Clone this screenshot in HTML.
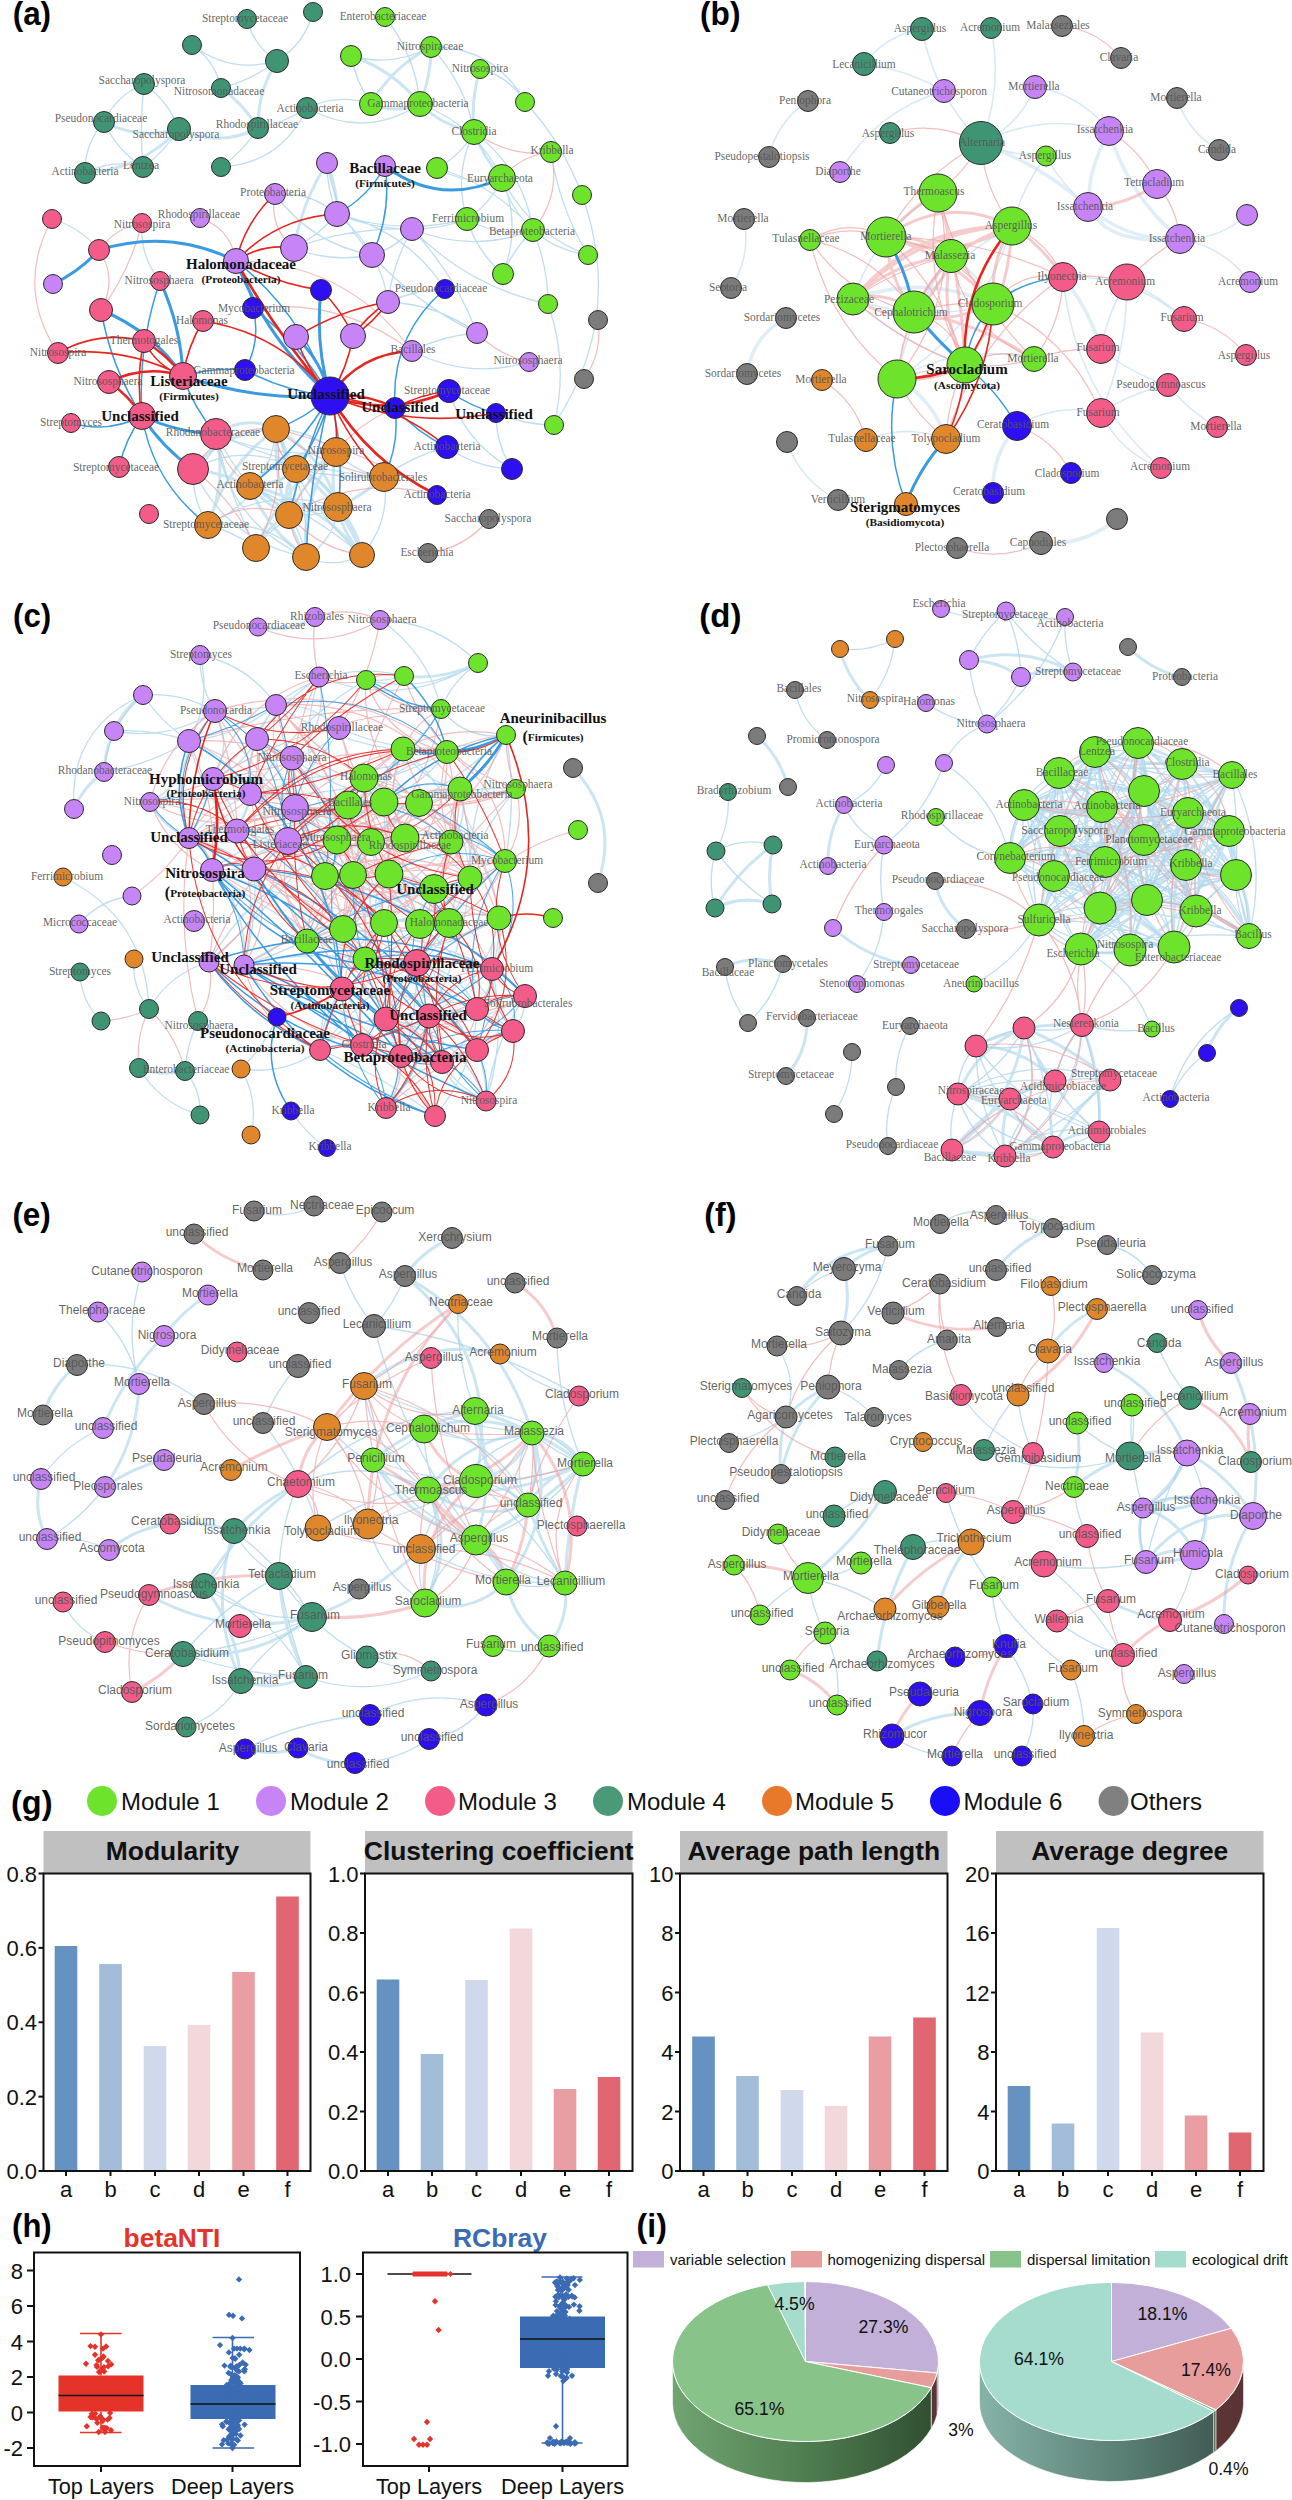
<!DOCTYPE html><html><head><meta charset="utf-8"><style>html,body{margin:0;padding:0;background:#fff;}svg{display:block;}</style></head><body>
<svg width="1292" height="2500" viewBox="0 0 1292 2500">
<rect width="1292" height="2500" fill="#fff"/>
<text x="12.7" y="25.1" font-family="Liberation Sans, sans-serif" font-weight="bold" font-size="33.6" fill="#000" textLength="38.4" lengthAdjust="spacingAndGlyphs">(a)</text>
<text x="700.1" y="25.0" font-family="Liberation Sans, sans-serif" font-weight="bold" font-size="33.6" fill="#000" textLength="40.3" lengthAdjust="spacingAndGlyphs">(b)</text>
<text x="13.0" y="627.2" font-family="Liberation Sans, sans-serif" font-weight="bold" font-size="33.6" fill="#000" textLength="38.1" lengthAdjust="spacingAndGlyphs">(c)</text>
<text x="699.3" y="627.2" font-family="Liberation Sans, sans-serif" font-weight="bold" font-size="33.6" fill="#000" textLength="42.1" lengthAdjust="spacingAndGlyphs">(d)</text>
<text x="12.4" y="1226" font-family="Liberation Sans, sans-serif" font-weight="bold" font-size="33.6" fill="#000" textLength="38.4" lengthAdjust="spacingAndGlyphs">(e)</text>
<text x="704.2" y="1226" font-family="Liberation Sans, sans-serif" font-weight="bold" font-size="33.6" fill="#000" textLength="32.2" lengthAdjust="spacingAndGlyphs">(f)</text>
<text x="11" y="1814" font-family="Liberation Sans, sans-serif" font-weight="bold" font-size="33.6" fill="#000" textLength="41.5" lengthAdjust="spacingAndGlyphs">(g)</text>
<text x="12.1" y="2237" font-family="Liberation Sans, sans-serif" font-weight="bold" font-size="33.6" fill="#000" textLength="39.6" lengthAdjust="spacingAndGlyphs">(h)</text>
<text x="636.6" y="2237" font-family="Liberation Sans, sans-serif" font-weight="bold" font-size="33.6" fill="#000" textLength="30.2" lengthAdjust="spacingAndGlyphs">(i)</text>
<path d="M247 19Q253.6 46 277 61M192 45Q230.5 74.2 277 61M313 12Q304.8 43.7 277 61M221 88Q251.7 80.1 277 61M144 84Q116.4 95 104 122M144 84Q139.3 125.5 143 167M144 84Q168.2 101.2 179 129M104 122Q116.8 150.3 143 167M104 122Q84.3 143.7 85 173M85 173Q112.8 158.4 143 167M143 167Q164.8 151.6 179 129M258 128Q284.5 122.9 307 108M221 167Q281.7 163.3 307 108M221 167Q243.4 151.2 258 128M192 45Q215.1 60.7 221 88M385 17Q415.6 55.2 420 104M351 56Q392.8 67.5 431 47M351 56Q356.2 82 371 104M431 47Q465.2 83 474 132M480 69Q509.1 76.5 525 102M431 47Q494.5 46.3 525 102M307 108Q364.7 139.9 420 104M307 108Q338.2 93.2 371 104M420 104Q475.8 124.6 502 178M474 132Q460.9 155.6 437 168M474 132Q453.1 174.1 467 219M525 102Q562.8 142.8 582 195M502 178Q509.7 208.7 533 230M502 178Q490.6 203.8 467 219M502 178Q529.6 233.7 588 255M474 132Q523.1 169.2 533 230M437 168Q467.5 186 502 178M467 219Q476.8 251.9 503 274M467 219Q440.5 229.5 412 229M533 230Q556.8 250.8 588 255M533 230Q513.6 249 503 274M533 230Q547.9 265.5 548 304M412 229Q472.3 253.7 533 230M582 195Q625.5 317 554 425M548 304Q569.1 363.6 554 425M327 163Q326.9 189.5 337 214M275 194Q310 191.6 337 214M294 248Q318.9 235.3 337 214M294 248Q331.9 263.2 372 255M337 214Q373 229 412 229M337 214Q358.6 231 372 255M372 255Q395.9 248 412 229M412 229Q392.7 263.1 388 302M372 255Q384.7 276.9 388 302M412 229Q454.9 274.5 477 333M337 214Q406 229.9 445 289M99 250Q80.2 227.4 52 219M142 223Q139.4 255.6 160 281M496 413Q495.6 443.4 512 469M447 447Q476.2 467.8 512 469M384 477Q412.5 455.7 447 447M388 302Q415.2 289.8 445 289M477 333Q442.7 335.5 412 351M449 391Q464.9 442.6 512 469M496 413Q523.8 424.8 554 425M294 248Q351.1 226.7 412 229M327 163Q335.7 215.8 372 255M275 194Q311.3 243.9 372 255M337 214Q401.2 236 467 219M412 229Q468.8 286.9 548 304M372 255Q416.7 304.5 477 333M388 302Q437.1 304.1 477 333M412 351Q468.3 379.9 529 362M437 168Q494.3 184.6 533 230M467 219Q497.8 237.7 533 230M502 178Q521.7 225.8 503 274M551 152Q559.2 207.2 588 255M276 429Q275 454.5 296 469M289 515Q314.6 517.7 338 507M276 429Q309.9 430.2 336 452M306 557Q225.9 521.2 216 434M296 469Q244.5 441.3 193 469M306 557Q334.5 569.6 362 555M276 429Q302.9 503 362 555M336 452Q273.7 458.4 216 434M336 452Q355.7 472.8 384 477M276 429Q269.2 496.3 208 525M306 557Q334.3 539.9 338 507M208 525Q264.4 518.3 306 557M216 434Q215 458.4 193 469M256 548Q228.6 493.6 216 434M289 515Q305 477.9 336 452M296 469Q276.8 487.6 250 486M208 525Q268.7 485 338 507M250 486Q296.7 506.7 306 557M296 469Q326.7 477.2 338 507M208 525Q191.8 499.3 193 469M296 469Q339.5 478.6 384 477M208 525Q234.1 532 256 548M250 486Q310.9 512.6 362 555M250 486Q230.1 461.9 216 434M296 469Q299.1 493 289 515M306 557Q227.2 541.6 193 469M384 477Q391.2 521.1 362 555M276 429Q309.7 488.6 306 557M256 548Q286.8 507.1 338 507M384 477Q296.2 470.3 216 434" fill="none" stroke="#a9d3ea" stroke-width="1.3" stroke-opacity="0.75"/>
<path d="M277 61Q257.4 91.7 258 128M221 88Q243.5 104.3 258 128M104 122Q140.1 140.5 179 129M85 173Q140.8 169.8 179 129M179 129Q218.8 148.2 258 128M351 56Q392.7 69.7 420 104M431 47Q392.4 66.5 371 104M431 47Q431.2 76.6 420 104M480 69Q470.7 99.9 474 132M371 104Q395.5 113.8 420 104M420 104Q442.8 126.1 474 132M474 132Q483.4 157.8 502 178M327 163Q337.1 187.5 337 214M327 163Q302 202.2 294 248M250 486Q265.9 505.4 289 515M296 469Q280.5 490.2 289 515M306 557Q300.3 498.6 336 452M276 429Q225.7 465.4 208 525M296 469Q342.2 501.9 362 555M276 429Q272.9 497.3 306 557M384 477Q363.1 495.3 338 507M336 452Q323.8 509.9 362 555M276 429Q294.8 470.1 289 515M289 515Q267 526 256 548M276 429Q225.5 430.3 193 469M276 429Q323.5 454.9 338 507M250 486Q318.1 500.8 362 555M250 486Q284.8 448.1 336 452M250 486Q267.3 530 306 557M276 429Q244.6 414.2 216 434M208 525Q227 480.8 216 434M296 469Q325.2 479 338 507M338 507Q357 527.5 362 555M296 469Q276.1 485.8 250 486M256 548Q281 487.5 336 452M289 515Q248.8 475.7 193 469" fill="none" stroke="#a9d3ea" stroke-width="3.0" stroke-opacity="0.6"/>
<path d="M474 132Q508.5 157.4 551 152M551 152Q561.5 195.5 533 230M502 178Q521.3 155.2 551 152M99 250Q115.1 227.9 142 223M99 250Q118 279.4 101 310M598 320Q602.8 352.3 584 379M489 519Q465.3 548.2 428 553M477 333Q498.6 355.3 529 362M275 194Q268.3 226.7 294 248M200 218Q230.9 228.7 236 261M52 219Q14.8 287.8 58 353M142 223Q130.2 270.6 101 310M253 308Q341.1 297.7 412 351M236 261Q346.5 262 412 351M250 486Q222.5 466.8 216 434M289 515Q291.4 538.5 306 557M289 515Q318 548.7 362 555M276 429Q287 492 256 548M336 452Q344 479.2 338 507M276 429Q361.6 449.6 437 495M276 429Q274.5 454.7 296 469M256 548Q234.2 500.8 193 469M289 515Q306.9 479.3 336 452M276 429Q222.7 424.5 193 469M336 452Q359.8 422.4 395 408M289 515Q245.8 497.8 208 525M276 429Q323.1 468.6 384 477M289 515Q358.8 473.8 437 495" fill="none" stroke="#eea0a3" stroke-width="1.2" stroke-opacity="0.7"/>
<path d="M385 166Q368.2 197.2 337 214M385 166Q391.9 212.4 372 255M160 281Q137.5 346.7 142 416M101 310Q110.9 367.1 142 416M183 376Q213.4 366.8 245 370M183 376Q193.7 408.3 216 434M142 416Q125.4 439.2 119 467M142 416Q107.9 433.7 71 423M142 416Q153.2 483.7 208 525M253 308Q300.3 344.3 330 396M236 261Q303.2 314.4 330 396M245 370Q284.9 391.5 330 396M296 469Q320.3 435.9 330 396M289 515Q303.6 453.4 330 396M250 486Q299 449 330 396M276 429Q306.3 417.9 330 396M338 507Q345.1 450.7 330 396M306 557Q309.9 475.3 330 396M395 408Q417.1 432.7 447 447M449 391Q470.3 406.7 496 413M445 289Q390.2 336 395 408M384 477Q399.9 444.1 395 408M253 308Q249.2 282.8 236 261M245 370Q261.4 340.6 253 308" fill="none" stroke="#3a9be0" stroke-width="1.5" stroke-opacity="1.0"/>
<path d="M385 166Q439.9 207.1 502 178M99 250Q169.7 228.1 236 261M99 250Q79.4 271.6 53 284M160 281Q181 326.2 183 376M101 310Q151.9 330.7 183 376M183 376Q254.5 400.7 330 396M142 416Q177.2 432.4 216 434M142 416Q162.2 447.6 193 469M236 261Q266.8 339.8 330 396M321 290Q314.9 343.9 330 396M296 337Q321.9 361.4 330 396" fill="none" stroke="#3a9be0" stroke-width="3.0" stroke-opacity="1.0"/>
<path d="M236 261Q245.4 221.7 275 194M236 261Q262.4 242.9 294 248M236 261Q277.1 217.3 337 214M236 261Q275.6 284 321 290M58 353Q98.6 329.8 144 341M58 353Q124 345.8 183 376M144 341Q135.5 378.3 142 416M203 321Q187.5 346.5 183 376M203 321Q281.5 333.1 330 396M144 341Q156.5 366.3 183 376M296 337Q307.1 369.9 330 396M353 336Q347.5 368.3 330 396M296 337Q338.5 310.3 388 302M353 336Q373.9 322.5 388 302M496 413Q410.4 429.4 330 396M447 447Q396.1 403.9 330 396M336 452Q338.6 423.4 330 396M384 477Q348.9 441.9 330 396M395 408Q420.3 394.1 449 391M321 290Q341.6 309.8 353 336M388 302Q367.1 315.5 353 336" fill="none" stroke="#e8241f" stroke-width="1.6" stroke-opacity="1.0"/>
<path d="M236 261Q276.2 333.2 330 396M144 341Q167 354.6 183 376M109 382Q144.8 364.2 183 376M109 382Q128.9 395.7 142 416M412 351Q359.8 353 330 396M395 408Q364.3 392.2 330 396M449 391Q390.5 417.3 330 396M437 495Q368.6 461.6 330 396" fill="none" stroke="#e8241f" stroke-width="2.6" stroke-opacity="1.0"/>
<circle cx="247" cy="19" r="9.5" fill="#3f9573" stroke="#2b2b2b" stroke-width="1"/>
<circle cx="313" cy="12" r="9.5" fill="#3f9573" stroke="#2b2b2b" stroke-width="1"/>
<circle cx="192" cy="45" r="9.5" fill="#3f9573" stroke="#2b2b2b" stroke-width="1"/>
<circle cx="277" cy="61" r="11.5" fill="#3f9573" stroke="#2b2b2b" stroke-width="1"/>
<circle cx="144" cy="84" r="10.5" fill="#3f9573" stroke="#2b2b2b" stroke-width="1"/>
<circle cx="221" cy="88" r="9.5" fill="#3f9573" stroke="#2b2b2b" stroke-width="1"/>
<circle cx="307" cy="108" r="10.5" fill="#3f9573" stroke="#2b2b2b" stroke-width="1"/>
<circle cx="104" cy="122" r="10.5" fill="#3f9573" stroke="#2b2b2b" stroke-width="1"/>
<circle cx="179" cy="129" r="11.5" fill="#3f9573" stroke="#2b2b2b" stroke-width="1"/>
<circle cx="258" cy="128" r="10.5" fill="#3f9573" stroke="#2b2b2b" stroke-width="1"/>
<circle cx="143" cy="167" r="10.5" fill="#3f9573" stroke="#2b2b2b" stroke-width="1"/>
<circle cx="85" cy="173" r="10.5" fill="#3f9573" stroke="#2b2b2b" stroke-width="1"/>
<circle cx="221" cy="167" r="9.5" fill="#3f9573" stroke="#2b2b2b" stroke-width="1"/>
<circle cx="385" cy="17" r="9.5" fill="#6de32c" stroke="#2b2b2b" stroke-width="1"/>
<circle cx="351" cy="56" r="10.5" fill="#6de32c" stroke="#2b2b2b" stroke-width="1"/>
<circle cx="431" cy="47" r="10.5" fill="#6de32c" stroke="#2b2b2b" stroke-width="1"/>
<circle cx="480" cy="69" r="9.5" fill="#6de32c" stroke="#2b2b2b" stroke-width="1"/>
<circle cx="525" cy="102" r="9.5" fill="#6de32c" stroke="#2b2b2b" stroke-width="1"/>
<circle cx="371" cy="104" r="11.5" fill="#6de32c" stroke="#2b2b2b" stroke-width="1"/>
<circle cx="420" cy="104" r="12.5" fill="#6de32c" stroke="#2b2b2b" stroke-width="1"/>
<circle cx="474" cy="132" r="12.5" fill="#6de32c" stroke="#2b2b2b" stroke-width="1"/>
<circle cx="551" cy="152" r="10.5" fill="#6de32c" stroke="#2b2b2b" stroke-width="1"/>
<circle cx="327" cy="163" r="10.5" fill="#c684f7" stroke="#2b2b2b" stroke-width="1"/>
<circle cx="385" cy="166" r="10.5" fill="#c684f7" stroke="#2b2b2b" stroke-width="1"/>
<circle cx="437" cy="168" r="10.5" fill="#6de32c" stroke="#2b2b2b" stroke-width="1"/>
<circle cx="502" cy="178" r="13.5" fill="#6de32c" stroke="#2b2b2b" stroke-width="1"/>
<circle cx="582" cy="195" r="9.5" fill="#6de32c" stroke="#2b2b2b" stroke-width="1"/>
<circle cx="337" cy="214" r="12.5" fill="#c684f7" stroke="#2b2b2b" stroke-width="1"/>
<circle cx="412" cy="229" r="11.5" fill="#c684f7" stroke="#2b2b2b" stroke-width="1"/>
<circle cx="467" cy="219" r="11.5" fill="#6de32c" stroke="#2b2b2b" stroke-width="1"/>
<circle cx="533" cy="230" r="11.5" fill="#6de32c" stroke="#2b2b2b" stroke-width="1"/>
<circle cx="588" cy="255" r="9.5" fill="#6de32c" stroke="#2b2b2b" stroke-width="1"/>
<circle cx="372" cy="255" r="12.5" fill="#c684f7" stroke="#2b2b2b" stroke-width="1"/>
<circle cx="503" cy="274" r="10.5" fill="#6de32c" stroke="#2b2b2b" stroke-width="1"/>
<circle cx="445" cy="289" r="9.5" fill="#2e0ff2" stroke="#2b2b2b" stroke-width="1"/>
<circle cx="321" cy="290" r="10.5" fill="#2e0ff2" stroke="#2b2b2b" stroke-width="1"/>
<circle cx="388" cy="302" r="11.5" fill="#c684f7" stroke="#2b2b2b" stroke-width="1"/>
<circle cx="548" cy="304" r="9.5" fill="#6de32c" stroke="#2b2b2b" stroke-width="1"/>
<circle cx="598" cy="320" r="9.5" fill="#7b7b7b" stroke="#2b2b2b" stroke-width="1"/>
<circle cx="275" cy="194" r="10.5" fill="#c684f7" stroke="#2b2b2b" stroke-width="1"/>
<circle cx="52" cy="219" r="9.5" fill="#f35b88" stroke="#2b2b2b" stroke-width="1"/>
<circle cx="142" cy="223" r="9.5" fill="#f35b88" stroke="#2b2b2b" stroke-width="1"/>
<circle cx="200" cy="218" r="9.5" fill="#c684f7" stroke="#2b2b2b" stroke-width="1"/>
<circle cx="99" cy="250" r="10.5" fill="#f35b88" stroke="#2b2b2b" stroke-width="1"/>
<circle cx="294" cy="248" r="13.5" fill="#c684f7" stroke="#2b2b2b" stroke-width="1"/>
<circle cx="236" cy="261" r="12.5" fill="#c684f7" stroke="#2b2b2b" stroke-width="1"/>
<circle cx="53" cy="284" r="9.5" fill="#c684f7" stroke="#2b2b2b" stroke-width="1"/>
<circle cx="160" cy="281" r="9.5" fill="#f35b88" stroke="#2b2b2b" stroke-width="1"/>
<circle cx="101" cy="310" r="11.5" fill="#f35b88" stroke="#2b2b2b" stroke-width="1"/>
<circle cx="253" cy="308" r="10.5" fill="#2e0ff2" stroke="#2b2b2b" stroke-width="1"/>
<circle cx="203" cy="321" r="10.5" fill="#f35b88" stroke="#2b2b2b" stroke-width="1"/>
<circle cx="296" cy="337" r="12.5" fill="#c684f7" stroke="#2b2b2b" stroke-width="1"/>
<circle cx="144" cy="341" r="11.5" fill="#f35b88" stroke="#2b2b2b" stroke-width="1"/>
<circle cx="58" cy="353" r="10.5" fill="#f35b88" stroke="#2b2b2b" stroke-width="1"/>
<circle cx="245" cy="370" r="10.5" fill="#2e0ff2" stroke="#2b2b2b" stroke-width="1"/>
<circle cx="183" cy="376" r="13.5" fill="#f35b88" stroke="#2b2b2b" stroke-width="1"/>
<circle cx="109" cy="382" r="11.5" fill="#f35b88" stroke="#2b2b2b" stroke-width="1"/>
<circle cx="330" cy="396" r="19" fill="#2e0ff2" stroke="#2b2b2b" stroke-width="1"/>
<circle cx="142" cy="416" r="13.5" fill="#f35b88" stroke="#2b2b2b" stroke-width="1"/>
<circle cx="71" cy="423" r="9.5" fill="#f35b88" stroke="#2b2b2b" stroke-width="1"/>
<circle cx="276" cy="429" r="13.5" fill="#e0872b" stroke="#2b2b2b" stroke-width="1"/>
<circle cx="216" cy="434" r="15.5" fill="#f35b88" stroke="#2b2b2b" stroke-width="1"/>
<circle cx="119" cy="467" r="10.5" fill="#f35b88" stroke="#2b2b2b" stroke-width="1"/>
<circle cx="193" cy="469" r="15.5" fill="#f35b88" stroke="#2b2b2b" stroke-width="1"/>
<circle cx="296" cy="469" r="13.5" fill="#e0872b" stroke="#2b2b2b" stroke-width="1"/>
<circle cx="250" cy="486" r="13.5" fill="#e0872b" stroke="#2b2b2b" stroke-width="1"/>
<circle cx="149" cy="514" r="9.5" fill="#f35b88" stroke="#2b2b2b" stroke-width="1"/>
<circle cx="289" cy="515" r="13.5" fill="#e0872b" stroke="#2b2b2b" stroke-width="1"/>
<circle cx="208" cy="525" r="13.5" fill="#e0872b" stroke="#2b2b2b" stroke-width="1"/>
<circle cx="256" cy="548" r="13.5" fill="#e0872b" stroke="#2b2b2b" stroke-width="1"/>
<circle cx="306" cy="557" r="13.5" fill="#e0872b" stroke="#2b2b2b" stroke-width="1"/>
<circle cx="353" cy="336" r="12.5" fill="#c684f7" stroke="#2b2b2b" stroke-width="1"/>
<circle cx="477" cy="333" r="10.5" fill="#c684f7" stroke="#2b2b2b" stroke-width="1"/>
<circle cx="412" cy="351" r="10.5" fill="#c684f7" stroke="#2b2b2b" stroke-width="1"/>
<circle cx="529" cy="362" r="9.5" fill="#c684f7" stroke="#2b2b2b" stroke-width="1"/>
<circle cx="584" cy="379" r="9.5" fill="#7b7b7b" stroke="#2b2b2b" stroke-width="1"/>
<circle cx="449" cy="391" r="11.5" fill="#2e0ff2" stroke="#2b2b2b" stroke-width="1"/>
<circle cx="395" cy="408" r="10.5" fill="#2e0ff2" stroke="#2b2b2b" stroke-width="1"/>
<circle cx="496" cy="413" r="9.5" fill="#2e0ff2" stroke="#2b2b2b" stroke-width="1"/>
<circle cx="554" cy="425" r="9.5" fill="#6de32c" stroke="#2b2b2b" stroke-width="1"/>
<circle cx="336" cy="452" r="14.5" fill="#e0872b" stroke="#2b2b2b" stroke-width="1"/>
<circle cx="447" cy="447" r="11.5" fill="#2e0ff2" stroke="#2b2b2b" stroke-width="1"/>
<circle cx="384" cy="477" r="14.5" fill="#e0872b" stroke="#2b2b2b" stroke-width="1"/>
<circle cx="512" cy="469" r="10.5" fill="#2e0ff2" stroke="#2b2b2b" stroke-width="1"/>
<circle cx="437" cy="495" r="9.5" fill="#2e0ff2" stroke="#2b2b2b" stroke-width="1"/>
<circle cx="338" cy="507" r="14.5" fill="#e0872b" stroke="#2b2b2b" stroke-width="1"/>
<circle cx="489" cy="519" r="9.5" fill="#7b7b7b" stroke="#2b2b2b" stroke-width="1"/>
<circle cx="362" cy="555" r="12.5" fill="#e0872b" stroke="#2b2b2b" stroke-width="1"/>
<circle cx="428" cy="553" r="9.5" fill="#7b7b7b" stroke="#2b2b2b" stroke-width="1"/>
<g font-family="Liberation Serif, serif" font-size="12.1" fill="#555" fill-opacity="0.92" text-anchor="middle" lengthAdjust="spacingAndGlyphs">
<text x="245" y="22" textLength="86.1" lengthAdjust="spacingAndGlyphs">Streptomycetaceae</text>
<text x="142" y="84" textLength="86.8" lengthAdjust="spacingAndGlyphs">Saccharopolyspora</text>
<text x="219" y="95" textLength="90.5" lengthAdjust="spacingAndGlyphs">Nitrosomonadaceae</text>
<text x="310" y="112" textLength="67.1" lengthAdjust="spacingAndGlyphs">Actinobacteria</text>
<text x="101" y="122" textLength="92.5" lengthAdjust="spacingAndGlyphs">Pseudonocardiaceae</text>
<text x="176" y="138" textLength="86.8" lengthAdjust="spacingAndGlyphs">Saccharopolyspora</text>
<text x="257" y="128" textLength="82.3" lengthAdjust="spacingAndGlyphs">Rhodospirillaceae</text>
<text x="141" y="169" textLength="36.1" lengthAdjust="spacingAndGlyphs">Lentzea</text>
<text x="85" y="175" textLength="67.1" lengthAdjust="spacingAndGlyphs">Actinobacteria</text>
<text x="273" y="196" textLength="65.9" lengthAdjust="spacingAndGlyphs">Proteobacteria</text>
<text x="199" y="218" textLength="82.3" lengthAdjust="spacingAndGlyphs">Rhodospirillaceae</text>
<text x="142" y="228" textLength="56.4" lengthAdjust="spacingAndGlyphs">Nitrosospira</text>
<text x="159" y="284" textLength="69" lengthAdjust="spacingAndGlyphs">Nitrososphaera</text>
<text x="383" y="20" textLength="86.7" lengthAdjust="spacingAndGlyphs">Enterobacteriaceae</text>
<text x="430" y="50" textLength="66.5" lengthAdjust="spacingAndGlyphs">Nitrospiraceae</text>
<text x="480" y="72" textLength="56.4" lengthAdjust="spacingAndGlyphs">Nitrosospira</text>
<text x="418" y="107" textLength="101.3" lengthAdjust="spacingAndGlyphs">Gammaproteobacteria</text>
<text x="474" y="135" textLength="45" lengthAdjust="spacingAndGlyphs">Clostridia</text>
<text x="552" y="154" textLength="43.1" lengthAdjust="spacingAndGlyphs">Kribbella</text>
<text x="500" y="182" textLength="65.8" lengthAdjust="spacingAndGlyphs">Euryarchaeota</text>
<text x="468" y="222" textLength="72.2" lengthAdjust="spacingAndGlyphs">Ferrimicrobium</text>
<text x="532" y="235" textLength="86.1" lengthAdjust="spacingAndGlyphs">Betaproteobacteria</text>
<text x="441" y="292" textLength="92.5" lengthAdjust="spacingAndGlyphs">Pseudonocardiaceae</text>
<text x="254" y="312" textLength="72.2" lengthAdjust="spacingAndGlyphs">Mycobacterium</text>
<text x="202" y="324" textLength="51.9" lengthAdjust="spacingAndGlyphs">Halomonas</text>
<text x="144" y="344" textLength="68.4" lengthAdjust="spacingAndGlyphs">Thermotogales</text>
<text x="58" y="356" textLength="56.4" lengthAdjust="spacingAndGlyphs">Nitrosospira</text>
<text x="244" y="374" textLength="101.3" lengthAdjust="spacingAndGlyphs">Gammaproteobacteria</text>
<text x="108" y="385" textLength="69" lengthAdjust="spacingAndGlyphs">Nitrososphaera</text>
<text x="71" y="426" textLength="62.1" lengthAdjust="spacingAndGlyphs">Streptomyces</text>
<text x="213" y="436" textLength="94.3" lengthAdjust="spacingAndGlyphs">Rhodanobacteraceae</text>
<text x="116" y="471" textLength="86.1" lengthAdjust="spacingAndGlyphs">Streptomycetaceae</text>
<text x="285" y="470" textLength="86.1" lengthAdjust="spacingAndGlyphs">Streptomycetaceae</text>
<text x="250" y="488" textLength="67.1" lengthAdjust="spacingAndGlyphs">Actinobacteria</text>
<text x="206" y="528" textLength="86.1" lengthAdjust="spacingAndGlyphs">Streptomycetaceae</text>
<text x="413" y="353" textLength="45" lengthAdjust="spacingAndGlyphs">Bacillales</text>
<text x="528" y="364" textLength="69" lengthAdjust="spacingAndGlyphs">Nitrososphaera</text>
<text x="447" y="394" textLength="86.1" lengthAdjust="spacingAndGlyphs">Streptomycetaceae</text>
<text x="447" y="450" textLength="67.1" lengthAdjust="spacingAndGlyphs">Actinobacteria</text>
<text x="336" y="454" textLength="56.4" lengthAdjust="spacingAndGlyphs">Nitrosospira</text>
<text x="383" y="481" textLength="88.7" lengthAdjust="spacingAndGlyphs">Solirubrobacterales</text>
<text x="437" y="498" textLength="67.1" lengthAdjust="spacingAndGlyphs">Actinobacteria</text>
<text x="337" y="511" textLength="69" lengthAdjust="spacingAndGlyphs">Nitrososphaera</text>
<text x="488" y="522" textLength="86.8" lengthAdjust="spacingAndGlyphs">Saccharopolyspora</text>
<text x="427" y="556" textLength="53.2" lengthAdjust="spacingAndGlyphs">Escherichia</text>
</g>
<g font-family="Liberation Serif, serif" font-weight="bold" fill="#111" text-anchor="middle">
<text x="241" y="269.2" font-size="15.0">Halomonadaceae</text>
<text x="241" y="283" font-size="11.3">(Proteobacteria)</text>
<text x="385" y="173.2" font-size="15.0">Bacillaceae</text>
<text x="385" y="187" font-size="11.3">(Firmicutes)</text>
<text x="189" y="386.2" font-size="15.0">Listeriaceae</text>
<text x="189" y="400" font-size="11.3">(Firmicutes)</text>
<text x="140" y="421.2" font-size="15.0">Unclassified</text>
<text x="326" y="399.2" font-size="15.0">Unclassified</text>
<text x="400" y="412.2" font-size="15.0">Unclassified</text>
<text x="494" y="419.2" font-size="15.0">Unclassified</text>
</g>
<path d="M808 101Q777.3 121.2 769 157M744 219Q751.3 256.1 731 288M787 442Q800.9 481.2 838 500M1177 98Q1187.6 132.4 1219 150M1180 239Q1218.3 240.4 1247 215M1180 239Q1223.6 246.5 1250 282M981 143Q1019.2 125.8 1035 87M981 143Q1042.6 111.4 1109 131M981 143Q1012.2 156 1046 156M944 91Q875.8 110.7 840 172M864 64Q886 34.9 922 29M864 64Q906.7 69.5 944 91M991 28Q1003.2 87 981 143M922 29Q934.4 94.8 981 143M1035 87Q1080.8 94.2 1109 131M1168 385Q1188.3 410.9 1217 427M1101 413Q1120 452.5 1161 468M1127 282Q1107.3 312.9 1101 349M1184 319Q1131.9 273.8 1063 277M1017 426Q1056.4 402.7 1101 413M946 439Q905.8 423.5 866 440M1046 156Q1061.9 185.7 1088 207M1046 156Q1022 187.6 1012 226M1101 349Q1130.9 373.7 1168 385M1101 413Q1131.7 392.3 1168 385M1127 282Q1159.2 294.8 1184 319M1063 277Q1073.8 392.1 1161 468M1101 413Q1127.1 350.1 1127 282M1012 226Q983.3 324.2 897 379M853 299Q922.2 323.9 993 304M938 193Q876 230.4 853 299M853 299Q902.4 343.3 965 365M951 256Q910.1 311.4 897 379M1012 226Q953.1 257.7 914 312M951 256Q979.1 273.7 993 304M897 379Q961.6 342.4 1034 359" fill="none" stroke="#c9e2f2" stroke-width="1.56" stroke-opacity="0.75"/>
<path d="M786 318Q752.5 336.2 747 374M1017 426Q991.6 454.7 993 493M1041 543Q1083.8 546.2 1117 519M1109 131Q1047.3 248.9 1180 239M1109 131Q1128.3 195.7 1180 239M1088 207Q1127.6 241.4 1180 239M981 143Q1040.9 164.3 1088 207M1063 277Q1089.2 309.2 1101 349M853 299Q924 273.5 993 304M897 379Q933.5 399.2 946 439" fill="none" stroke="#c9e2f2" stroke-width="3.5999999999999996" stroke-opacity="0.6"/>
<path d="M822 380Q856 401.2 866 440M1017 426Q1053.4 438.7 1071 473M957 548Q1000 562.3 1041 543M1062 26Q1097.9 30.2 1121 58M1109 131Q1141 150.3 1157 184M1157 184Q1176.8 208.1 1180 239M1180 239Q1149.2 255.2 1127 282M981 143Q937.5 119.8 890 133M981 143Q984 189.2 1012 226M981 143Q964.5 172.3 938 193M981 143Q919.4 175.8 886 237M1184 319Q1222.2 324.6 1246 355M1101 413Q1068.8 336.9 993 304M1127 282Q1095.5 273.1 1063 277M965 365Q1000.1 368.9 1034 359M1034 359Q1066.5 347.3 1101 349M810 240Q847.4 223.3 886 237M810 240Q847.6 296.8 914 312M1012 226Q1047.7 241.3 1063 277M938 193Q962.9 289.4 1034 359M951 256Q965 329.6 1034 359M886 237Q954.1 247.1 993 304M897 379Q914.7 414.5 946 439M886 237Q943.5 289.9 965 365M965 365Q930.2 368.1 897 379M951 256Q974.8 277.6 993 304M853 299Q902 343.8 965 365M886 237Q919.7 242.5 951 256M938 193Q962.7 296 897 379M965 365Q998.1 345.6 1034 359M951 256Q897.9 268.2 853 299M914 312Q901.5 344.5 897 379M897 379Q829.2 324.7 810 240M938 193Q920.8 283.8 965 365M965 365Q947.9 400.1 946 439M951 256Q903.8 308.6 897 379M886 237Q978.9 237.5 1063 277M1034 359Q1062.1 322.8 1063 277M993 304Q984.8 337.2 965 365M914 312Q954.2 324.3 965 365M886 237Q847.1 216.7 810 240M914 312Q952.7 300.5 993 304M946 439Q976.1 337.5 1063 277M914 312Q876.7 254.7 810 240M993 304Q1019.9 269.5 1063 277" fill="none" stroke="#eea0a3" stroke-width="1.2" stroke-opacity="0.7"/>
<path d="M1088 207Q1126 205.8 1157 184M1063 277Q1042.6 246.4 1012 226M886 237Q945.7 193.7 1012 226M853 299Q917.9 230.7 1012 226M886 237Q949.5 254.4 993 304M938 193Q907.6 209.8 886 237M853 299Q921.8 336.5 993 304M951 256Q938.4 313 965 365M886 237Q921.8 235.1 951 256M1012 226Q989.7 261.9 993 304M951 256Q941 289.6 914 312M1012 226Q943.5 246.8 914 312M1012 226Q915 224.4 853 299M938 193Q961.4 277.4 965 365M886 237Q888.7 278.7 914 312M1012 226Q1008.9 302.4 965 365M853 299Q886.9 289.5 914 312M914 312Q978.9 323.1 1034 359M951 256Q894.8 261.1 853 299M965 365Q933.2 382.5 897 379M886 237Q951.7 262.3 1012 226" fill="none" stroke="#eea0a3" stroke-width="3.0" stroke-opacity="0.55"/>
<path d="M1063 277Q1024 280 993 304M993 304Q969.9 330.3 965 365M965 365Q997.1 390.3 1017 426M897 379Q882.8 442.9 906 504" fill="none" stroke="#3a9be0" stroke-width="1.5" stroke-opacity="1.0"/>
<path d="M886 237Q907.5 271.7 914 312M914 312Q936.9 341.1 965 365M946 439Q919.5 467.5 906 504" fill="none" stroke="#3a9be0" stroke-width="3.0" stroke-opacity="1.0"/>
<path d="M993 304Q985.1 337.3 965 365M946 439Q962.9 403.9 965 365M993 304Q989.8 378.6 946 439" fill="none" stroke="#e8241f" stroke-width="1.6" stroke-opacity="1.0"/>
<path d="M1012 226Q960.7 286.1 965 365M897 379Q932.4 378.8 965 365" fill="none" stroke="#e8241f" stroke-width="2.6" stroke-opacity="1.0"/>
<circle cx="922" cy="29" r="11.5" fill="#3f9573" stroke="#2b2b2b" stroke-width="1"/>
<circle cx="864" cy="64" r="11.5" fill="#3f9573" stroke="#2b2b2b" stroke-width="1"/>
<circle cx="808" cy="101" r="10.5" fill="#7b7b7b" stroke="#2b2b2b" stroke-width="1"/>
<circle cx="944" cy="91" r="11.5" fill="#c684f7" stroke="#2b2b2b" stroke-width="1"/>
<circle cx="890" cy="133" r="10.5" fill="#3f9573" stroke="#2b2b2b" stroke-width="1"/>
<circle cx="769" cy="157" r="10.5" fill="#7b7b7b" stroke="#2b2b2b" stroke-width="1"/>
<circle cx="840" cy="172" r="10.5" fill="#c684f7" stroke="#2b2b2b" stroke-width="1"/>
<circle cx="938" cy="193" r="19" fill="#6de32c" stroke="#2b2b2b" stroke-width="1"/>
<circle cx="744" cy="219" r="10.5" fill="#7b7b7b" stroke="#2b2b2b" stroke-width="1"/>
<circle cx="810" cy="240" r="10.5" fill="#6de32c" stroke="#2b2b2b" stroke-width="1"/>
<circle cx="886" cy="237" r="20" fill="#6de32c" stroke="#2b2b2b" stroke-width="1"/>
<circle cx="951" cy="256" r="16.5" fill="#6de32c" stroke="#2b2b2b" stroke-width="1"/>
<circle cx="731" cy="288" r="10.5" fill="#7b7b7b" stroke="#2b2b2b" stroke-width="1"/>
<circle cx="853" cy="299" r="16" fill="#6de32c" stroke="#2b2b2b" stroke-width="1"/>
<circle cx="991" cy="28" r="10.5" fill="#3f9573" stroke="#2b2b2b" stroke-width="1"/>
<circle cx="1062" cy="26" r="10.5" fill="#7b7b7b" stroke="#2b2b2b" stroke-width="1"/>
<circle cx="1121" cy="58" r="10.5" fill="#7b7b7b" stroke="#2b2b2b" stroke-width="1"/>
<circle cx="1035" cy="87" r="11.5" fill="#c684f7" stroke="#2b2b2b" stroke-width="1"/>
<circle cx="1177" cy="98" r="10.5" fill="#7b7b7b" stroke="#2b2b2b" stroke-width="1"/>
<circle cx="981" cy="143" r="21.5" fill="#3f9573" stroke="#2b2b2b" stroke-width="1"/>
<circle cx="1109" cy="131" r="14.5" fill="#c684f7" stroke="#2b2b2b" stroke-width="1"/>
<circle cx="1046" cy="156" r="10" fill="#6de32c" stroke="#2b2b2b" stroke-width="1"/>
<circle cx="1219" cy="150" r="10.5" fill="#7b7b7b" stroke="#2b2b2b" stroke-width="1"/>
<circle cx="1157" cy="184" r="14.5" fill="#c684f7" stroke="#2b2b2b" stroke-width="1"/>
<circle cx="1088" cy="207" r="14.5" fill="#c684f7" stroke="#2b2b2b" stroke-width="1"/>
<circle cx="1012" cy="226" r="19" fill="#6de32c" stroke="#2b2b2b" stroke-width="1"/>
<circle cx="1247" cy="215" r="10.5" fill="#c684f7" stroke="#2b2b2b" stroke-width="1"/>
<circle cx="1180" cy="239" r="14.5" fill="#c684f7" stroke="#2b2b2b" stroke-width="1"/>
<circle cx="1063" cy="277" r="14.5" fill="#f35b88" stroke="#2b2b2b" stroke-width="1"/>
<circle cx="1127" cy="282" r="18" fill="#f35b88" stroke="#2b2b2b" stroke-width="1"/>
<circle cx="1250" cy="282" r="10.5" fill="#c684f7" stroke="#2b2b2b" stroke-width="1"/>
<circle cx="914" cy="312" r="21" fill="#6de32c" stroke="#2b2b2b" stroke-width="1"/>
<circle cx="786" cy="318" r="10.5" fill="#7b7b7b" stroke="#2b2b2b" stroke-width="1"/>
<circle cx="897" cy="379" r="19" fill="#6de32c" stroke="#2b2b2b" stroke-width="1"/>
<circle cx="747" cy="374" r="10.5" fill="#7b7b7b" stroke="#2b2b2b" stroke-width="1"/>
<circle cx="822" cy="380" r="10.5" fill="#e0872b" stroke="#2b2b2b" stroke-width="1"/>
<circle cx="787" cy="442" r="10.5" fill="#7b7b7b" stroke="#2b2b2b" stroke-width="1"/>
<circle cx="866" cy="440" r="11.5" fill="#e0872b" stroke="#2b2b2b" stroke-width="1"/>
<circle cx="946" cy="439" r="14.5" fill="#e0872b" stroke="#2b2b2b" stroke-width="1"/>
<circle cx="838" cy="500" r="10.5" fill="#7b7b7b" stroke="#2b2b2b" stroke-width="1"/>
<circle cx="906" cy="504" r="11.5" fill="#e0872b" stroke="#2b2b2b" stroke-width="1"/>
<circle cx="957" cy="548" r="10.5" fill="#7b7b7b" stroke="#2b2b2b" stroke-width="1"/>
<circle cx="993" cy="304" r="21" fill="#6de32c" stroke="#2b2b2b" stroke-width="1"/>
<circle cx="1184" cy="319" r="12.5" fill="#f35b88" stroke="#2b2b2b" stroke-width="1"/>
<circle cx="1101" cy="349" r="14.5" fill="#f35b88" stroke="#2b2b2b" stroke-width="1"/>
<circle cx="1034" cy="359" r="12.5" fill="#6de32c" stroke="#2b2b2b" stroke-width="1"/>
<circle cx="965" cy="365" r="18" fill="#6de32c" stroke="#2b2b2b" stroke-width="1"/>
<circle cx="1246" cy="355" r="10.5" fill="#f35b88" stroke="#2b2b2b" stroke-width="1"/>
<circle cx="1168" cy="385" r="11.5" fill="#f35b88" stroke="#2b2b2b" stroke-width="1"/>
<circle cx="1101" cy="413" r="14.5" fill="#f35b88" stroke="#2b2b2b" stroke-width="1"/>
<circle cx="1017" cy="426" r="14.5" fill="#2e0ff2" stroke="#2b2b2b" stroke-width="1"/>
<circle cx="1217" cy="427" r="10.5" fill="#f35b88" stroke="#2b2b2b" stroke-width="1"/>
<circle cx="1161" cy="468" r="10.5" fill="#f35b88" stroke="#2b2b2b" stroke-width="1"/>
<circle cx="1071" cy="473" r="10.5" fill="#2e0ff2" stroke="#2b2b2b" stroke-width="1"/>
<circle cx="993" cy="493" r="10.5" fill="#2e0ff2" stroke="#2b2b2b" stroke-width="1"/>
<circle cx="1117" cy="519" r="10.5" fill="#7b7b7b" stroke="#2b2b2b" stroke-width="1"/>
<circle cx="1041" cy="543" r="11.5" fill="#7b7b7b" stroke="#2b2b2b" stroke-width="1"/>
<g font-family="Liberation Serif, serif" font-size="12.1" fill="#555" fill-opacity="0.92" text-anchor="middle" lengthAdjust="spacingAndGlyphs">
<text x="920" y="32" textLength="52.4" lengthAdjust="spacingAndGlyphs">Aspergillus</text>
<text x="864" y="68" textLength="63.3" lengthAdjust="spacingAndGlyphs">Lecanicillium</text>
<text x="805" y="104" textLength="51.9" lengthAdjust="spacingAndGlyphs">Peniophora</text>
<text x="939" y="95" textLength="95.7" lengthAdjust="spacingAndGlyphs">Cutaneotrichosporon</text>
<text x="888" y="137" textLength="52.4" lengthAdjust="spacingAndGlyphs">Aspergillus</text>
<text x="762" y="160" textLength="95" lengthAdjust="spacingAndGlyphs">Pseudopestalotiopsis</text>
<text x="838" y="175" textLength="45.6" lengthAdjust="spacingAndGlyphs">Diaporthe</text>
<text x="934" y="195" textLength="60.8" lengthAdjust="spacingAndGlyphs">Thermoascus</text>
<text x="743" y="222" textLength="51.3" lengthAdjust="spacingAndGlyphs">Mortierella</text>
<text x="806" y="242" textLength="67.3" lengthAdjust="spacingAndGlyphs">Tulasnellaceae</text>
<text x="886" y="240" textLength="51.3" lengthAdjust="spacingAndGlyphs">Mortierella</text>
<text x="950" y="259" textLength="50.7" lengthAdjust="spacingAndGlyphs">Malassezia</text>
<text x="728" y="291" textLength="38" lengthAdjust="spacingAndGlyphs">Septoria</text>
<text x="849" y="303" textLength="50" lengthAdjust="spacingAndGlyphs">Pezizaceae</text>
<text x="990" y="31" textLength="60.1" lengthAdjust="spacingAndGlyphs">Acremonium</text>
<text x="1058" y="29" textLength="63.3" lengthAdjust="spacingAndGlyphs">Malasseziales</text>
<text x="1119" y="61" textLength="38.6" lengthAdjust="spacingAndGlyphs">Clavaria</text>
<text x="1034" y="90" textLength="51.3" lengthAdjust="spacingAndGlyphs">Mortierella</text>
<text x="1176" y="101" textLength="51.3" lengthAdjust="spacingAndGlyphs">Mortierella</text>
<text x="982" y="146" textLength="46.2" lengthAdjust="spacingAndGlyphs">Alternaria</text>
<text x="1105" y="133" textLength="56.4" lengthAdjust="spacingAndGlyphs">Issatchenkia</text>
<text x="1045" y="159" textLength="52.4" lengthAdjust="spacingAndGlyphs">Aspergillus</text>
<text x="1217" y="153" textLength="38" lengthAdjust="spacingAndGlyphs">Candida</text>
<text x="1154" y="186" textLength="60" lengthAdjust="spacingAndGlyphs">Tetracladium</text>
<text x="1085" y="210" textLength="56.4" lengthAdjust="spacingAndGlyphs">Issatchenkia</text>
<text x="1011" y="229" textLength="52.4" lengthAdjust="spacingAndGlyphs">Aspergillus</text>
<text x="1177" y="242" textLength="56.4" lengthAdjust="spacingAndGlyphs">Issatchenkia</text>
<text x="1062" y="280" textLength="49.4" lengthAdjust="spacingAndGlyphs">Ilyonectria</text>
<text x="1125" y="285" textLength="60.1" lengthAdjust="spacingAndGlyphs">Acremonium</text>
<text x="1248" y="285" textLength="60.1" lengthAdjust="spacingAndGlyphs">Acremonium</text>
<text x="782" y="321" textLength="76.6" lengthAdjust="spacingAndGlyphs">Sordariomycetes</text>
<text x="911" y="316" textLength="73.5" lengthAdjust="spacingAndGlyphs">Cephalotrichum</text>
<text x="743" y="377" textLength="76.6" lengthAdjust="spacingAndGlyphs">Sordariomycetes</text>
<text x="821" y="383" textLength="51.3" lengthAdjust="spacingAndGlyphs">Mortierella</text>
<text x="862" y="442" textLength="67.3" lengthAdjust="spacingAndGlyphs">Tulasnellaceae</text>
<text x="946" y="442" textLength="68.9" lengthAdjust="spacingAndGlyphs">Tolypocladium</text>
<text x="838" y="503" textLength="54.5" lengthAdjust="spacingAndGlyphs">Verticillium</text>
<text x="990" y="307" textLength="64.6" lengthAdjust="spacingAndGlyphs">Cladosporium</text>
<text x="1182" y="321" textLength="43.1" lengthAdjust="spacingAndGlyphs">Fusarium</text>
<text x="1098" y="351" textLength="43.1" lengthAdjust="spacingAndGlyphs">Fusarium</text>
<text x="1033" y="362" textLength="51.3" lengthAdjust="spacingAndGlyphs">Mortierella</text>
<text x="1244" y="359" textLength="52.4" lengthAdjust="spacingAndGlyphs">Aspergillus</text>
<text x="1161" y="388" textLength="89.3" lengthAdjust="spacingAndGlyphs">Pseudogymnoascus</text>
<text x="1098" y="416" textLength="43.1" lengthAdjust="spacingAndGlyphs">Fusarium</text>
<text x="1013" y="428" textLength="72.2" lengthAdjust="spacingAndGlyphs">Ceratobasidium</text>
<text x="1216" y="430" textLength="51.3" lengthAdjust="spacingAndGlyphs">Mortierella</text>
<text x="1160" y="470" textLength="60.1" lengthAdjust="spacingAndGlyphs">Acremonium</text>
<text x="1067" y="477" textLength="64.6" lengthAdjust="spacingAndGlyphs">Cladosporium</text>
<text x="989" y="495" textLength="72.2" lengthAdjust="spacingAndGlyphs">Ceratobasidium</text>
<text x="952" y="551" textLength="74.7" lengthAdjust="spacingAndGlyphs">Plectosphaerella</text>
<text x="1038" y="546" textLength="56.4" lengthAdjust="spacingAndGlyphs">Capnodiales</text>
</g>
<g font-family="Liberation Serif, serif" font-weight="bold" fill="#111" text-anchor="middle">
<text x="967" y="374.2" font-size="15.0">Sarocladium</text>
<text x="967" y="389" font-size="11.3">(Ascomycota)</text>
<text x="905" y="512.2" font-size="15.0">Sterigmatomyces</text>
<text x="905" y="526" font-size="11.3">(Basidiomycota)</text>
</g>
<path d="M143 695Q108.1 725.7 104 772M143 695Q68.6 727.9 74 809M143 695Q181.4 692.2 215 711M143 695Q161.4 722.6 189 741M114 731Q152.5 728.5 189 741M104 772Q149.6 765 189 741M114 731Q168.5 741.2 215 711M200 655Q199.1 685.2 215 711M200 655Q248 664.8 276 705M200 655Q211.7 700.2 189 741M380 620Q428.3 652.3 441 709M380 620Q437.6 621.9 478 663M366 680Q385.4 681.8 404 676M366 680Q425.4 693.9 478 663M478 663Q452.6 680.5 441 709M319 677Q402 709.8 478 663M276 705Q332.8 658.5 404 676M80 972Q80.7 1000.7 101 1021M139 1068Q160.1 1103.7 200 1115M185 1071Q201.3 1090 200 1115M198 1021Q186.5 1044.7 185 1071M149 1009Q169.6 973.5 209 962M134 959Q131.5 987 149 1009M241 1069Q259.2 1100 251 1135M63 877Q145.6 917.2 149 1009M132 896Q99.9 899.4 79 924M291 1111Q305.3 1133.1 327 1148M241 1069Q284.3 1075.3 320 1050M241 1069Q264.2 1046.6 277 1017M150 802Q162.3 827.8 189 838M288 841Q251.6 859.8 212 870M250 794Q215.6 810.5 189 838M288 841Q272.4 856.7 254 869M189 741Q229.4 756.1 250 794M257 739Q270.8 755.3 292 758M295 808Q266 760.1 276 705M254 869Q258.1 918 244 965M292 758Q321.7 752.7 339 728M189 741Q200.7 792.6 237 831M189 838Q225 846.3 254 869M257 739Q264.2 720.7 276 705M237 831Q260.1 848.5 288 841M257 739Q282.2 770.1 295 808M213 779Q260.4 775.5 295 808M257 739Q261 788 237 831M189 741Q187.2 782.8 150 802M250 794Q312.4 785.1 339 728M257 739Q242.1 766.8 213 779M215 711Q233.3 745.6 213 779M257 739Q282.4 702.4 319 677M257 739Q244.7 765.4 250 794M295 808Q260.4 805.4 237 831M213 779Q249.3 746.1 276 705M215 711Q245.9 711.8 276 705M212 870Q248.4 910.6 244 965M213 779Q233.1 801.3 237 831M189 741Q237.9 735.9 276 705M276 705Q312.4 703.2 339 728M292 758Q329.5 725.5 319 677M213 779Q204.7 810 189 838M244 965Q329.4 940 389 874M237 831Q302.7 852.4 371 842M212 870Q312.8 909.1 420 924M244 965Q303.9 950.1 365 959M339 728Q421.1 764.6 506 735M212 870Q282.9 924.1 365 959M209 962Q300.3 881.6 364 778M189 838Q266.6 812.4 348 805M295 808Q371.7 840.6 384 923M213 779Q297.5 796.8 371 842M189 838Q293.2 856.4 384 802M292 758Q368.2 815.8 460 789M250 794Q274.7 846.7 325 876M237 831Q274.1 732.1 366 680M250 794Q354.6 801.4 447 752M254 869Q345.3 829.9 403 749M244 965Q362.1 890.3 499 918M288 841Q414.4 823.8 506 735M213 779Q332.4 786 447 752M319 677Q291.2 762.6 337 840M212 870Q304.4 802.3 419 803M212 870Q300 843.9 364 778M276 705Q354.2 755 447 752M209 962Q275 849.4 405 838M364 778Q367.5 795.5 384 802M420 924Q399.5 952.5 365 959M403 749Q463.3 799.6 470 878M325 876Q330.1 912.4 307 941M460 789Q463.6 836.8 505 861M389 874Q413.3 876.1 434 889M353 875Q316.6 898.7 307 941M499 918Q436.9 954.7 365 959M337 840Q343.4 891.2 384 923M460 789Q469.7 817.9 451 842M460 789Q471.2 832.8 470 878M470 878Q438.7 894.1 420 924M441 709Q404 766.2 348 805M451 842Q404 894.2 343 929M364 778Q397.9 776.4 419 803M419 803Q383.6 833.9 337 840M371 842Q431.3 782.1 516 789M505 861Q517.4 798.1 506 735M460 789Q488 798.1 516 789M348 805Q370.5 816.7 371 842M460 789Q476.4 756.4 506 735M348 805Q381.2 879.3 365 959M420 924Q364.9 941.5 307 941M447 752Q371.5 770.4 337 840M384 802Q452.4 815.3 505 861M470 878Q468.5 801.6 506 735M405 838Q368.4 841.6 353 875M384 802Q352.2 810.8 337 840M434 889Q419.2 920.9 384 923M403 749Q382.8 810 389 874M343 929Q396.6 937.2 449 923M403 749Q377.3 799.8 337 840M449 923Q466.3 847.9 516 789M325 876Q357.3 883.7 389 874M470 878Q437.5 920.6 384 923M449 923Q375.3 910.4 307 941M353 875Q397.6 905.8 449 923M348 805Q334.6 820 337 840M447 752Q410.2 802.3 348 805M460 789Q421.3 791.1 384 802M371 842Q384.3 901.3 365 959M337 840Q412.7 826.9 470 878M389 874Q422.2 894.5 449 923M403 749Q422.5 781.9 460 789M325 876Q379.9 885.3 420 924M441 709Q466 740.7 506 735M325 876Q375.8 913.7 434 889M403 749Q384.8 772.4 384 802M384 802Q382.2 868.8 420 924M505 861Q476.3 892.3 434 889M434 889Q364 899.2 307 941M419 803Q491.1 838.1 499 918M364 778Q395 800.8 405 838M325 876Q394 880.9 449 923M460 789Q404.5 797.1 371 842M492 969Q451.8 980.8 429 1016M342 989Q411.2 987.7 477 1009M386 1019Q346.1 1019.7 320 1050M525 996Q525.8 1015.8 513 1031M492 969Q507.4 1035.8 486 1101M492 969Q492.1 991.9 477 1009M477 1050Q486.9 1074.5 486 1101M342 989Q321.8 1016.2 320 1050M320 1050Q381.9 1075.3 435 1116M429 1016Q475.4 999 513 1031M417 963Q416.6 1038.7 386 1108M477 1050Q418.4 1058.4 386 1108M342 989Q382 1039.2 442 1062M386 1108Q434 1076.5 486 1101M417 963Q459 970.3 477 1009M429 1016Q454.6 1023.5 477 1009M477 1009Q490.4 1027.6 513 1031M342 989Q362.9 1013.1 362 1045M525 996Q493.4 1044 486 1101M417 963Q359.4 996.3 320 1050M429 1016Q432.7 1075.1 486 1101M442 1062Q453 1094 486 1101M442 1062Q457.4 1050 477 1050M342 989Q426.5 981.8 477 1050M525 996Q460.4 1037.2 386 1019M417 963Q394.7 987.3 386 1019M513 1031Q458.5 1050.1 401 1056M386 1019Q367 1025.5 362 1045M386 1019Q459.4 1031.5 486 1101M477 1009Q474.4 1069.7 435 1116M499 918Q504.9 967.6 477 1009M420 924Q433.5 993.8 477 1050M365 959Q377.5 1029.9 442 1062M384 923Q320.6 970.7 320 1050M499 918Q487.3 983.6 429 1016M470 878Q463.8 951.2 429 1016M343 929Q421.6 933.6 492 969M499 918Q500.4 944.2 492 969M420 924Q473.6 971.4 513 1031M365 959Q401.1 1000.8 401 1056M420 924Q425.3 944 417 963M470 878Q452.6 926.2 417 963M499 918Q477.1 978.1 513 1031M449 923Q441 949.4 417 963" fill="none" stroke="#a9d3ea" stroke-width="1.3" stroke-opacity="0.75"/>
<path d="M143 695Q123.1 708.6 114 731M114 731Q104.9 750.5 104 772M104 772Q83.5 786 74 809M258 627Q288.5 633.4 315 617M404 676Q442.9 680.6 478 663M573 768Q620 818 598 883M139 1068Q161.6 1076.4 185 1071" fill="none" stroke="#a9d3ea" stroke-width="3.0" stroke-opacity="0.6"/>
<path d="M315 617Q348.1 605.5 380 620M315 617Q311 647.4 319 677M258 627Q320.8 654 380 620M380 620Q370.3 678.1 339 728M506 735Q505.6 763 516 789M578 830Q494.9 850.7 449 923M149 1009Q126.2 1019.8 101 1021M149 1009Q135.2 1037 139 1068M149 1009Q176.3 1034.6 185 1071M198 1021Q215.3 993.7 209 962M198 1021Q175.2 930.4 189 838M132 896Q166.3 872.7 189 838M150 802Q167.4 848.4 212 870M215 711Q164.8 743.9 150 802M254 869Q274.2 919.6 244 965M257 739Q246.9 765.7 250 794M295 808Q263.2 812.3 237 831M237 831Q254.5 846 254 869M295 808Q221 841.2 150 802M257 739Q295.2 762.9 295 808M215 711Q195.3 720.2 189 741M257 739Q271.6 753.8 292 758M250 794Q207.3 799.1 189 838M257 739Q255.9 795 288 841M189 741Q217.2 802.5 212 870M237 831Q260.5 897 244 965M288 841Q269.1 915 209 962M250 794Q258.9 831.1 254 869M213 779Q239.4 700.3 319 677M189 838Q209.7 847.4 212 870M292 758Q248 807.7 189 838M215 711Q235.4 769.3 237 831M212 870Q216.3 916.2 209 962M244 965Q310.1 934.1 353 875M288 841Q379.8 834.3 460 789M257 739Q376.2 817 365 959M215 711Q341.3 673.2 447 752M319 677Q267 778.2 325 876M237 831Q294.6 827.1 348 805M295 808Q341.6 765 403 749M339 728Q378.6 842.9 307 941M276 705Q369.9 798.9 343 929M276 705Q292.8 799.8 353 875M212 870Q307.8 864.6 384 923M189 741Q297.5 736.4 384 802M254 869Q295.4 903.6 343 929M288 841Q394.2 875.6 505 861M288 841Q334.1 870.9 389 874M209 962Q254.7 843.2 364 778M254 869Q322.9 834 389 874M150 802Q277.2 818.8 343 929M189 741Q312.5 705 441 709M319 677Q342 687 366 680M295 808Q331.5 871.7 384 923M288 841Q275 895.3 307 941M276 705Q334.8 772.6 419 803M215 711Q262.3 788.4 337 840M339 728Q373.9 836.8 449 923M213 779Q318 714.8 441 709M189 838Q297 792.7 405 838M257 739Q259.6 845.5 307 941M150 802Q272.9 758.5 403 749M250 794Q343 849.2 451 842M237 831Q363.5 829.8 449 923M150 802Q282.1 787.3 405 838M295 808Q377.5 804.6 451 842M189 741Q320.5 790.4 343 929M212 870Q305.1 833.4 405 838M276 705Q390.5 697.8 460 789M244 965Q368.8 960.8 442 1062M212 870Q346.4 942.8 442 1062M276 705Q390.2 828.1 342 989M250 794Q418.3 816.1 492 969M244 965Q286.6 1029.2 362 1045M292 758Q305.4 900.6 386 1019M209 962Q359.9 983.4 435 1116M244 965Q258.8 1028.3 320 1050M292 758Q392.4 870.1 429 1016M189 838Q330.7 897.7 429 1016M288 841Q333.1 922.5 417 963M254 869Q316.3 915.6 342 989M403 749Q333.5 793.8 325 876M419 803Q450.9 836.2 470 878M371 842Q405.9 876.8 420 924M447 752Q506.9 790 505 861M389 874Q377.5 897.6 384 923M447 752Q466.1 822.9 434 889M419 803Q400 836.8 389 874M460 789Q447 814.1 451 842M384 802Q412.1 885.1 365 959M434 889Q380.2 905 365 959M343 929Q326.3 938.9 307 941M403 749Q384.7 772.3 384 802M460 789Q471.2 856 499 918M366 680Q386.5 738.5 447 752M384 802Q401.9 815.7 405 838M337 840Q369.4 895.2 365 959M460 789Q387.2 787.3 337 840M404 676Q377.9 724.6 364 778M505 861Q434.4 872.3 384 923M384 802Q391.8 866 420 924M419 803Q469.7 811.2 516 789M337 840Q354.6 869.8 389 874M403 749Q424.8 753.3 447 752M364 778Q424.6 786.7 451 842M505 861Q445.9 858.1 389 874M325 876Q377.3 900.7 434 889M384 923Q343.1 921.6 307 941M403 749Q382.3 794 405 838M353 875Q316.8 898.8 307 941M460 789Q458.3 861.9 420 924M365 959Q339.8 937.7 307 941M325 876Q398 840.3 470 878M451 842Q446.2 866.8 434 889M366 680Q396.9 711.5 441 709M419 803Q407.9 818.9 405 838M337 840Q394.3 823 451 842M441 709Q414.9 722.3 403 749M434 889Q357.5 883.3 307 941M364 778Q379 857.1 343 929M505 861Q526.5 827.5 516 789M419 803Q379.6 833.1 353 875M364 778Q338.1 803.6 337 840M364 778Q369.8 851.9 434 889M364 778Q437.9 812 516 789M348 805Q368.8 880.6 365 959M348 805Q349.8 844.8 325 876M325 876Q308.5 906.4 307 941M384 923Q401.8 932.4 420 924M405 838Q357.1 872 343 929M384 802Q445 819.6 470 878M499 918Q435.6 950.2 365 959M451 842Q431.2 893.8 384 923M366 680Q384.4 672.1 404 676M447 752Q474.9 738 506 735M364 778Q359.8 863.4 420 924M404 676Q431.7 760.5 516 789M337 840Q372.1 891.1 434 889M384 802Q451.7 813.2 516 789M505 861Q489.9 874.5 470 878M419 803Q373.9 854.9 384 923M364 778Q423.6 719 506 735M371 842Q438.1 800.7 516 789M403 749Q427.7 828.9 505 861M389 874Q430 864.9 470 878M449 923Q472.8 908.2 499 918M447 752Q428.5 820.5 470 878M447 752Q448.9 827.7 389 874M353 875Q394.5 876 434 889M366 680Q360.3 755.4 419 803M505 861Q488.9 902.7 449 923M434 889Q464.5 907.9 499 918M325 876Q394.2 880.4 449 923M371 842Q352.4 853.3 353 875M419 803Q488.4 840.1 499 918M434 889Q467.6 832.9 516 789M441 709Q429.7 788 371 842M405 838Q477.4 808 506 735M353 875Q351.7 902.7 343 929M384 802Q344.6 859.4 343 929M325 876Q385.2 874.8 420 924M513 1031Q441.9 1056.9 386 1108M320 1050Q383.7 1028.9 442 1062M525 996Q448.4 995.9 401 1056M477 1009Q471.4 1043.4 442 1062M362 1045Q407.1 1071.7 435 1116M429 1016Q458.3 1025.6 477 1050M401 1056Q403 1084.7 386 1108M525 996Q479.9 1019.9 429 1016M429 1016Q424.2 1069.8 386 1108M492 969Q429.8 974.5 386 1019M492 969Q489.9 1004.3 513 1031M386 1019Q423.6 1028 442 1062M401 1056Q440.5 1071.5 477 1050M525 996Q485 1008.7 477 1050M477 1009Q425.3 1045.4 362 1045" fill="none" stroke="#eea0a3" stroke-width="1.2" stroke-opacity="0.7"/>
<path d="M189 741Q234.6 728 276 705M150 802Q164.6 825.4 189 838M215 711Q255.5 742.8 250 794M212 870Q243.3 912.4 244 965M215 711Q272.8 744.8 295 808M212 870Q232.8 860.5 254 869M295 808Q292 755.3 276 705M257 739Q280.7 787.5 288 841M215 711Q166.4 767.2 189 838M213 779Q204.6 810 189 838M288 841Q293.8 775.6 339 728M292 758Q273.7 798.7 288 841M212 870Q271.4 943.9 365 959M150 802Q252 779.2 337 840M295 808Q316.3 883.5 384 923M295 808Q391.8 793.6 441 709M237 831Q302.2 866.8 343 929M276 705Q372.8 687.4 447 752M189 838Q280.6 813.9 353 875M257 739Q320.8 770.6 337 840M319 677Q338.6 776 325 876M292 758Q298.2 862.7 384 923M470 878Q426.3 929.9 365 959M337 840Q339 860.7 325 876M434 889Q364.9 901.3 307 941M371 842Q356.4 855.5 353 875M419 803Q466.5 825.3 505 861M366 680Q420.2 700.6 447 752M389 874Q428.5 896.3 470 878M348 805Q407.5 801.1 451 842M405 838Q461.1 822.8 505 861M505 861Q444 841.1 389 874M389 874Q428.6 886.7 449 923M460 789Q418.3 774.2 384 802M417 963Q456.6 1008.9 513 1031M342 989Q386.4 1009.4 401 1056M417 963Q376.3 966.6 342 989M513 1031Q490.6 1032.1 477 1050M477 1009Q490.1 1028 513 1031M492 969Q446.6 1010.2 386 1019M320 1050Q340.4 1042.6 362 1045M320 1050Q371.9 1092.7 435 1116M362 1045Q383.9 1072.7 386 1108M386 1019Q410.6 1063.5 386 1108M342 989Q344.2 1055.8 386 1108M429 1016Q410 1032.5 401 1056M492 969Q489.2 1010.4 477 1050M442 1062Q469.7 1075.1 486 1101M525 996Q499.3 996.2 477 1009M417 963Q407.7 994.4 386 1019M386 1019Q420.7 1031.8 442 1062M429 1016Q445.6 1066.5 486 1101M342 989Q326.3 1017.8 320 1050M513 1031Q453.1 1026.2 401 1056M477 1050Q489.1 1074.2 486 1101M477 1009Q416.3 1016.8 362 1045M417 963Q444.4 1044.7 386 1108M525 996Q476 1052.9 401 1056M401 1056Q420.1 1068.4 442 1062M492 969Q520.1 994 513 1031M365 959Q360.8 979.6 342 989M365 959Q403.3 980.4 429 1016M384 923Q403.6 989.5 362 1045M337 840Q324.1 915 342 989M434 889Q393.5 951 429 1016M365 959Q416.6 1000.7 442 1062M505 861Q455.1 906.9 417 963M365 959Q435.3 951.9 477 1009M505 861Q526.2 918.3 492 969M420 924Q481.7 946.5 525 996M353 875Q351.4 951.2 386 1019M505 861Q459.5 929 477 1009M365 959Q429.8 947.5 492 969M499 918Q424 947.8 386 1019" fill="none" stroke="#3a9be0" stroke-width="1.05" stroke-opacity="0.9"/>
<path d="M366 680Q399.1 705.8 441 709M404 676Q436.9 707.5 447 752M506 735Q478.2 749.4 447 752M506 735Q477.6 757.4 460 789M506 735Q457.3 762.6 403 749M506 735Q434.9 750.2 384 802M277 1017Q260.5 1067.5 291 1111M189 838Q206.9 849.4 212 870M189 741Q169.6 789.5 189 838M212 870Q286.7 977.8 417 963M209 962Q252.3 1021.3 320 1050M244 965Q334.3 1031.2 442 1062M254 869Q305.8 956.5 386 1019M189 741Q332.4 823.7 342 989M254 869Q412.3 883.9 525 996M212 870Q269.2 972.8 362 1045M244 965Q311 1076.6 435 1116M244 965Q368.5 933.6 492 969M244 965Q314.9 987.5 362 1045M212 870Q338.8 915.8 429 1016M254 869Q323.9 989 442 1062M254 869Q387.4 932.5 477 1050M209 962Q305.9 1057.8 442 1062M244 965Q351.6 1031.8 477 1050M209 962Q351.8 912.1 492 969M212 870Q316 953.4 401 1056M244 965Q366.8 953.6 477 1009M189 838Q310 904.1 386 1019M244 965Q357.1 1047 486 1101" fill="none" stroke="#3a9be0" stroke-width="1.5" stroke-opacity="1.0"/>
<path d="M506 735Q488.4 766.6 460 789" fill="none" stroke="#3a9be0" stroke-width="3.0" stroke-opacity="1.0"/>
<path d="M257 739Q292.3 712.3 319 677M292 758Q284.1 783.6 295 808M212 870Q232.7 857.4 254 869M189 838Q223.8 848.8 254 869M150 802Q200 797.1 237 831M237 831Q241.2 851.9 254 869M213 779Q232.9 783.1 250 794M288 841Q246 895.9 244 965M257 739Q201.8 773.9 189 838M215 711Q169.8 767.9 189 838M250 794Q276.6 730.8 319 677M215 711Q273.8 742.6 339 728M254 869Q323.6 844.5 384 802M257 739Q311.8 664 404 676M292 758Q341.6 708.3 404 676M250 794Q330 783.6 403 749M254 869Q303.1 816.4 364 778M237 831Q322.2 738.8 447 752M288 841Q344.1 831.3 364 778M288 841Q389 864.6 460 789M292 758Q351.6 861.7 470 878M288 841Q345.8 811.8 405 838M295 808Q321.9 814.3 348 805M257 739Q317.9 738.2 364 778M189 838Q262.4 882.9 337 840M237 831Q301 751.5 403 749M250 794Q283.8 870.2 343 929M295 808Q291.1 875.4 307 941M237 831Q326.1 804.9 419 803M288 841Q354.5 773.3 447 752M213 779Q251.7 876.8 343 929M213 779Q306.3 755.4 366 680M189 838Q305.5 837 384 923M237 831Q292.5 903.5 365 959M254 869Q269.8 912.9 307 941M250 794Q300.2 788.8 348 805M189 838Q199.6 977.9 320 1050M254 869Q360.4 908.4 386 1019M209 962Q255 1017.9 320 1050M288 841Q396.5 921.2 401 1056M209 962Q312.8 1011.9 417 963M254 869Q362.4 869.4 417 963M244 965Q290.6 986.7 342 989M209 962Q311.5 1044.6 442 1062M451 842Q399.7 851.7 353 875M325 876Q357.2 881.2 389 874M470 878Q450 906.5 420 924M447 752Q479.5 753.8 506 735M384 802Q387.5 824.1 405 838M434 889Q450.8 879.7 470 878M364 778Q364.8 829 389 874M348 805Q348.6 830.3 371 842M447 752Q483.7 802.4 505 861M460 789Q446.2 835.6 470 878M337 840Q367.3 893 420 924M389 874Q446.7 889.4 499 918M405 838Q446.2 843.8 470 878M451 842Q435.5 882.1 449 923M386 1019Q421.6 1030.6 442 1062M492 969Q448.4 976.3 429 1016M429 1016Q426.9 1041.4 442 1062M477 1050Q439.3 1072.4 435 1116M401 1056Q432 1100.3 486 1101M362 1045Q411.6 1067 435 1116M401 1056Q409.9 1090.6 435 1116M417 963Q441.6 1009.4 442 1062M429 1016Q469.1 1050.7 486 1101M525 996Q498.4 992.9 477 1009M492 969Q502.2 990.2 525 996M342 989Q349.1 1018 362 1045M513 1031Q493.6 1037.8 477 1050M429 1016Q460.4 1022.5 477 1050M386 1019Q438.5 1053.3 435 1116M429 1016Q420.9 1066.7 435 1116M477 1009Q493.2 1022.9 513 1031M429 1016Q466.5 1048.7 513 1031M429 1016Q420.2 1067.9 386 1108M429 1016Q377.7 1043.3 320 1050M417 963Q455.5 953 492 969M386 1108Q434 1076.4 486 1101M386 1019Q364.2 1063.5 386 1108M492 969Q494.1 992.6 477 1009M513 1031Q519.4 1073.7 486 1101M525 996Q474 991.6 429 1016M434 889Q439.7 929.3 417 963M365 959Q429.1 956.1 492 969M470 878Q500.5 918.8 492 969M449 923Q386.8 975.7 401 1056M420 924Q371 984.3 401 1056M389 874Q335.9 919.4 342 989M449 923Q431.9 1002.8 362 1045M449 923Q427.5 991.6 442 1062M420 924Q425.6 944 417 963M384 923Q352.8 980.4 362 1045M389 874Q395.7 946.7 386 1019M499 918Q521 989.5 477 1050M365 959Q349.1 970.7 342 989M434 889Q465.3 945.5 477 1009M365 959Q385.1 1000.9 429 1016M384 923Q380.6 967.2 342 989M470 878Q471.3 960.2 513 1031M365 959Q428.2 968 477 1009M505 861Q480 933.7 525 996M384 923Q338.1 979.5 320 1050M384 923Q423.6 991.6 477 1050M365 959Q446.7 972.9 477 1050M353 875Q386.7 943.1 386 1019M449 923Q487.9 957.9 477 1009" fill="none" stroke="#e8241f" stroke-width="1.05" stroke-opacity="0.9"/>
<path d="M506 735Q557.5 855.5 492 969M553 918Q526 909.9 499 918M277 1017Q312.3 1009.5 342 989M215 711Q189.3 771.9 189 838M213 779Q220 830.1 254 869" fill="none" stroke="#e8241f" stroke-width="1.6" stroke-opacity="1.0"/>
<path d="M213 779Q221.6 824.6 212 870" fill="none" stroke="#e8241f" stroke-width="2.6" stroke-opacity="1.0"/>
<circle cx="315" cy="617" r="9.5" fill="#c684f7" stroke="#2b2b2b" stroke-width="1"/>
<circle cx="258" cy="627" r="9" fill="#c684f7" stroke="#2b2b2b" stroke-width="1"/>
<circle cx="200" cy="655" r="9.5" fill="#c684f7" stroke="#2b2b2b" stroke-width="1"/>
<circle cx="380" cy="620" r="9.5" fill="#c684f7" stroke="#2b2b2b" stroke-width="1"/>
<circle cx="143" cy="695" r="9.5" fill="#c684f7" stroke="#2b2b2b" stroke-width="1"/>
<circle cx="276" cy="705" r="10.5" fill="#c684f7" stroke="#2b2b2b" stroke-width="1"/>
<circle cx="215" cy="711" r="11.5" fill="#c684f7" stroke="#2b2b2b" stroke-width="1"/>
<circle cx="114" cy="731" r="9.5" fill="#c684f7" stroke="#2b2b2b" stroke-width="1"/>
<circle cx="189" cy="741" r="11.5" fill="#c684f7" stroke="#2b2b2b" stroke-width="1"/>
<circle cx="257" cy="739" r="11.5" fill="#c684f7" stroke="#2b2b2b" stroke-width="1"/>
<circle cx="292" cy="758" r="12" fill="#c684f7" stroke="#2b2b2b" stroke-width="1"/>
<circle cx="104" cy="772" r="9.5" fill="#c684f7" stroke="#2b2b2b" stroke-width="1"/>
<circle cx="213" cy="779" r="11.5" fill="#c684f7" stroke="#2b2b2b" stroke-width="1"/>
<circle cx="250" cy="794" r="11.5" fill="#c684f7" stroke="#2b2b2b" stroke-width="1"/>
<circle cx="295" cy="808" r="13.5" fill="#c684f7" stroke="#2b2b2b" stroke-width="1"/>
<circle cx="74" cy="809" r="9.5" fill="#c684f7" stroke="#2b2b2b" stroke-width="1"/>
<circle cx="150" cy="802" r="9.5" fill="#c684f7" stroke="#2b2b2b" stroke-width="1"/>
<circle cx="237" cy="831" r="12" fill="#c684f7" stroke="#2b2b2b" stroke-width="1"/>
<circle cx="189" cy="838" r="10.5" fill="#c684f7" stroke="#2b2b2b" stroke-width="1"/>
<circle cx="288" cy="841" r="13.5" fill="#c684f7" stroke="#2b2b2b" stroke-width="1"/>
<circle cx="112" cy="855" r="9.5" fill="#c684f7" stroke="#2b2b2b" stroke-width="1"/>
<circle cx="212" cy="870" r="11.5" fill="#c684f7" stroke="#2b2b2b" stroke-width="1"/>
<circle cx="254" cy="869" r="12" fill="#c684f7" stroke="#2b2b2b" stroke-width="1"/>
<circle cx="63" cy="877" r="9" fill="#e0872b" stroke="#2b2b2b" stroke-width="1"/>
<circle cx="132" cy="896" r="9" fill="#c684f7" stroke="#2b2b2b" stroke-width="1"/>
<circle cx="319" cy="677" r="10" fill="#c684f7" stroke="#2b2b2b" stroke-width="1"/>
<circle cx="339" cy="728" r="11.5" fill="#c684f7" stroke="#2b2b2b" stroke-width="1"/>
<circle cx="478" cy="663" r="9.5" fill="#6de32c" stroke="#2b2b2b" stroke-width="1"/>
<circle cx="366" cy="680" r="9.5" fill="#6de32c" stroke="#2b2b2b" stroke-width="1"/>
<circle cx="404" cy="676" r="9.5" fill="#6de32c" stroke="#2b2b2b" stroke-width="1"/>
<circle cx="441" cy="709" r="9.5" fill="#6de32c" stroke="#2b2b2b" stroke-width="1"/>
<circle cx="506" cy="735" r="9.5" fill="#6de32c" stroke="#2b2b2b" stroke-width="1"/>
<circle cx="403" cy="749" r="12" fill="#6de32c" stroke="#2b2b2b" stroke-width="1"/>
<circle cx="447" cy="752" r="11.5" fill="#6de32c" stroke="#2b2b2b" stroke-width="1"/>
<circle cx="573" cy="768" r="9.5" fill="#7b7b7b" stroke="#2b2b2b" stroke-width="1"/>
<circle cx="364" cy="778" r="14" fill="#6de32c" stroke="#2b2b2b" stroke-width="1"/>
<circle cx="460" cy="789" r="12" fill="#6de32c" stroke="#2b2b2b" stroke-width="1"/>
<circle cx="516" cy="789" r="9.5" fill="#6de32c" stroke="#2b2b2b" stroke-width="1"/>
<circle cx="348" cy="805" r="14" fill="#6de32c" stroke="#2b2b2b" stroke-width="1"/>
<circle cx="384" cy="802" r="14" fill="#6de32c" stroke="#2b2b2b" stroke-width="1"/>
<circle cx="419" cy="803" r="13.5" fill="#6de32c" stroke="#2b2b2b" stroke-width="1"/>
<circle cx="578" cy="830" r="9.5" fill="#6de32c" stroke="#2b2b2b" stroke-width="1"/>
<circle cx="337" cy="840" r="14" fill="#6de32c" stroke="#2b2b2b" stroke-width="1"/>
<circle cx="371" cy="842" r="13.5" fill="#6de32c" stroke="#2b2b2b" stroke-width="1"/>
<circle cx="405" cy="838" r="14" fill="#6de32c" stroke="#2b2b2b" stroke-width="1"/>
<circle cx="451" cy="842" r="12" fill="#6de32c" stroke="#2b2b2b" stroke-width="1"/>
<circle cx="505" cy="861" r="11.5" fill="#6de32c" stroke="#2b2b2b" stroke-width="1"/>
<circle cx="598" cy="883" r="9.5" fill="#7b7b7b" stroke="#2b2b2b" stroke-width="1"/>
<circle cx="325" cy="876" r="13.5" fill="#6de32c" stroke="#2b2b2b" stroke-width="1"/>
<circle cx="353" cy="875" r="13.5" fill="#6de32c" stroke="#2b2b2b" stroke-width="1"/>
<circle cx="389" cy="874" r="14" fill="#6de32c" stroke="#2b2b2b" stroke-width="1"/>
<circle cx="434" cy="889" r="14.5" fill="#6de32c" stroke="#2b2b2b" stroke-width="1"/>
<circle cx="470" cy="878" r="12" fill="#6de32c" stroke="#2b2b2b" stroke-width="1"/>
<circle cx="79" cy="924" r="9" fill="#c684f7" stroke="#2b2b2b" stroke-width="1"/>
<circle cx="194" cy="921" r="10.5" fill="#c684f7" stroke="#2b2b2b" stroke-width="1"/>
<circle cx="307" cy="941" r="12" fill="#6de32c" stroke="#2b2b2b" stroke-width="1"/>
<circle cx="134" cy="959" r="9" fill="#e0872b" stroke="#2b2b2b" stroke-width="1"/>
<circle cx="209" cy="962" r="10" fill="#c684f7" stroke="#2b2b2b" stroke-width="1"/>
<circle cx="244" cy="965" r="10" fill="#c684f7" stroke="#2b2b2b" stroke-width="1"/>
<circle cx="80" cy="972" r="9" fill="#3f9573" stroke="#2b2b2b" stroke-width="1"/>
<circle cx="149" cy="1009" r="9.5" fill="#3f9573" stroke="#2b2b2b" stroke-width="1"/>
<circle cx="101" cy="1021" r="9" fill="#3f9573" stroke="#2b2b2b" stroke-width="1"/>
<circle cx="198" cy="1021" r="9.5" fill="#3f9573" stroke="#2b2b2b" stroke-width="1"/>
<circle cx="277" cy="1017" r="9" fill="#2e0ff2" stroke="#2b2b2b" stroke-width="1"/>
<circle cx="139" cy="1068" r="9.5" fill="#3f9573" stroke="#2b2b2b" stroke-width="1"/>
<circle cx="185" cy="1071" r="9.5" fill="#3f9573" stroke="#2b2b2b" stroke-width="1"/>
<circle cx="241" cy="1069" r="9" fill="#e0872b" stroke="#2b2b2b" stroke-width="1"/>
<circle cx="200" cy="1115" r="9" fill="#3f9573" stroke="#2b2b2b" stroke-width="1"/>
<circle cx="291" cy="1111" r="9" fill="#2e0ff2" stroke="#2b2b2b" stroke-width="1"/>
<circle cx="251" cy="1135" r="9" fill="#e0872b" stroke="#2b2b2b" stroke-width="1"/>
<circle cx="343" cy="929" r="13.5" fill="#6de32c" stroke="#2b2b2b" stroke-width="1"/>
<circle cx="384" cy="923" r="13.5" fill="#6de32c" stroke="#2b2b2b" stroke-width="1"/>
<circle cx="420" cy="924" r="14.5" fill="#6de32c" stroke="#2b2b2b" stroke-width="1"/>
<circle cx="449" cy="923" r="14.5" fill="#6de32c" stroke="#2b2b2b" stroke-width="1"/>
<circle cx="499" cy="918" r="12" fill="#6de32c" stroke="#2b2b2b" stroke-width="1"/>
<circle cx="553" cy="918" r="9.5" fill="#6de32c" stroke="#2b2b2b" stroke-width="1"/>
<circle cx="365" cy="959" r="12" fill="#6de32c" stroke="#2b2b2b" stroke-width="1"/>
<circle cx="417" cy="963" r="13.5" fill="#f35b88" stroke="#2b2b2b" stroke-width="1"/>
<circle cx="492" cy="969" r="11.5" fill="#f35b88" stroke="#2b2b2b" stroke-width="1"/>
<circle cx="342" cy="989" r="12" fill="#f35b88" stroke="#2b2b2b" stroke-width="1"/>
<circle cx="525" cy="996" r="11.5" fill="#f35b88" stroke="#2b2b2b" stroke-width="1"/>
<circle cx="386" cy="1019" r="12" fill="#f35b88" stroke="#2b2b2b" stroke-width="1"/>
<circle cx="429" cy="1016" r="12" fill="#f35b88" stroke="#2b2b2b" stroke-width="1"/>
<circle cx="477" cy="1009" r="11.5" fill="#f35b88" stroke="#2b2b2b" stroke-width="1"/>
<circle cx="513" cy="1031" r="11.5" fill="#f35b88" stroke="#2b2b2b" stroke-width="1"/>
<circle cx="320" cy="1050" r="10.5" fill="#f35b88" stroke="#2b2b2b" stroke-width="1"/>
<circle cx="362" cy="1045" r="11.5" fill="#f35b88" stroke="#2b2b2b" stroke-width="1"/>
<circle cx="401" cy="1056" r="11.5" fill="#f35b88" stroke="#2b2b2b" stroke-width="1"/>
<circle cx="442" cy="1062" r="11.5" fill="#f35b88" stroke="#2b2b2b" stroke-width="1"/>
<circle cx="477" cy="1050" r="11.5" fill="#f35b88" stroke="#2b2b2b" stroke-width="1"/>
<circle cx="386" cy="1108" r="10.5" fill="#f35b88" stroke="#2b2b2b" stroke-width="1"/>
<circle cx="435" cy="1116" r="10.5" fill="#f35b88" stroke="#2b2b2b" stroke-width="1"/>
<circle cx="486" cy="1101" r="10" fill="#f35b88" stroke="#2b2b2b" stroke-width="1"/>
<circle cx="327" cy="1148" r="8.5" fill="#2e0ff2" stroke="#2b2b2b" stroke-width="1"/>
<g font-family="Liberation Serif, serif" font-size="12.1" fill="#555" fill-opacity="0.92" text-anchor="middle" lengthAdjust="spacingAndGlyphs">
<text x="317" y="620" textLength="53.8" lengthAdjust="spacingAndGlyphs">Rhizobiales</text>
<text x="382" y="623" textLength="69" lengthAdjust="spacingAndGlyphs">Nitrososphaera</text>
<text x="259" y="629" textLength="92.5" lengthAdjust="spacingAndGlyphs">Pseudonocardiaceae</text>
<text x="201" y="658" textLength="62.1" lengthAdjust="spacingAndGlyphs">Streptomyces</text>
<text x="321" y="679" textLength="53.2" lengthAdjust="spacingAndGlyphs">Escherichia</text>
<text x="216" y="714" textLength="72.2" lengthAdjust="spacingAndGlyphs">Pseudonocardia</text>
<text x="442" y="712" textLength="86.1" lengthAdjust="spacingAndGlyphs">Streptomycetaceae</text>
<text x="342" y="731" textLength="82.3" lengthAdjust="spacingAndGlyphs">Rhodospirillaceae</text>
<text x="449" y="755" textLength="86.1" lengthAdjust="spacingAndGlyphs">Betaproteobacteria</text>
<text x="292" y="761" textLength="69" lengthAdjust="spacingAndGlyphs">Nitrososphaera</text>
<text x="105" y="774" textLength="94.3" lengthAdjust="spacingAndGlyphs">Rhodanobacteraceae</text>
<text x="366" y="780" textLength="51.9" lengthAdjust="spacingAndGlyphs">Halomonas</text>
<text x="518" y="788" textLength="69" lengthAdjust="spacingAndGlyphs">Nitrososphaera</text>
<text x="462" y="798" textLength="101.3" lengthAdjust="spacingAndGlyphs">Gammaproteobacteria</text>
<text x="152" y="805" textLength="56.4" lengthAdjust="spacingAndGlyphs">Nitrosospira</text>
<text x="350" y="806" textLength="45" lengthAdjust="spacingAndGlyphs">Bacillales</text>
<text x="297" y="815" textLength="69" lengthAdjust="spacingAndGlyphs">Nitrososphaera</text>
<text x="240" y="833" textLength="68.4" lengthAdjust="spacingAndGlyphs">Thermotogales</text>
<text x="336" y="841" textLength="69" lengthAdjust="spacingAndGlyphs">Nitrososphaera</text>
<text x="455" y="839" textLength="67.1" lengthAdjust="spacingAndGlyphs">Actinobacteria</text>
<text x="280" y="848" textLength="55.1" lengthAdjust="spacingAndGlyphs">Listeriaceae</text>
<text x="410" y="849" textLength="82.3" lengthAdjust="spacingAndGlyphs">Rhodospirillaceae</text>
<text x="507" y="864" textLength="72.2" lengthAdjust="spacingAndGlyphs">Mycobacterium</text>
<text x="67" y="880" textLength="72.2" lengthAdjust="spacingAndGlyphs">Ferrimicrobium</text>
<text x="80" y="926" textLength="74.1" lengthAdjust="spacingAndGlyphs">Micrococcaceae</text>
<text x="197" y="923" textLength="67.1" lengthAdjust="spacingAndGlyphs">Actinobacteria</text>
<text x="307" y="943" textLength="52.5" lengthAdjust="spacingAndGlyphs">Bacillaceae</text>
<text x="80" y="975" textLength="62.1" lengthAdjust="spacingAndGlyphs">Streptomyces</text>
<text x="449" y="926" textLength="78.5" lengthAdjust="spacingAndGlyphs">Halomonadaceae</text>
<text x="497" y="972" textLength="72.2" lengthAdjust="spacingAndGlyphs">Ferrimicrobium</text>
<text x="199" y="1029" textLength="69" lengthAdjust="spacingAndGlyphs">Nitrososphaera</text>
<text x="186" y="1073" textLength="86.7" lengthAdjust="spacingAndGlyphs">Enterobacteriaceae</text>
<text x="528" y="1007" textLength="88.7" lengthAdjust="spacingAndGlyphs">Solirubrobacterales</text>
<text x="364" y="1048" textLength="45" lengthAdjust="spacingAndGlyphs">Clostridia</text>
<text x="293" y="1114" textLength="43.1" lengthAdjust="spacingAndGlyphs">Kribbella</text>
<text x="330" y="1150" textLength="43.1" lengthAdjust="spacingAndGlyphs">Kribbella</text>
<text x="389" y="1111" textLength="43.1" lengthAdjust="spacingAndGlyphs">Kribbella</text>
<text x="489" y="1104" textLength="56.4" lengthAdjust="spacingAndGlyphs">Nitrosospira</text>
</g>
<g font-family="Liberation Serif, serif" font-weight="bold" fill="#111" text-anchor="middle">
<text x="206" y="784.2" font-size="15.0">Hyphomicrobium</text>
<text x="206" y="797" font-size="11.3">(Proteobacteria)</text>
<text x="189" y="842.2" font-size="15.0">Unclassified</text>
<text x="205" y="878.2" font-size="15.0">Nitrosospira</text>
<text x="205" y="897" font-size="11.3"><tspan font-size="16" dy="1">(</tspan><tspan dy="-1">Proteobacteria)</tspan></text>
<text x="553" y="723.2" font-size="15.0">Aneurinibacillus</text>
<text x="553" y="741" font-size="11.3"><tspan font-size="16" dy="1">(</tspan><tspan dy="-1">Firmicutes)</tspan></text>
<text x="435" y="894.2" font-size="15.0">Unclassified</text>
<text x="190" y="962.2" font-size="15.0">Unclassified</text>
<text x="258" y="974.2" font-size="15.0">Unclassified</text>
<text x="422" y="968.2" font-size="15.0">Rhodospirillaceae</text>
<text x="422" y="982" font-size="11.3">(Proteobacteria)</text>
<text x="330" y="995.2" font-size="15.0">Streptomycetaceae</text>
<text x="330" y="1009" font-size="11.3">(Actinobacteria)</text>
<text x="428" y="1020.2" font-size="15.0">Unclassified</text>
<text x="265" y="1038.2" font-size="15.0">Pseudonocardiaceae</text>
<text x="265" y="1052" font-size="11.3">(Actinobacteria)</text>
<text x="405" y="1062.2" font-size="15.0">Betaproteobacteria</text>
</g>
<path d="M840 649Q869 652.2 895 639M895 639Q891.6 673.2 870 700M795 690Q801 721.4 827 740M716 851Q743.3 836.6 773 845M716 851Q707 879.4 715 908M716 851Q738.7 883.1 772 904M728 792Q730.9 823.3 716 851M941 609Q973.1 623 1006 611M1006 611Q1034.6 622.9 1065 617M1006 611Q982.6 631.8 969 660M1006 611Q1020.1 642.5 1021 677M1065 617Q1063.5 645.3 1073 672M1065 617Q1042 682.2 987 724M969 660Q971.6 693.8 987 724M1021 677Q1008.7 703.9 987 724M1006 611Q1033.4 648.2 1073 672M926 703Q953.4 722.6 987 724M987 724Q957.7 734.9 944 763M886 765Q873 793.4 844 805M844 805Q856 833 884 845M944 763Q926.3 813 884 845M884 845Q877.3 878.5 884 912M936 817Q964.8 852.3 1010 858M944 763Q996 797.3 1010 858M884 912Q881.3 952 857 984M725 967Q728.1 998.5 748 1023M783 964Q774.4 998.8 748 1023M910 1026Q893.9 1054.4 896 1087M852 1052Q852.3 1085.7 834 1114M896 1087Q883.1 1115.3 888 1146M974 984Q1016.1 961.8 1039 920M1152 1029Q1132.5 974.8 1081 949M1239 1008Q1186.3 1039.7 1170 1099M1207 1053Q1181.6 1070.5 1170 1099M1082 1025Q1116.6 1034 1152 1029M1095 752Q1056.4 774.3 1024 805M1102 807Q1155.5 853.1 1196 911M1232 775Q1238.9 824.8 1236 875M1229 831Q1198.5 865.2 1196 911M1102 807Q1154.7 868.4 1174 947M1229 831Q1229.8 853.4 1236 875M1060 831Q1074.6 902.5 1130 950M1182 764Q1151.4 819.2 1105 862M1059 773Q1093.5 816.6 1144 840M1138 743Q1083.9 779.3 1024 805M1144 840Q1187.8 863.2 1236 875M1095 752Q1160 784.6 1232 775M1182 764Q1120.1 763.1 1059 773M1059 773Q1068.8 843.7 1100 908M1095 752Q1078.8 765.6 1059 773M1081 949Q1127.3 938.2 1174 947M1229 831Q1197.7 887.2 1174 947M1182 764Q1193.7 856.2 1174 947M1095 752Q1092.8 780.2 1102 807M1024 805Q1007.4 829 1010 858M1039 920Q1109.5 918.4 1174 947M1054 876Q1100.2 934.8 1174 947M1236 875Q1196.9 904 1174 947M1144 840Q1155.9 869.5 1147 900M1229 831Q1139.9 847.5 1054 876M1138 743Q1138 807.1 1105 862M1060 831Q1110 895.8 1174 947M1138 743Q1115.1 821.6 1054 876M1060 831Q1030.7 836.5 1010 858M1147 900Q1172.4 901.5 1196 911M1236 875Q1166.9 886.8 1100 908M1095 752Q1123.3 822.3 1186 865M1060 831Q1120.7 856.7 1186 865M1010 858Q1071.7 901.2 1147 900M1095 752Q1088.6 796.4 1060 831M1095 752Q1110.8 829.6 1147 900M1186 865Q1211.6 867.1 1236 875M1144 791Q1163.9 845 1147 900M1236 875Q1213.9 890.7 1196 911M1144 840Q1182.3 866.5 1196 911M1059 773Q1126.2 784.5 1188 813M1010 858Q1057.1 869.3 1105 862M1236 875Q1234.2 907.3 1249 936M1147 900Q1093.7 913.8 1039 920M1182 764Q1206.6 771.4 1232 775M1144 791Q1195 827.6 1236 875M1232 775Q1269.3 852.5 1249 936M1144 840Q1080.7 865.8 1039 920M1095 752Q1150.5 828.3 1196 911M1188 813Q1152.7 895.3 1081 949M1186 865Q1183.1 889.7 1196 911M1144 791Q1128.4 876.3 1081 949M1182 764Q1151.5 796.3 1144 840M1138 743Q1066.1 791.7 1010 858M1188 813Q1197.4 839.4 1186 865M1024 805Q1062.6 820.6 1102 807M1232 775Q1202.4 816.6 1186 865M1144 791Q1105.2 817.8 1060 831M1039 920Q1057.7 937.8 1081 949M1182 764Q1166.6 839.6 1196 911M1102 807Q1115.6 857.8 1147 900M1095 752Q1057 808.2 1054 876M1059 773Q1084.7 784.7 1102 807M1059 773Q1134.1 831 1229 831M1144 840Q1076.1 842 1010 858M1229 831Q1169.7 878.2 1100 908M1105 862Q1169.8 875.1 1236 875M1138 743Q1196.4 816.9 1196 911M1059 773Q1084.6 849.2 1147 900M1144 840Q1093 883.2 1081 949M1138 743Q1186.7 783.7 1229 831M1060 831Q1049 852.4 1054 876M1147 900Q1122.2 896.4 1100 908M1054 876Q1095.8 906.4 1147 900M1147 900Q1167.6 919.4 1174 947M1010 858Q1086 913.6 1174 947M1188 813Q1095.5 841.4 1039 920M1059 773Q1048.2 824.1 1054 876M1100 908Q1094.1 930.2 1081 949M1144 791Q1132.9 853.6 1100 908M1054 876Q1052.1 899.9 1039 920M1144 791Q1086.7 821.2 1024 805M1138 743Q1109.8 769.2 1102 807M1095 752Q1155.3 825.1 1236 875M1144 791Q1087.4 821.2 1054 876M1105 862Q1181.5 890.3 1249 936M1182 764Q1222.1 813.1 1236 875M1138 743Q1122.2 822.7 1147 900M1138 743Q1114.9 740 1095 752M1105 862Q1111.9 907.6 1130 950M1232 775Q1181.6 798.9 1144 840M1060 831Q1055.6 876.9 1039 920M1182 764Q1096.1 757.9 1024 805M1010 858Q1099.2 831.8 1186 865M1059 773Q1099.4 808.5 1105 862M1182 764Q1163.9 849 1100 908M1059 773Q1035.4 782.3 1024 805M1059 773Q1021.3 842.7 1039 920M1182 764Q1149.1 798.7 1102 807M1024 805Q1057.3 843.7 1105 862M1229 831Q1165 838.6 1105 862M1232 775Q1169 799.1 1102 807M1249 936Q1164.1 930.8 1081 949M1060 831Q1125.5 875.2 1196 911M1010 858Q1064.7 910.9 1130 950M1186 865Q1231.5 888.1 1249 936M1024 805Q1040 881.9 1081 949M1188 813Q1239.1 864.3 1249 936M1188 813Q1203.4 861.1 1196 911M1144 840Q1180.4 905.6 1249 936M1100 908Q1176.3 912.7 1249 936M1144 791Q1108.5 869.3 1039 920M1138 743Q1130.3 828.1 1100 908M1095 752Q1072.3 830.8 1100 908M1054 876Q1053.1 917.8 1081 949M1147 900Q1136.8 924.4 1130 950M1232 775Q1175.7 828.1 1147 900M1144 840Q1132.3 880.7 1100 908M1182 764Q1190.9 814.2 1186 865M1059 773Q1055.6 802.1 1060 831M1060 831Q1153 833.2 1236 875M1144 791Q1131.3 830.2 1105 862M1059 773Q1145.6 762.1 1232 775M1232 775Q1190.9 856.9 1174 947M1060 831Q1065.7 876.9 1100 908M1188 813Q1161.2 853.5 1147 900M1232 775Q1213.1 797.6 1188 813M1232 775Q1185.7 770.6 1144 791M1102 807Q1113.7 857.8 1100 908M1095 752Q1140.2 745.6 1182 764M1236 875Q1192.8 892.1 1147 900M1182 764Q1158.8 771.6 1144 791M1144 840Q1100.6 862 1054 876M1105 862Q1146 849.6 1186 865M1039 920Q1080.4 947.6 1130 950M1010 858Q1031.3 868.8 1054 876M1105 862Q1078 897.9 1039 920M1024 805Q1087.5 810.4 1144 840M1095 752Q1080.2 840.4 1039 920M1060 831Q1079.7 850.6 1105 862M1059 773Q1038.1 817.6 1010 858M1232 775Q1156 833.6 1060 831M1144 791Q1189.1 805.5 1229 831M1188 813Q1201.6 852.1 1236 875M1010 858Q1046.5 898.3 1100 908M1024 805Q1093.5 842.1 1147 900M1236 875Q1151.4 897.2 1081 949M1100 908Q1148.3 899 1196 911M1102 807Q1077.7 813.2 1060 831M1081 949Q1105.4 956 1130 950M1138 743Q1149.7 808.8 1186 865M1229 831Q1235.5 884.2 1249 936M1182 764Q1245.1 838.5 1249 936M1102 807Q1096.2 834.9 1105 862M1196 911Q1219.2 930.4 1249 936M1186 865Q1119.5 864.8 1054 876M1059 773Q1102.3 778.4 1144 791M1147 900Q1106.2 913.9 1081 949M1188 813Q1153.5 869.3 1100 908M1144 791Q1171.3 866.6 1174 947M1188 813Q1138.1 872.6 1130 950M1188 813Q1163.9 878.2 1174 947M1095 752Q1122.2 768.1 1144 791M1188 813Q1207.8 823.6 1229 831M1024 805Q1038.4 823 1060 831M1232 775Q1201.3 839.6 1196 911M1186 865Q1139.8 880.2 1100 908M1024 805Q1083.6 872.7 1130 950M1188 813Q1161.8 819.7 1144 840M1232 775Q1164 811.9 1105 862M1100 908Q1121.5 924.3 1130 950M1095 752Q1149.7 769.9 1188 813M1144 840Q1125.7 853.1 1105 862M1229 831Q1185 821.4 1144 840M1102 807Q1114.5 881.4 1081 949M1102 807Q1128.7 816.3 1144 840M1138 743Q1156.9 790.5 1144 840M1188 813Q1149.8 843.1 1105 862M1186 865Q1101.6 863.4 1039 920M1138 743Q1094.2 746.7 1059 773M1186 865Q1142.5 918.2 1081 949M1186 865Q1163.7 879.4 1147 900M1102 807Q1097.4 882.1 1130 950M1095 752Q1108.1 806.3 1105 862M1102 807Q1156.6 865.4 1236 875M1024 805Q1018.1 864.2 1039 920M1144 791Q1152 815.5 1144 840M1100 908Q1067.6 904.1 1039 920M1054 876Q1081.9 923.3 1130 950M1105 862Q1081 874.3 1054 876M1024 1028Q1046.1 1096.7 1005 1156M1082 1025Q1101.1 1076.8 1099 1132M1082 1025Q1032.8 1054.5 976 1046M958 1094Q968.3 1135 1005 1156M1055 1081Q1070.2 1112.4 1099 1132M1110 1080Q1030.8 1052.2 958 1094M1110 1080Q1057 1073.5 1010 1099M958 1094Q993.1 1142.8 1053 1147M1055 1081Q1005.1 1076.9 958 1094M1024 1028Q1046.2 1091 1099 1132M1110 1080Q1062.5 1125 1005 1156M976 1046Q996.2 1110.5 1053 1147M1024 1028Q1034.4 1057.5 1055 1081M1082 1025Q1039.3 1079.3 1053 1147M976 1046Q1023 1109.7 1099 1132M1024 1028Q1052 1084.2 1053 1147M1099 1132Q1046.3 1121.8 1005 1156M958 1094Q947.9 1121.2 952 1150M1082 1025Q1061.2 1049.5 1055 1081M1024 1028Q1053.4 1033.6 1082 1025M958 1094Q1033.7 1093.6 1099 1132M1024 1028Q998.6 1033.2 976 1046M1055 1081Q1019.3 1111.4 1005 1156M1010 1099Q989.6 1134.3 952 1150M976 1046Q975.8 1104.9 1005 1156M1099 1132Q1029 1169.2 952 1150M976 1046Q957.2 1066.3 958 1094M958 1094Q984.9 1086.6 1010 1099M1024 1028Q1000.5 1070.5 958 1094M1082 1025Q1076 1109.6 1005 1156" fill="none" stroke="#a9d3ea" stroke-width="1.3" stroke-opacity="0.75"/>
<path d="M840 649Q847.4 679 870 700M757 736Q780.1 756.9 788 787M773 845Q766.6 874.4 772 904M715 908Q742.7 894.6 772 904M773 845Q737.7 870.7 715 908M969 660Q997.5 660.7 1021 677M969 660Q1023.4 645.2 1073 672M1021 677Q1046.2 666.7 1073 672M1128 647Q1150.5 670.1 1182 677M844 805Q826.9 833.1 828 866M935 881Q940.9 911.2 966 929M833 928Q866.5 958.2 911 965M725 967Q753.4 953.9 783 964M807 1018Q808.1 1051.2 786 1076M1239 1008Q1216.2 1025.7 1207 1053M1024 805Q1044.3 814.8 1060 831M1054 876Q1119.3 902.5 1174 947M1102 807Q1091.5 850.9 1054 876M1186 865Q1211.3 868.4 1236 875M1081 949Q1105.4 956.5 1130 950M1232 775Q1189.6 792 1144 791M1095 752Q1046.4 800.1 1010 858M1138 743Q1191.1 779.2 1229 831M1182 764Q1140.6 825.8 1147 900M1186 865Q1124.3 895.5 1081 949M1095 752Q1158.6 793.9 1186 865M1144 791Q1081.9 780.4 1024 805M1236 875Q1161.7 865.6 1100 908M1138 743Q1141.7 812 1186 865M1144 791Q1128 828.4 1105 862M1188 813Q1182.8 838.8 1186 865M1059 773Q1070.8 849.5 1039 920M1144 791Q1153.1 834.8 1186 865M1186 865Q1182.4 889.9 1196 911M1147 900Q1110.2 919.4 1081 949M1147 900Q1203.6 902.3 1249 936M1059 773Q1047.4 822.9 1010 858M1144 791Q1135.5 815.5 1144 840M1144 840Q1213.8 869 1249 936M1105 862Q1132.1 910.5 1174 947M1024 805Q1062.7 819.5 1102 807M1138 743Q1123 822.6 1147 900M1010 858Q1057.9 849.6 1105 862M1188 813Q1110.6 822.4 1054 876M1229 831Q1237 852.3 1236 875M1144 791Q1163.2 807.6 1188 813M1095 752Q1137.5 765 1182 764M1095 752Q1101.8 779.1 1102 807M1144 791Q1111.5 846.8 1054 876M1102 807Q1099 834.7 1105 862M1232 775Q1193.5 840.2 1147 900M1144 791Q1163.9 853.7 1196 911M1105 862Q1129.7 877 1147 900M1105 862Q1154.7 878.7 1196 911M1229 831Q1202.2 909.4 1130 950M1060 831Q1103.6 820.7 1144 840M1138 743Q1147.4 766.2 1144 791M1188 813Q1151.6 878.4 1130 950M1102 807Q1045.8 814.2 1010 858M1236 875Q1252 903.5 1249 936M1059 773Q1088.7 822.8 1144 840M1232 775Q1202.2 816.5 1186 865M1138 743Q1183.4 763.8 1232 775M1024 805Q1053.5 859.6 1039 920M1024 805Q1010.2 829.7 1010 858M1102 807Q1135.5 874.7 1130 950M1024 805Q1081.7 857.5 1147 900M1229 831Q1174.1 885.5 1100 908M1059 773Q1099.4 792.1 1144 791M1188 813Q1171.2 879 1174 947M1059 773Q1043.4 823.9 1054 876M1144 791Q1204.5 817.2 1236 875M1188 813Q1210.7 816.9 1229 831M1130 950Q1151.6 942.4 1174 947M1095 752Q1076 830.7 1100 908M1053 1147Q1002.8 1158.4 952 1150M1024 1028Q1014.7 1104.7 952 1150M1082 1025Q1102.5 1076.6 1099 1132M1082 1025Q1026.1 1020.9 976 1046M1099 1132Q1073.3 1131.3 1053 1147M976 1046Q1023 1046.5 1055 1081M958 1094Q1012.4 1108.2 1053 1147M1110 1080Q1074.7 1107.8 1053 1147M1055 1081Q1030.5 1085.1 1010 1099M1010 1099Q977.2 1120.1 952 1150M1024 1028Q977.3 1047.3 958 1094M1010 1099Q999.1 1126.8 1005 1156M958 1094Q983.5 1101.8 1010 1099M1024 1028Q1070.9 1047.6 1110 1080" fill="none" stroke="#a9d3ea" stroke-width="3.0" stroke-opacity="0.6"/>
<path d="M884 845Q850.2 881.4 833 928M935 881Q994.8 879.7 1039 920M966 929Q1003.9 935.5 1039 920M1082 1025Q1089.1 986.9 1081 949M1082 1025Q1098.5 982.7 1130 950M1082 1025Q1076.2 966 1039 920M1082 1025Q1067.6 962.9 1100 908M1024 1028Q1068.3 999.9 1081 949M976 1046Q1020.1 989.3 1039 920M1082 1025Q1143.6 1004.4 1174 947M1010 858Q1036.1 856.9 1054 876M1010 858Q1017.5 892.3 1039 920M1232 775Q1132.8 823.3 1024 805M1095 752Q1049.5 830.2 1039 920M1095 752Q1116.6 805.5 1105 862M1059 773Q1074.4 797.7 1102 807M1105 862Q1136.4 912.8 1196 911M1186 865Q1208.8 881.1 1236 875M1182 764Q1210.7 856.9 1174 947M1182 764Q1172.7 835.9 1105 862M1229 831Q1187.6 845.5 1144 840M1188 813Q1201.5 882.9 1249 936M1229 831Q1145.9 838.4 1100 908M1182 764Q1224.6 784.1 1229 831M1144 840Q1185.5 900.1 1249 936M1100 908Q1181.2 886.1 1249 936M1182 764Q1168.4 785.1 1144 791M1138 743Q1098.8 796.2 1105 862M1138 743Q1173.8 797 1229 831M1232 775Q1188.6 836.3 1196 911M1102 807Q1137 874.4 1130 950M1144 791Q1069.8 810.1 1010 858M1188 813Q1164.8 878.3 1174 947M1024 805Q1093.8 788.9 1144 840M1138 743Q1191.6 739.7 1232 775M1138 743Q1166.2 740.5 1182 764M1229 831Q1122.9 872.1 1010 858M1188 813Q1128.1 845.8 1100 908M1060 831Q1070.4 874.5 1100 908M1095 752Q1144 782.4 1144 840M1059 773Q1112.2 793 1144 840M1024 805Q1105.2 825.4 1188 813M1095 752Q1131.1 878.2 1249 936M1144 791Q1123.4 875.8 1174 947M1095 752Q1072.5 754.8 1059 773M1039 920Q1052.7 945.1 1081 949M1144 791Q1088.1 860.3 1081 949M1147 900Q1095.2 922 1039 920M1138 743Q1126.2 792.4 1144 840M1138 743Q1131.4 852.1 1081 949M1144 791Q1161.1 811.9 1188 813M1144 840Q1101.9 893.7 1039 920M1196 911Q1195.3 935.3 1174 947M1102 807Q1178.9 832 1196 911M1010 858Q1058.6 834.2 1105 862M1053 1147Q1031 1161.9 1005 1156M1082 1025Q1079.5 1111.6 1005 1156M976 1046Q1050 1035.5 1110 1080M1055 1081Q1028.5 1080 1010 1099M1010 1099Q1020.2 1133.1 1053 1147M1024 1028Q1047.6 1096.9 1005 1156M1110 1080Q1016.8 1083 952 1150M958 1094Q1018.1 1098 1053 1147M1082 1025Q1060.9 1049.3 1055 1081M1010 1099Q987.6 1132 952 1150" fill="none" stroke="#eea0a3" stroke-width="1.2" stroke-opacity="0.7"/>
<circle cx="941" cy="609" r="8.5" fill="#c684f7" stroke="#2b2b2b" stroke-width="1"/>
<circle cx="895" cy="639" r="8.5" fill="#e0872b" stroke="#2b2b2b" stroke-width="1"/>
<circle cx="840" cy="649" r="8.5" fill="#e0872b" stroke="#2b2b2b" stroke-width="1"/>
<circle cx="795" cy="690" r="8.5" fill="#7b7b7b" stroke="#2b2b2b" stroke-width="1"/>
<circle cx="870" cy="700" r="8.5" fill="#e0872b" stroke="#2b2b2b" stroke-width="1"/>
<circle cx="926" cy="703" r="8.5" fill="#c684f7" stroke="#2b2b2b" stroke-width="1"/>
<circle cx="757" cy="736" r="8.5" fill="#7b7b7b" stroke="#2b2b2b" stroke-width="1"/>
<circle cx="827" cy="740" r="8.5" fill="#7b7b7b" stroke="#2b2b2b" stroke-width="1"/>
<circle cx="886" cy="765" r="8.5" fill="#c684f7" stroke="#2b2b2b" stroke-width="1"/>
<circle cx="944" cy="763" r="8.5" fill="#c684f7" stroke="#2b2b2b" stroke-width="1"/>
<circle cx="788" cy="787" r="8.5" fill="#7b7b7b" stroke="#2b2b2b" stroke-width="1"/>
<circle cx="728" cy="792" r="8.5" fill="#3f9573" stroke="#2b2b2b" stroke-width="1"/>
<circle cx="844" cy="805" r="8.5" fill="#c684f7" stroke="#2b2b2b" stroke-width="1"/>
<circle cx="936" cy="817" r="8.5" fill="#6de32c" stroke="#2b2b2b" stroke-width="1"/>
<circle cx="716" cy="851" r="9" fill="#3f9573" stroke="#2b2b2b" stroke-width="1"/>
<circle cx="773" cy="845" r="9" fill="#3f9573" stroke="#2b2b2b" stroke-width="1"/>
<circle cx="884" cy="845" r="9" fill="#c684f7" stroke="#2b2b2b" stroke-width="1"/>
<circle cx="828" cy="866" r="8.5" fill="#c684f7" stroke="#2b2b2b" stroke-width="1"/>
<circle cx="935" cy="881" r="8.5" fill="#7b7b7b" stroke="#2b2b2b" stroke-width="1"/>
<circle cx="1006" cy="611" r="9" fill="#c684f7" stroke="#2b2b2b" stroke-width="1"/>
<circle cx="1065" cy="617" r="8.5" fill="#c684f7" stroke="#2b2b2b" stroke-width="1"/>
<circle cx="1128" cy="647" r="8.5" fill="#7b7b7b" stroke="#2b2b2b" stroke-width="1"/>
<circle cx="969" cy="660" r="9.5" fill="#c684f7" stroke="#2b2b2b" stroke-width="1"/>
<circle cx="1021" cy="677" r="9.5" fill="#c684f7" stroke="#2b2b2b" stroke-width="1"/>
<circle cx="1073" cy="672" r="9" fill="#c684f7" stroke="#2b2b2b" stroke-width="1"/>
<circle cx="1182" cy="677" r="8.5" fill="#7b7b7b" stroke="#2b2b2b" stroke-width="1"/>
<circle cx="987" cy="724" r="9" fill="#c684f7" stroke="#2b2b2b" stroke-width="1"/>
<circle cx="1138" cy="743" r="15.5" fill="#6de32c" stroke="#2b2b2b" stroke-width="1"/>
<circle cx="1095" cy="752" r="15.5" fill="#6de32c" stroke="#2b2b2b" stroke-width="1"/>
<circle cx="1182" cy="764" r="15.5" fill="#6de32c" stroke="#2b2b2b" stroke-width="1"/>
<circle cx="1059" cy="773" r="15.5" fill="#6de32c" stroke="#2b2b2b" stroke-width="1"/>
<circle cx="1232" cy="775" r="13.5" fill="#6de32c" stroke="#2b2b2b" stroke-width="1"/>
<circle cx="1144" cy="791" r="15.5" fill="#6de32c" stroke="#2b2b2b" stroke-width="1"/>
<circle cx="1024" cy="805" r="15.5" fill="#6de32c" stroke="#2b2b2b" stroke-width="1"/>
<circle cx="1102" cy="807" r="15.5" fill="#6de32c" stroke="#2b2b2b" stroke-width="1"/>
<circle cx="1188" cy="813" r="15.5" fill="#6de32c" stroke="#2b2b2b" stroke-width="1"/>
<circle cx="1060" cy="831" r="15.5" fill="#6de32c" stroke="#2b2b2b" stroke-width="1"/>
<circle cx="1229" cy="831" r="15.5" fill="#6de32c" stroke="#2b2b2b" stroke-width="1"/>
<circle cx="1144" cy="840" r="15.5" fill="#6de32c" stroke="#2b2b2b" stroke-width="1"/>
<circle cx="1010" cy="858" r="15.5" fill="#6de32c" stroke="#2b2b2b" stroke-width="1"/>
<circle cx="1105" cy="862" r="15.5" fill="#6de32c" stroke="#2b2b2b" stroke-width="1"/>
<circle cx="1186" cy="865" r="15.5" fill="#6de32c" stroke="#2b2b2b" stroke-width="1"/>
<circle cx="1054" cy="876" r="15.5" fill="#6de32c" stroke="#2b2b2b" stroke-width="1"/>
<circle cx="1236" cy="875" r="15.5" fill="#6de32c" stroke="#2b2b2b" stroke-width="1"/>
<circle cx="1147" cy="900" r="15.5" fill="#6de32c" stroke="#2b2b2b" stroke-width="1"/>
<circle cx="1100" cy="908" r="16" fill="#6de32c" stroke="#2b2b2b" stroke-width="1"/>
<circle cx="1196" cy="911" r="16" fill="#6de32c" stroke="#2b2b2b" stroke-width="1"/>
<circle cx="1039" cy="920" r="16" fill="#6de32c" stroke="#2b2b2b" stroke-width="1"/>
<circle cx="1249" cy="936" r="12.5" fill="#6de32c" stroke="#2b2b2b" stroke-width="1"/>
<circle cx="1081" cy="949" r="16" fill="#6de32c" stroke="#2b2b2b" stroke-width="1"/>
<circle cx="1130" cy="950" r="16" fill="#6de32c" stroke="#2b2b2b" stroke-width="1"/>
<circle cx="1174" cy="947" r="16" fill="#6de32c" stroke="#2b2b2b" stroke-width="1"/>
<circle cx="966" cy="929" r="9.5" fill="#7b7b7b" stroke="#2b2b2b" stroke-width="1"/>
<circle cx="974" cy="984" r="8" fill="#6de32c" stroke="#2b2b2b" stroke-width="1"/>
<circle cx="1239" cy="1008" r="8.5" fill="#2e0ff2" stroke="#2b2b2b" stroke-width="1"/>
<circle cx="1024" cy="1028" r="11" fill="#f35b88" stroke="#2b2b2b" stroke-width="1"/>
<circle cx="1082" cy="1025" r="11.5" fill="#f35b88" stroke="#2b2b2b" stroke-width="1"/>
<circle cx="1152" cy="1029" r="8" fill="#6de32c" stroke="#2b2b2b" stroke-width="1"/>
<circle cx="976" cy="1046" r="11" fill="#f35b88" stroke="#2b2b2b" stroke-width="1"/>
<circle cx="1207" cy="1053" r="8.5" fill="#2e0ff2" stroke="#2b2b2b" stroke-width="1"/>
<circle cx="1055" cy="1081" r="11" fill="#f35b88" stroke="#2b2b2b" stroke-width="1"/>
<circle cx="1110" cy="1080" r="11" fill="#f35b88" stroke="#2b2b2b" stroke-width="1"/>
<circle cx="958" cy="1094" r="11" fill="#f35b88" stroke="#2b2b2b" stroke-width="1"/>
<circle cx="1010" cy="1099" r="11" fill="#f35b88" stroke="#2b2b2b" stroke-width="1"/>
<circle cx="1170" cy="1099" r="8.5" fill="#2e0ff2" stroke="#2b2b2b" stroke-width="1"/>
<circle cx="1099" cy="1132" r="11" fill="#f35b88" stroke="#2b2b2b" stroke-width="1"/>
<circle cx="1053" cy="1147" r="11" fill="#f35b88" stroke="#2b2b2b" stroke-width="1"/>
<circle cx="952" cy="1150" r="11" fill="#f35b88" stroke="#2b2b2b" stroke-width="1"/>
<circle cx="1005" cy="1156" r="11" fill="#f35b88" stroke="#2b2b2b" stroke-width="1"/>
<circle cx="715" cy="908" r="9" fill="#3f9573" stroke="#2b2b2b" stroke-width="1"/>
<circle cx="772" cy="904" r="9" fill="#3f9573" stroke="#2b2b2b" stroke-width="1"/>
<circle cx="884" cy="912" r="8.5" fill="#c684f7" stroke="#2b2b2b" stroke-width="1"/>
<circle cx="833" cy="928" r="8.5" fill="#c684f7" stroke="#2b2b2b" stroke-width="1"/>
<circle cx="725" cy="967" r="8.5" fill="#7b7b7b" stroke="#2b2b2b" stroke-width="1"/>
<circle cx="783" cy="964" r="8.5" fill="#7b7b7b" stroke="#2b2b2b" stroke-width="1"/>
<circle cx="911" cy="965" r="8.5" fill="#c684f7" stroke="#2b2b2b" stroke-width="1"/>
<circle cx="857" cy="984" r="8.5" fill="#c684f7" stroke="#2b2b2b" stroke-width="1"/>
<circle cx="748" cy="1023" r="8.5" fill="#7b7b7b" stroke="#2b2b2b" stroke-width="1"/>
<circle cx="807" cy="1018" r="8.5" fill="#7b7b7b" stroke="#2b2b2b" stroke-width="1"/>
<circle cx="910" cy="1026" r="8.5" fill="#7b7b7b" stroke="#2b2b2b" stroke-width="1"/>
<circle cx="852" cy="1052" r="8.5" fill="#7b7b7b" stroke="#2b2b2b" stroke-width="1"/>
<circle cx="786" cy="1076" r="8.5" fill="#7b7b7b" stroke="#2b2b2b" stroke-width="1"/>
<circle cx="896" cy="1087" r="8.5" fill="#7b7b7b" stroke="#2b2b2b" stroke-width="1"/>
<circle cx="834" cy="1114" r="8.5" fill="#7b7b7b" stroke="#2b2b2b" stroke-width="1"/>
<circle cx="888" cy="1146" r="8.5" fill="#7b7b7b" stroke="#2b2b2b" stroke-width="1"/>
<g font-family="Liberation Serif, serif" font-size="12.1" fill="#555" fill-opacity="0.92" text-anchor="middle" lengthAdjust="spacingAndGlyphs">
<text x="939" y="607" textLength="53.2" lengthAdjust="spacingAndGlyphs">Escherichia</text>
<text x="1005" y="618" textLength="86.1" lengthAdjust="spacingAndGlyphs">Streptomycetaceae</text>
<text x="1070" y="627" textLength="67.1" lengthAdjust="spacingAndGlyphs">Actinobacteria</text>
<text x="799" y="692" textLength="45" lengthAdjust="spacingAndGlyphs">Bacillales</text>
<text x="875" y="702" textLength="56.4" lengthAdjust="spacingAndGlyphs">Nitrosospira</text>
<text x="929" y="705" textLength="51.9" lengthAdjust="spacingAndGlyphs">Halomonas</text>
<text x="1078" y="675" textLength="86.1" lengthAdjust="spacingAndGlyphs">Streptomycetaceae</text>
<text x="1185" y="680" textLength="65.9" lengthAdjust="spacingAndGlyphs">Proteobacteria</text>
<text x="991" y="727" textLength="69" lengthAdjust="spacingAndGlyphs">Nitrososphaera</text>
<text x="833" y="743" textLength="93.1" lengthAdjust="spacingAndGlyphs">Promicromonospora</text>
<text x="734" y="794" textLength="74.7" lengthAdjust="spacingAndGlyphs">Bradyrhizobium</text>
<text x="849" y="807" textLength="67.1" lengthAdjust="spacingAndGlyphs">Actinobacteria</text>
<text x="942" y="819" textLength="82.3" lengthAdjust="spacingAndGlyphs">Rhodospirillaceae</text>
<text x="887" y="848" textLength="65.8" lengthAdjust="spacingAndGlyphs">Euryarchaeota</text>
<text x="833" y="868" textLength="67.1" lengthAdjust="spacingAndGlyphs">Actinobacteria</text>
<text x="938" y="883" textLength="92.5" lengthAdjust="spacingAndGlyphs">Pseudonocardiaceae</text>
<text x="1142" y="745" textLength="92.5" lengthAdjust="spacingAndGlyphs">Pseudonocardiaceae</text>
<text x="1097" y="755" textLength="36.1" lengthAdjust="spacingAndGlyphs">Lentzea</text>
<text x="1187" y="766" textLength="45" lengthAdjust="spacingAndGlyphs">Clostridia</text>
<text x="1062" y="776" textLength="52.5" lengthAdjust="spacingAndGlyphs">Bacillaceae</text>
<text x="1235" y="778" textLength="45" lengthAdjust="spacingAndGlyphs">Bacillales</text>
<text x="1029" y="808" textLength="67.1" lengthAdjust="spacingAndGlyphs">Actinobacteria</text>
<text x="1107" y="809" textLength="67.1" lengthAdjust="spacingAndGlyphs">Actinobacteria</text>
<text x="1193" y="816" textLength="65.8" lengthAdjust="spacingAndGlyphs">Euryarchaeota</text>
<text x="1235" y="835" textLength="101.3" lengthAdjust="spacingAndGlyphs">Gammaproteobacteria</text>
<text x="1065" y="834" textLength="86.8" lengthAdjust="spacingAndGlyphs">Saccharopolyspora</text>
<text x="1149" y="843" textLength="87.4" lengthAdjust="spacingAndGlyphs">Planctomycetaceae</text>
<text x="1016" y="860" textLength="79.2" lengthAdjust="spacingAndGlyphs">Corynebacterium</text>
<text x="1111" y="865" textLength="72.2" lengthAdjust="spacingAndGlyphs">Ferrimicrobium</text>
<text x="1191" y="867" textLength="43.1" lengthAdjust="spacingAndGlyphs">Kribbella</text>
<text x="1058" y="881" textLength="92.5" lengthAdjust="spacingAndGlyphs">Pseudonocardiaceae</text>
<text x="889" y="914" textLength="68.4" lengthAdjust="spacingAndGlyphs">Thermotogales</text>
<text x="965" y="932" textLength="86.8" lengthAdjust="spacingAndGlyphs">Saccharopolyspora</text>
<text x="788" y="967" textLength="79.8" lengthAdjust="spacingAndGlyphs">Planctomycetales</text>
<text x="728" y="976" textLength="52.5" lengthAdjust="spacingAndGlyphs">Bacillaceae</text>
<text x="916" y="968" textLength="86.1" lengthAdjust="spacingAndGlyphs">Streptomycetaceae</text>
<text x="862" y="987" textLength="85.5" lengthAdjust="spacingAndGlyphs">Stenotrophomonas</text>
<text x="981" y="987" textLength="76" lengthAdjust="spacingAndGlyphs">Aneurinibacillus</text>
<text x="812" y="1020" textLength="91.8" lengthAdjust="spacingAndGlyphs">Fervidobacteriaceae</text>
<text x="915" y="1029" textLength="65.8" lengthAdjust="spacingAndGlyphs">Euryarchaeota</text>
<text x="791" y="1078" textLength="86.1" lengthAdjust="spacingAndGlyphs">Streptomycetaceae</text>
<text x="892" y="1148" textLength="92.5" lengthAdjust="spacingAndGlyphs">Pseudonocardiaceae</text>
<text x="1044" y="923" textLength="53.2" lengthAdjust="spacingAndGlyphs">Sulfuricella</text>
<text x="1200" y="914" textLength="43.1" lengthAdjust="spacingAndGlyphs">Kribbella</text>
<text x="1253" y="938" textLength="37.4" lengthAdjust="spacingAndGlyphs">Bacillus</text>
<text x="1125" y="948" textLength="56.4" lengthAdjust="spacingAndGlyphs">Nitrosospira</text>
<text x="1073" y="957" textLength="53.2" lengthAdjust="spacingAndGlyphs">Escherichia</text>
<text x="1178" y="961" textLength="86.7" lengthAdjust="spacingAndGlyphs">Enterobacteriaceae</text>
<text x="1086" y="1027" textLength="65.9" lengthAdjust="spacingAndGlyphs">Nesterenkonia</text>
<text x="1156" y="1032" textLength="37.4" lengthAdjust="spacingAndGlyphs">Bacillus</text>
<text x="1114" y="1077" textLength="86.1" lengthAdjust="spacingAndGlyphs">Streptomycetaceae</text>
<text x="1063" y="1090" textLength="86.1" lengthAdjust="spacingAndGlyphs">Acidimicrobiaceae</text>
<text x="971" y="1094" textLength="66.5" lengthAdjust="spacingAndGlyphs">Nitrospiraceae</text>
<text x="1014" y="1104" textLength="65.8" lengthAdjust="spacingAndGlyphs">Euryarchaeota</text>
<text x="1176" y="1101" textLength="67.1" lengthAdjust="spacingAndGlyphs">Actinobacteria</text>
<text x="1107" y="1134" textLength="78.5" lengthAdjust="spacingAndGlyphs">Acidimicrobiales</text>
<text x="1060" y="1150" textLength="101.3" lengthAdjust="spacingAndGlyphs">Gammaproteobacteria</text>
<text x="950" y="1161" textLength="52.5" lengthAdjust="spacingAndGlyphs">Bacillaceae</text>
<text x="1009" y="1162" textLength="43.1" lengthAdjust="spacingAndGlyphs">Kribbella</text>
</g>
<path d="M254 1211Q285 1220.5 314 1206M142 1272Q123.7 1327.5 139 1384M98 1312Q129.3 1341.8 139 1384M103 1428Q64.3 1444.2 41 1479M47 1539Q79.7 1535.2 109 1550M105 1487Q81.2 1518.8 47 1539M77 1365Q148.3 1359.1 204 1404M63 1602Q76 1630.4 105 1642M186 1727Q222.7 1715 241 1681M370 1715Q304.1 1719.5 245 1749M370 1715Q426 1686.8 486 1705M486 1705Q464.3 1733.4 429 1739M355 1763Q395.6 1762.1 429 1739M493 1646Q521 1657.2 549 1646M374 1326Q483.5 1340.5 579 1396M500 1354Q533.2 1386.8 579 1396M298 1366Q274.8 1391 263 1423M263 1423Q301 1470 318 1528M298 1484Q279.3 1528.1 279 1576M312 1617Q270.1 1641.9 241 1681M279 1576Q223.2 1605.4 183 1654M367 1657Q397.6 1670.4 431 1671M367 1657Q335.5 1642.5 312 1617M306 1677Q369.7 1699 431 1671M458 1304Q455.8 1359.2 475 1411M340 1263Q350.7 1297.9 374 1326M405 1276Q394.5 1304.1 374 1326M374 1326Q403.6 1443.2 476 1540M557 1338Q557.4 1403.6 583 1464M428 1490Q449.1 1547.1 425 1603M475 1411Q539.3 1416.6 583 1464M583 1464Q506.9 1485.3 428 1490M373 1460Q422.7 1479.2 476 1481M424 1429Q477.4 1448.5 532 1433M428 1490Q482.5 1467.8 528 1505M476 1481Q453.3 1492.3 428 1490M373 1460Q413.6 1514 476 1540M476 1540Q438.8 1562 425 1603M506 1582Q535.4 1590.5 565 1583M476 1540Q493.1 1559.5 506 1582M476 1481Q528.1 1525.4 565 1583M424 1429Q423.8 1496.8 476 1540M583 1464Q530.8 1481 476 1481M476 1540Q511.5 1580.2 565 1583M424 1429Q402.7 1451.4 373 1460M424 1429Q497.9 1437 528 1505M428 1490Q441.3 1525.3 476 1540M532 1433Q555 1452.6 583 1464M532 1433Q508.6 1467.8 528 1505M421 1549Q488.3 1585.8 565 1583M368 1524Q424.8 1509.4 476 1481M298 1484Q372.6 1413.8 475 1411M421 1549Q522 1544.6 583 1464M327 1427Q369.4 1471.5 428 1490M298 1484Q364.5 1454.8 428 1490M364 1386Q443.5 1425.6 532 1433M421 1549Q447.2 1463 532 1433M421 1549Q416.5 1576.5 425 1603M368 1524Q381.1 1574.6 425 1603M318 1528Q390.7 1483.2 476 1481M364 1386Q371.6 1453 428 1490M183 1654Q242.7 1674.9 306 1677M241 1681Q273.2 1674.8 306 1677M234 1531Q281.5 1566.3 312 1617M279 1576Q287.3 1627.9 306 1677M234 1531Q249.3 1560.7 279 1576M204 1586Q271.5 1613 306 1677M234 1531Q229.9 1564.4 204 1586M204 1586Q251.9 1622.9 312 1617M312 1617Q250.7 1646.6 183 1654M279 1576Q293.3 1598.2 312 1617" fill="none" stroke="#a9d3ea" stroke-width="1.3" stroke-opacity="0.75"/>
<path d="M452 1238Q422.8 1250 405 1276M208 1295Q181.9 1311.1 164 1336M164 1336Q124.3 1375.9 103 1428M77 1365Q52.5 1384.9 43 1415M139 1384Q137.4 1440.6 105 1487M41 1479Q32 1510.2 47 1539M164 1460Q131.8 1467.6 105 1487M170 1524Q202.7 1521.1 234 1531M170 1524Q135.6 1527.8 109 1550M149 1595Q226.1 1638.6 312 1617M245 1749Q271.6 1756.5 298 1748M298 1748Q324.2 1764 355 1763M565 1583Q569.6 1617.7 549 1646M506 1582Q514.7 1622.6 549 1646M405 1276Q502 1357.2 476 1481M500 1354Q424 1336 364 1386M298 1484Q261.3 1501.1 234 1531M298 1484Q240.8 1525.6 204 1586M312 1617Q373.3 1593.9 421 1549M234 1531Q207.5 1607.4 241 1681M204 1586Q236.8 1628 241 1681M279 1576Q282.4 1629.2 306 1677M183 1654Q254.9 1661.3 312 1617M241 1681Q274.3 1692 306 1677M405 1276Q499.9 1329.1 532 1433M424 1429Q478.7 1411 532 1433M532 1433Q516.6 1471.7 476 1481M476 1540Q497.5 1556.3 506 1582M475 1411Q497 1475.3 476 1540M583 1464Q509.4 1500 428 1490M583 1464Q547.1 1473.2 528 1505M528 1505Q542 1546.1 565 1583M475 1411Q418.3 1423.6 373 1460M475 1411Q534.2 1426.8 583 1464M532 1433Q540.7 1469.6 528 1505M475 1411Q474.8 1473.1 528 1505M373 1460Q407.5 1521.9 476 1540M583 1464Q567.2 1522.5 565 1583M532 1433Q466.7 1437.1 428 1490M428 1490Q455.5 1547.3 425 1603M428 1490Q474.1 1523.4 528 1505M506 1582Q471.5 1615.7 425 1603M532 1433Q558.9 1514.5 506 1582M532 1433Q565.3 1435.7 583 1464M583 1464Q535.6 1510.7 476 1540" fill="none" stroke="#a9d3ea" stroke-width="3.0" stroke-opacity="0.6"/>
<path d="M382 1212Q366.1 1241.7 340 1263M204 1404Q268.9 1397 327 1427M204 1404Q235 1462.8 298 1484M105 1642Q142.8 1655.8 183 1654M132 1692Q121.1 1640.1 149 1595M486 1705Q529.3 1688.1 549 1646M431 1671Q403.2 1644.8 367 1657M364 1386Q372.8 1500.6 425 1603M458 1304Q419.2 1354.4 364 1386M431 1358Q372.1 1382.1 327 1427M431 1358Q435.3 1453.5 476 1540M579 1396Q542.6 1445.4 528 1505M532 1433Q534.9 1469.3 528 1505M428 1490Q479.5 1487.5 528 1505M428 1490Q442.3 1524.3 476 1540M528 1505Q493 1509.2 476 1540M532 1433Q513.6 1491.5 476 1540M476 1481Q454.3 1497.5 428 1490M428 1490Q453.1 1547.7 506 1582M476 1540Q464.4 1582.7 425 1603M476 1540Q525.8 1550.5 565 1583M583 1464Q540.6 1518.4 565 1583M476 1481Q500 1497.3 528 1505M532 1433Q536.1 1510.7 565 1583M583 1464Q507.1 1486.6 428 1490M424 1429Q477.8 1437.4 532 1433M368 1524Q395.7 1502.9 428 1490M421 1549Q418.9 1518.8 428 1490M327 1427Q379.7 1512.3 476 1540M364 1386Q387.2 1417 424 1429M298 1484Q387.7 1524.4 476 1481M368 1524Q430.9 1567.6 506 1582M364 1386Q468.5 1414.5 528 1505M327 1427Q375.8 1414.2 424 1429M421 1549Q497.3 1547.8 565 1583M364 1386Q383.8 1445.5 428 1490M327 1427Q393.1 1433.6 428 1490M421 1549Q462.8 1498.5 528 1505M421 1549Q486.2 1500.2 532 1433M364 1386Q413.5 1425 475 1411M368 1524Q341.7 1488.9 298 1484M318 1528Q368.3 1544.6 421 1549M364 1386Q349.4 1410 327 1427M364 1386Q389.8 1454.3 368 1524M327 1427Q362.1 1469.3 368 1524M364 1386Q345.6 1444.9 298 1484M318 1528Q320.9 1500.1 298 1484M327 1427Q304.3 1475.9 318 1528" fill="none" stroke="#eea0a3" stroke-width="1.2" stroke-opacity="0.7"/>
<path d="M194 1234Q223.1 1262.3 263 1270M515 1283Q547 1302.1 557 1338M231 1470Q276.9 1443.7 327 1427M327 1427Q380.2 1352.4 458 1304M149 1595Q212.1 1572.5 279 1576M132 1692Q161.3 1678.1 183 1654M312 1617Q369.9 1621.3 425 1603M327 1427Q301.1 1449.7 298 1484M458 1304Q369 1396 368 1524M373 1460Q429.5 1493.6 476 1540M532 1433Q489.5 1478.8 428 1490M428 1490Q446.8 1520 476 1540M528 1505Q525 1545.8 506 1582M532 1433Q587.1 1499.5 565 1583M424 1429Q438 1467 476 1481M476 1540Q502.3 1552.9 506 1582M476 1481Q417.3 1528.1 425 1603" fill="none" stroke="#eea0a3" stroke-width="3.0" stroke-opacity="0.55"/>
<circle cx="254" cy="1211" r="10" fill="#7b7b7b" stroke="#2b2b2b" stroke-width="1"/>
<circle cx="314" cy="1206" r="10" fill="#7b7b7b" stroke="#2b2b2b" stroke-width="1"/>
<circle cx="194" cy="1234" r="10" fill="#7b7b7b" stroke="#2b2b2b" stroke-width="1"/>
<circle cx="263" cy="1270" r="10" fill="#7b7b7b" stroke="#2b2b2b" stroke-width="1"/>
<circle cx="142" cy="1272" r="10" fill="#c684f7" stroke="#2b2b2b" stroke-width="1"/>
<circle cx="208" cy="1295" r="10" fill="#c684f7" stroke="#2b2b2b" stroke-width="1"/>
<circle cx="98" cy="1312" r="10" fill="#c684f7" stroke="#2b2b2b" stroke-width="1"/>
<circle cx="309" cy="1313" r="10.5" fill="#7b7b7b" stroke="#2b2b2b" stroke-width="1"/>
<circle cx="164" cy="1336" r="10.5" fill="#c684f7" stroke="#2b2b2b" stroke-width="1"/>
<circle cx="237" cy="1352" r="10" fill="#f35b88" stroke="#2b2b2b" stroke-width="1"/>
<circle cx="77" cy="1365" r="10.5" fill="#7b7b7b" stroke="#2b2b2b" stroke-width="1"/>
<circle cx="298" cy="1366" r="11.5" fill="#7b7b7b" stroke="#2b2b2b" stroke-width="1"/>
<circle cx="139" cy="1384" r="10.5" fill="#c684f7" stroke="#2b2b2b" stroke-width="1"/>
<circle cx="204" cy="1404" r="10.5" fill="#7b7b7b" stroke="#2b2b2b" stroke-width="1"/>
<circle cx="43" cy="1415" r="10" fill="#7b7b7b" stroke="#2b2b2b" stroke-width="1"/>
<circle cx="263" cy="1423" r="10.5" fill="#7b7b7b" stroke="#2b2b2b" stroke-width="1"/>
<circle cx="103" cy="1428" r="10.5" fill="#c684f7" stroke="#2b2b2b" stroke-width="1"/>
<circle cx="164" cy="1460" r="10.5" fill="#c684f7" stroke="#2b2b2b" stroke-width="1"/>
<circle cx="231" cy="1470" r="10.5" fill="#e0872b" stroke="#2b2b2b" stroke-width="1"/>
<circle cx="41" cy="1479" r="10.5" fill="#c684f7" stroke="#2b2b2b" stroke-width="1"/>
<circle cx="105" cy="1487" r="10.5" fill="#c684f7" stroke="#2b2b2b" stroke-width="1"/>
<circle cx="298" cy="1484" r="13.5" fill="#f35b88" stroke="#2b2b2b" stroke-width="1"/>
<circle cx="170" cy="1524" r="10" fill="#f35b88" stroke="#2b2b2b" stroke-width="1"/>
<circle cx="234" cy="1531" r="12.5" fill="#3f9573" stroke="#2b2b2b" stroke-width="1"/>
<circle cx="47" cy="1539" r="10.5" fill="#c684f7" stroke="#2b2b2b" stroke-width="1"/>
<circle cx="109" cy="1550" r="10.5" fill="#c684f7" stroke="#2b2b2b" stroke-width="1"/>
<circle cx="279" cy="1576" r="13.5" fill="#3f9573" stroke="#2b2b2b" stroke-width="1"/>
<circle cx="204" cy="1586" r="12.5" fill="#3f9573" stroke="#2b2b2b" stroke-width="1"/>
<circle cx="149" cy="1595" r="10.5" fill="#f35b88" stroke="#2b2b2b" stroke-width="1"/>
<circle cx="63" cy="1602" r="10" fill="#f35b88" stroke="#2b2b2b" stroke-width="1"/>
<circle cx="312" cy="1617" r="14.5" fill="#3f9573" stroke="#2b2b2b" stroke-width="1"/>
<circle cx="240" cy="1626" r="11.5" fill="#f35b88" stroke="#2b2b2b" stroke-width="1"/>
<circle cx="105" cy="1642" r="10.5" fill="#f35b88" stroke="#2b2b2b" stroke-width="1"/>
<circle cx="183" cy="1654" r="12.5" fill="#3f9573" stroke="#2b2b2b" stroke-width="1"/>
<circle cx="241" cy="1681" r="12.5" fill="#3f9573" stroke="#2b2b2b" stroke-width="1"/>
<circle cx="306" cy="1677" r="11.5" fill="#3f9573" stroke="#2b2b2b" stroke-width="1"/>
<circle cx="132" cy="1692" r="10.5" fill="#f35b88" stroke="#2b2b2b" stroke-width="1"/>
<circle cx="186" cy="1727" r="10" fill="#3f9573" stroke="#2b2b2b" stroke-width="1"/>
<circle cx="245" cy="1749" r="10" fill="#2e0ff2" stroke="#2b2b2b" stroke-width="1"/>
<circle cx="298" cy="1748" r="10" fill="#2e0ff2" stroke="#2b2b2b" stroke-width="1"/>
<circle cx="382" cy="1212" r="10" fill="#7b7b7b" stroke="#2b2b2b" stroke-width="1"/>
<circle cx="452" cy="1238" r="10.5" fill="#7b7b7b" stroke="#2b2b2b" stroke-width="1"/>
<circle cx="340" cy="1263" r="10.5" fill="#7b7b7b" stroke="#2b2b2b" stroke-width="1"/>
<circle cx="405" cy="1276" r="10.5" fill="#7b7b7b" stroke="#2b2b2b" stroke-width="1"/>
<circle cx="515" cy="1283" r="10" fill="#7b7b7b" stroke="#2b2b2b" stroke-width="1"/>
<circle cx="458" cy="1304" r="9.5" fill="#e0872b" stroke="#2b2b2b" stroke-width="1"/>
<circle cx="374" cy="1326" r="11.5" fill="#7b7b7b" stroke="#2b2b2b" stroke-width="1"/>
<circle cx="557" cy="1338" r="10" fill="#7b7b7b" stroke="#2b2b2b" stroke-width="1"/>
<circle cx="431" cy="1358" r="10.5" fill="#f35b88" stroke="#2b2b2b" stroke-width="1"/>
<circle cx="500" cy="1354" r="10" fill="#e0872b" stroke="#2b2b2b" stroke-width="1"/>
<circle cx="364" cy="1386" r="13.5" fill="#e0872b" stroke="#2b2b2b" stroke-width="1"/>
<circle cx="579" cy="1396" r="10" fill="#f35b88" stroke="#2b2b2b" stroke-width="1"/>
<circle cx="475" cy="1411" r="13.5" fill="#6de32c" stroke="#2b2b2b" stroke-width="1"/>
<circle cx="327" cy="1427" r="13.5" fill="#e0872b" stroke="#2b2b2b" stroke-width="1"/>
<circle cx="424" cy="1429" r="14" fill="#6de32c" stroke="#2b2b2b" stroke-width="1"/>
<circle cx="532" cy="1433" r="12" fill="#6de32c" stroke="#2b2b2b" stroke-width="1"/>
<circle cx="373" cy="1460" r="12" fill="#6de32c" stroke="#2b2b2b" stroke-width="1"/>
<circle cx="583" cy="1464" r="12" fill="#6de32c" stroke="#2b2b2b" stroke-width="1"/>
<circle cx="476" cy="1481" r="16.5" fill="#6de32c" stroke="#2b2b2b" stroke-width="1"/>
<circle cx="428" cy="1490" r="13" fill="#6de32c" stroke="#2b2b2b" stroke-width="1"/>
<circle cx="528" cy="1505" r="12" fill="#6de32c" stroke="#2b2b2b" stroke-width="1"/>
<circle cx="318" cy="1528" r="13" fill="#e0872b" stroke="#2b2b2b" stroke-width="1"/>
<circle cx="368" cy="1524" r="15" fill="#e0872b" stroke="#2b2b2b" stroke-width="1"/>
<circle cx="577" cy="1526" r="10" fill="#f35b88" stroke="#2b2b2b" stroke-width="1"/>
<circle cx="421" cy="1549" r="14.5" fill="#e0872b" stroke="#2b2b2b" stroke-width="1"/>
<circle cx="476" cy="1540" r="15" fill="#6de32c" stroke="#2b2b2b" stroke-width="1"/>
<circle cx="359" cy="1589" r="10" fill="#7b7b7b" stroke="#2b2b2b" stroke-width="1"/>
<circle cx="506" cy="1582" r="13" fill="#6de32c" stroke="#2b2b2b" stroke-width="1"/>
<circle cx="565" cy="1583" r="12" fill="#6de32c" stroke="#2b2b2b" stroke-width="1"/>
<circle cx="425" cy="1603" r="14" fill="#6de32c" stroke="#2b2b2b" stroke-width="1"/>
<circle cx="493" cy="1646" r="10.5" fill="#6de32c" stroke="#2b2b2b" stroke-width="1"/>
<circle cx="549" cy="1646" r="11" fill="#6de32c" stroke="#2b2b2b" stroke-width="1"/>
<circle cx="367" cy="1657" r="11" fill="#3f9573" stroke="#2b2b2b" stroke-width="1"/>
<circle cx="431" cy="1671" r="10" fill="#3f9573" stroke="#2b2b2b" stroke-width="1"/>
<circle cx="486" cy="1705" r="11" fill="#2e0ff2" stroke="#2b2b2b" stroke-width="1"/>
<circle cx="370" cy="1715" r="10.5" fill="#2e0ff2" stroke="#2b2b2b" stroke-width="1"/>
<circle cx="429" cy="1739" r="10.5" fill="#2e0ff2" stroke="#2b2b2b" stroke-width="1"/>
<circle cx="355" cy="1763" r="10.5" fill="#2e0ff2" stroke="#2b2b2b" stroke-width="1"/>
<g font-family="Liberation Sans, sans-serif" font-size="12" fill="#555" fill-opacity="0.92" text-anchor="middle">
<text x="257" y="1214.3">Fusarium</text>
<text x="322" y="1209.3">Nectriaceae</text>
<text x="197" y="1236.3">unclassified</text>
<text x="265" y="1272.3">Mortierella</text>
<text x="147" y="1275.3">Cutaneotrichosporon</text>
<text x="210" y="1297.3">Mortierella</text>
<text x="102" y="1314.3">Thelephoraceae</text>
<text x="167" y="1339.3">Nigrospora</text>
<text x="240" y="1354.3">Didymellaceae</text>
<text x="79" y="1367.3">Diaporthe</text>
<text x="142" y="1386.3">Mortierella</text>
<text x="207" y="1407.3">Aspergillus</text>
<text x="45" y="1417.3">Mortierella</text>
<text x="106" y="1430.3">unclassified</text>
<text x="264" y="1425.3">unclassified</text>
<text x="167" y="1462.3">Pseudaleuria</text>
<text x="234" y="1471.3">Acremonium</text>
<text x="385" y="1214.3">Epicoccum</text>
<text x="455" y="1241.3">Xerochrysium</text>
<text x="343" y="1266.3">Aspergillus</text>
<text x="408" y="1278.3">Aspergillus</text>
<text x="518" y="1285.3">unclassified</text>
<text x="461" y="1306.3">Nectriaceae</text>
<text x="309" y="1315.3">unclassified</text>
<text x="377" y="1328.3">Lecanicillium</text>
<text x="560" y="1340.3">Mortierella</text>
<text x="434" y="1361.3">Aspergillus</text>
<text x="503" y="1356.3">Acremonium</text>
<text x="300" y="1368.3">unclassified</text>
<text x="367" y="1388.3">Fusarium</text>
<text x="582" y="1398.3">Cladosporium</text>
<text x="478" y="1414.3">Alternaria</text>
<text x="428" y="1432.3">Cephalotrichum</text>
<text x="534" y="1435.3">Malassezia</text>
<text x="331" y="1436.3">Sterigmatomyces</text>
<text x="376" y="1462.3">Penicillium</text>
<text x="585" y="1467.3">Mortierella</text>
<text x="480" y="1484.3">Cladosporium</text>
<text x="301" y="1486.3">Chaetomium</text>
<text x="44" y="1481.3">unclassified</text>
<text x="108" y="1490.3">Pleosporales</text>
<text x="173" y="1525.3">Ceratobasidium</text>
<text x="237" y="1534.3">Issatchenkia</text>
<text x="322" y="1535.3">Tolypocladium</text>
<text x="50" y="1541.3">unclassified</text>
<text x="112" y="1552.3">Ascomycota</text>
<text x="282" y="1578.3">Tetracladium</text>
<text x="206" y="1588.3">Issatchenkia</text>
<text x="154" y="1598.3">Pseudogymnoascus</text>
<text x="66" y="1604.3">unclassified</text>
<text x="315" y="1619.3">Fusarium</text>
<text x="243" y="1628.3">Mortierella</text>
<text x="109" y="1645.3">Pseudopithomyces</text>
<text x="187" y="1657.3">Ceratobasidium</text>
<text x="245" y="1684.3">Issatchenkia</text>
<text x="303" y="1679.3">Fusarium</text>
<text x="135" y="1694.3">Cladosporium</text>
<text x="190" y="1730.3">Sordariomycetes</text>
<text x="248" y="1752.3">Aspergillus</text>
<text x="306" y="1751.3">Clavaria</text>
<text x="431" y="1494.3">Thermoascus</text>
<text x="531" y="1507.3">unclassified</text>
<text x="371" y="1524.3">Ilyonectria</text>
<text x="581" y="1529.3">Plectosphaerella</text>
<text x="479" y="1542.3">Aspergillus</text>
<text x="424" y="1553.3">unclassified</text>
<text x="362" y="1591.3">Aspergillus</text>
<text x="503" y="1584.3">Mortierella</text>
<text x="571" y="1585.3">Lecanicillium</text>
<text x="428" y="1605.3">Sarocladium</text>
<text x="491" y="1648.3">Fusarium</text>
<text x="552" y="1651.3">unclassified</text>
<text x="369" y="1659.3">Gliomastix</text>
<text x="435" y="1674.3">Symmetrospora</text>
<text x="489" y="1708.3">Aspergillus</text>
<text x="373" y="1717.3">unclassified</text>
<text x="432" y="1741.3">unclassified</text>
<text x="358" y="1768.3">unclassified</text>
</g>
<path d="M940 1224Q965.8 1205.5 996 1215M996 1215Q1026.5 1213 1053 1228M1107 1245Q1135.5 1251 1152 1275M888 1246Q877.5 1296.5 841 1333M844 1269Q816.5 1275.5 797 1296M947 1340Q918.5 1347.8 899 1370M828 1387Q855.5 1395.1 874 1417M729 1443Q760.1 1435.7 786 1417M777 1346Q799.2 1379.2 786 1417M1157 1343Q1168 1373.8 1190 1398M1130 1456Q1136.1 1430.7 1132 1405M1130 1456Q1100.2 1444.8 1077 1423M1074 1487Q1075.6 1512.8 1087 1536M885 1492Q855.9 1496.3 834 1516M913 1547Q941.2 1535.8 971 1542M808 1578Q780.3 1591.7 760 1615M808 1578Q836.8 1578.5 861 1563M808 1578Q811 1607.2 825 1633M808 1578Q849.6 1585.8 885 1609M825 1633Q841.8 1667.2 837 1705M1033 1704Q1035.3 1731.7 1022 1756M1033 1704Q1025.3 1672.3 1006 1646M892 1736Q919 1755 952 1756M1044 1564Q1092.6 1601.6 1123 1655M1057 1621Q1086.6 1644.6 1123 1655M1084 1736Q1084.1 1701.7 1071 1670M1044 1564Q1095.2 1573.2 1146 1562M1170 1620Q1189 1590 1195 1555M946 1493Q959.6 1544.6 992 1587M992 1587Q993.1 1617.9 1006 1646M992 1587Q1023.2 1636.4 1071 1670M1018 1395Q995.5 1419.1 984 1450M1018 1395Q1019.7 1425.5 1033 1453M961 1395Q988.3 1434.8 1033 1453M984 1450Q1055.8 1482.2 1130 1456M1132 1405Q1127.2 1457.6 1143 1508M1187 1453Q1200.7 1475.2 1204 1501M1187 1453Q1176.5 1489.7 1143 1508M1204 1501Q1208.3 1529.5 1195 1555M1143 1508Q1135.8 1535.5 1146 1562M1187 1453Q1158.6 1504.5 1146 1562M1204 1501Q1171.9 1490.4 1143 1508" fill="none" stroke="#a9d3ea" stroke-width="1.3" stroke-opacity="0.75"/>
<path d="M1053 1228Q1018.2 1240.5 996 1270M888 1246Q862.5 1250.9 844 1269M844 1269Q852.1 1301.5 841 1333M888 1246Q830 1248.2 797 1296M828 1387Q804 1397.8 786 1417M828 1387Q791.5 1423.5 781 1474M786 1417Q777.8 1445 781 1474M1097 1309Q1066.2 1322.7 1048 1351M1104 1363Q1163.5 1391.4 1187 1453M1231 1363Q1265 1436.2 1253 1516M1130 1456Q1098.9 1465.9 1074 1487M1130 1456Q1158.2 1448.8 1187 1453M1074 1487Q1081.9 1455.3 1077 1423M885 1492Q855.1 1542.7 808 1578M913 1547Q883.6 1600.4 877 1661M971 1542Q948 1571.2 938 1607M980 1713Q932.5 1711.3 892 1736M1108 1601Q1137.1 1616.7 1170 1620M1224 1624Q1222.3 1565.7 1253 1516M1146 1562Q1171.2 1563.4 1195 1555M1143 1508Q1135 1535.5 1146 1562M1195 1555Q1168.5 1544.6 1146 1562M1195 1555Q1180.3 1519 1143 1508M1204 1501Q1210.9 1529.9 1195 1555M1204 1501Q1174.5 1512.9 1143 1508M1187 1453Q1229.3 1474.8 1253 1516M1253 1516Q1186.1 1507.8 1146 1562M1253 1516Q1200.2 1482.1 1143 1508M1187 1453Q1173.9 1487.6 1143 1508" fill="none" stroke="#a9d3ea" stroke-width="3.0" stroke-opacity="0.6"/>
<path d="M940 1284Q937.9 1312.7 947 1340M940 1284Q933.9 1342.7 961 1395M940 1284Q919.4 1303.2 893 1313M841 1333Q811 1349.1 777 1346M841 1333Q800.9 1366.8 786 1417M841 1333Q829.1 1358.7 828 1387M742 1388Q758.2 1411.3 786 1417M742 1388Q774.7 1441.1 835 1457M725 1500Q743 1449.3 786 1417M1051 1286Q1059.2 1319 1048 1351M1048 1351Q1026.4 1368.5 1018 1395M1190 1398Q1151.3 1418 1130 1456M1074 1487Q1046 1505.6 1013 1512M734 1565Q754.5 1586.1 760 1615M808 1578Q788.6 1559 778 1534M825 1633Q802 1646.2 790 1670M955 1657Q982.1 1659.2 1006 1646M980 1713Q961.7 1731.7 952 1756M1108 1601Q1110.1 1629.5 1123 1655M1057 1621Q1080.5 1605.9 1108 1601M1087 1536Q1091 1570.6 1108 1601M1136 1714Q1107.8 1719.8 1084 1736M1013 1512Q1052.4 1516.6 1087 1536M1013 1512Q981.4 1495.8 946 1493M1048 1351Q1046.6 1435 1013 1512M1123 1655Q1117.7 1687.1 1136 1714" fill="none" stroke="#eea0a3" stroke-width="1.2" stroke-opacity="0.7"/>
<path d="M893 1313Q942.9 1335.6 997 1327M1097 1309Q1070.4 1363.8 1018 1395M1198 1310Q1206.5 1341.5 1231 1363M1190 1398Q1233.3 1417.8 1251 1462M1250 1414Q1245.7 1438.1 1251 1462M808 1578Q772.3 1564.1 734 1565M971 1542Q921.3 1566.9 885 1609M790 1670Q818.8 1680.5 837 1705M920 1694Q901.8 1712.2 892 1736M980 1713Q986.3 1676.9 1006 1646M1170 1620Q1213.5 1605.3 1248 1575M1170 1620Q1143 1632.8 1123 1655" fill="none" stroke="#eea0a3" stroke-width="3.0" stroke-opacity="0.55"/>
<circle cx="940" cy="1224" r="9.5" fill="#7b7b7b" stroke="#2b2b2b" stroke-width="1"/>
<circle cx="888" cy="1246" r="10" fill="#7b7b7b" stroke="#2b2b2b" stroke-width="1"/>
<circle cx="844" cy="1269" r="11.5" fill="#7b7b7b" stroke="#2b2b2b" stroke-width="1"/>
<circle cx="940" cy="1284" r="10" fill="#7b7b7b" stroke="#2b2b2b" stroke-width="1"/>
<circle cx="797" cy="1296" r="9.5" fill="#7b7b7b" stroke="#2b2b2b" stroke-width="1"/>
<circle cx="893" cy="1313" r="11" fill="#7b7b7b" stroke="#2b2b2b" stroke-width="1"/>
<circle cx="841" cy="1333" r="12" fill="#7b7b7b" stroke="#2b2b2b" stroke-width="1"/>
<circle cx="777" cy="1346" r="10" fill="#7b7b7b" stroke="#2b2b2b" stroke-width="1"/>
<circle cx="947" cy="1340" r="10" fill="#7b7b7b" stroke="#2b2b2b" stroke-width="1"/>
<circle cx="899" cy="1370" r="9.5" fill="#7b7b7b" stroke="#2b2b2b" stroke-width="1"/>
<circle cx="742" cy="1388" r="9.5" fill="#3f9573" stroke="#2b2b2b" stroke-width="1"/>
<circle cx="828" cy="1387" r="12" fill="#7b7b7b" stroke="#2b2b2b" stroke-width="1"/>
<circle cx="961" cy="1395" r="10.5" fill="#f35b88" stroke="#2b2b2b" stroke-width="1"/>
<circle cx="786" cy="1417" r="11" fill="#7b7b7b" stroke="#2b2b2b" stroke-width="1"/>
<circle cx="874" cy="1417" r="9.5" fill="#7b7b7b" stroke="#2b2b2b" stroke-width="1"/>
<circle cx="729" cy="1443" r="9.5" fill="#7b7b7b" stroke="#2b2b2b" stroke-width="1"/>
<circle cx="923" cy="1442" r="9.5" fill="#e0872b" stroke="#2b2b2b" stroke-width="1"/>
<circle cx="835" cy="1457" r="10" fill="#3f9573" stroke="#2b2b2b" stroke-width="1"/>
<circle cx="781" cy="1474" r="9.5" fill="#7b7b7b" stroke="#2b2b2b" stroke-width="1"/>
<circle cx="996" cy="1215" r="9.5" fill="#7b7b7b" stroke="#2b2b2b" stroke-width="1"/>
<circle cx="1053" cy="1228" r="9.5" fill="#7b7b7b" stroke="#2b2b2b" stroke-width="1"/>
<circle cx="1107" cy="1245" r="9.5" fill="#7b7b7b" stroke="#2b2b2b" stroke-width="1"/>
<circle cx="996" cy="1270" r="10.5" fill="#7b7b7b" stroke="#2b2b2b" stroke-width="1"/>
<circle cx="1152" cy="1275" r="9.5" fill="#7b7b7b" stroke="#2b2b2b" stroke-width="1"/>
<circle cx="1051" cy="1286" r="9.5" fill="#e0872b" stroke="#2b2b2b" stroke-width="1"/>
<circle cx="1097" cy="1309" r="10.5" fill="#e0872b" stroke="#2b2b2b" stroke-width="1"/>
<circle cx="1198" cy="1310" r="9.5" fill="#c684f7" stroke="#2b2b2b" stroke-width="1"/>
<circle cx="997" cy="1327" r="9.5" fill="#7b7b7b" stroke="#2b2b2b" stroke-width="1"/>
<circle cx="1157" cy="1343" r="9.5" fill="#3f9573" stroke="#2b2b2b" stroke-width="1"/>
<circle cx="1048" cy="1351" r="12" fill="#e0872b" stroke="#2b2b2b" stroke-width="1"/>
<circle cx="1104" cy="1363" r="9.5" fill="#c684f7" stroke="#2b2b2b" stroke-width="1"/>
<circle cx="1231" cy="1363" r="10.5" fill="#c684f7" stroke="#2b2b2b" stroke-width="1"/>
<circle cx="1018" cy="1395" r="11" fill="#e0872b" stroke="#2b2b2b" stroke-width="1"/>
<circle cx="1190" cy="1398" r="11.5" fill="#3f9573" stroke="#2b2b2b" stroke-width="1"/>
<circle cx="1132" cy="1405" r="11" fill="#6de32c" stroke="#2b2b2b" stroke-width="1"/>
<circle cx="1250" cy="1414" r="10.5" fill="#c684f7" stroke="#2b2b2b" stroke-width="1"/>
<circle cx="1077" cy="1423" r="11" fill="#6de32c" stroke="#2b2b2b" stroke-width="1"/>
<circle cx="984" cy="1450" r="10.5" fill="#3f9573" stroke="#2b2b2b" stroke-width="1"/>
<circle cx="1033" cy="1453" r="10.5" fill="#f35b88" stroke="#2b2b2b" stroke-width="1"/>
<circle cx="1130" cy="1456" r="14" fill="#3f9573" stroke="#2b2b2b" stroke-width="1"/>
<circle cx="1187" cy="1453" r="13" fill="#c684f7" stroke="#2b2b2b" stroke-width="1"/>
<circle cx="1251" cy="1462" r="10.5" fill="#3f9573" stroke="#2b2b2b" stroke-width="1"/>
<circle cx="725" cy="1500" r="9.5" fill="#7b7b7b" stroke="#2b2b2b" stroke-width="1"/>
<circle cx="885" cy="1492" r="11.5" fill="#3f9573" stroke="#2b2b2b" stroke-width="1"/>
<circle cx="946" cy="1493" r="9.5" fill="#f35b88" stroke="#2b2b2b" stroke-width="1"/>
<circle cx="834" cy="1516" r="11" fill="#3f9573" stroke="#2b2b2b" stroke-width="1"/>
<circle cx="778" cy="1534" r="10" fill="#6de32c" stroke="#2b2b2b" stroke-width="1"/>
<circle cx="913" cy="1547" r="12.5" fill="#3f9573" stroke="#2b2b2b" stroke-width="1"/>
<circle cx="734" cy="1565" r="10" fill="#6de32c" stroke="#2b2b2b" stroke-width="1"/>
<circle cx="861" cy="1563" r="11" fill="#6de32c" stroke="#2b2b2b" stroke-width="1"/>
<circle cx="808" cy="1578" r="15.5" fill="#6de32c" stroke="#2b2b2b" stroke-width="1"/>
<circle cx="760" cy="1615" r="10" fill="#6de32c" stroke="#2b2b2b" stroke-width="1"/>
<circle cx="885" cy="1609" r="11" fill="#e0872b" stroke="#2b2b2b" stroke-width="1"/>
<circle cx="938" cy="1607" r="11" fill="#e0872b" stroke="#2b2b2b" stroke-width="1"/>
<circle cx="825" cy="1633" r="11" fill="#6de32c" stroke="#2b2b2b" stroke-width="1"/>
<circle cx="877" cy="1661" r="10" fill="#3f9573" stroke="#2b2b2b" stroke-width="1"/>
<circle cx="955" cy="1657" r="10" fill="#2e0ff2" stroke="#2b2b2b" stroke-width="1"/>
<circle cx="790" cy="1670" r="10" fill="#6de32c" stroke="#2b2b2b" stroke-width="1"/>
<circle cx="920" cy="1694" r="12" fill="#2e0ff2" stroke="#2b2b2b" stroke-width="1"/>
<circle cx="837" cy="1705" r="10" fill="#6de32c" stroke="#2b2b2b" stroke-width="1"/>
<circle cx="892" cy="1736" r="12" fill="#2e0ff2" stroke="#2b2b2b" stroke-width="1"/>
<circle cx="952" cy="1756" r="10" fill="#2e0ff2" stroke="#2b2b2b" stroke-width="1"/>
<circle cx="1074" cy="1487" r="10.5" fill="#6de32c" stroke="#2b2b2b" stroke-width="1"/>
<circle cx="1013" cy="1512" r="11.5" fill="#f35b88" stroke="#2b2b2b" stroke-width="1"/>
<circle cx="1143" cy="1508" r="10" fill="#c684f7" stroke="#2b2b2b" stroke-width="1"/>
<circle cx="1204" cy="1501" r="13" fill="#c684f7" stroke="#2b2b2b" stroke-width="1"/>
<circle cx="1253" cy="1516" r="13.5" fill="#c684f7" stroke="#2b2b2b" stroke-width="1"/>
<circle cx="971" cy="1542" r="13" fill="#e0872b" stroke="#2b2b2b" stroke-width="1"/>
<circle cx="1087" cy="1536" r="11.5" fill="#f35b88" stroke="#2b2b2b" stroke-width="1"/>
<circle cx="1044" cy="1564" r="13" fill="#f35b88" stroke="#2b2b2b" stroke-width="1"/>
<circle cx="1146" cy="1562" r="11.5" fill="#c684f7" stroke="#2b2b2b" stroke-width="1"/>
<circle cx="1195" cy="1555" r="14.5" fill="#c684f7" stroke="#2b2b2b" stroke-width="1"/>
<circle cx="1248" cy="1575" r="9" fill="#f35b88" stroke="#2b2b2b" stroke-width="1"/>
<circle cx="992" cy="1587" r="10" fill="#6de32c" stroke="#2b2b2b" stroke-width="1"/>
<circle cx="1108" cy="1601" r="11.5" fill="#f35b88" stroke="#2b2b2b" stroke-width="1"/>
<circle cx="1057" cy="1621" r="11" fill="#f35b88" stroke="#2b2b2b" stroke-width="1"/>
<circle cx="1170" cy="1620" r="11.5" fill="#f35b88" stroke="#2b2b2b" stroke-width="1"/>
<circle cx="1224" cy="1624" r="9.5" fill="#c684f7" stroke="#2b2b2b" stroke-width="1"/>
<circle cx="1006" cy="1646" r="11.5" fill="#2e0ff2" stroke="#2b2b2b" stroke-width="1"/>
<circle cx="1123" cy="1655" r="11.5" fill="#f35b88" stroke="#2b2b2b" stroke-width="1"/>
<circle cx="1071" cy="1670" r="10" fill="#e0872b" stroke="#2b2b2b" stroke-width="1"/>
<circle cx="1184" cy="1674" r="9.5" fill="#c684f7" stroke="#2b2b2b" stroke-width="1"/>
<circle cx="1033" cy="1704" r="10" fill="#2e0ff2" stroke="#2b2b2b" stroke-width="1"/>
<circle cx="980" cy="1713" r="12.5" fill="#2e0ff2" stroke="#2b2b2b" stroke-width="1"/>
<circle cx="1136" cy="1714" r="9.5" fill="#e0872b" stroke="#2b2b2b" stroke-width="1"/>
<circle cx="1084" cy="1736" r="10.5" fill="#e0872b" stroke="#2b2b2b" stroke-width="1"/>
<circle cx="1022" cy="1756" r="10" fill="#2e0ff2" stroke="#2b2b2b" stroke-width="1"/>
<g font-family="Liberation Sans, sans-serif" font-size="12" fill="#555" fill-opacity="0.92" text-anchor="middle">
<text x="941" y="1226.3">Mortierella</text>
<text x="890" y="1248.3">Fusarium</text>
<text x="847" y="1271.3">Meyerozyma</text>
<text x="944" y="1287.3">Ceratobasidium</text>
<text x="799" y="1298.3">Candida</text>
<text x="896" y="1315.3">Verticillium</text>
<text x="843" y="1336.3">Saitozyma</text>
<text x="779" y="1348.3">Mortierella</text>
<text x="949" y="1343.3">Amanita</text>
<text x="902" y="1373.3">Malassezia</text>
<text x="746" y="1390.3">Sterigmatomyces</text>
<text x="831" y="1390.3">Peniophora</text>
<text x="964" y="1400.3">Basidiomycota</text>
<text x="790" y="1419.3">Agaricomycetes</text>
<text x="878" y="1421.3">Talaromyces</text>
<text x="734" y="1445.3">Plectosphaerella</text>
<text x="926" y="1445.3">Cryptococcus</text>
<text x="838" y="1460.3">Mortierella</text>
<text x="786" y="1476.3">Pseudopestalotiopsis</text>
<text x="999" y="1219.3">Aspergillus</text>
<text x="1057" y="1230.3">Tolypocladium</text>
<text x="1111" y="1247.3">Pseudaleuria</text>
<text x="1000" y="1272.3">unclassified</text>
<text x="1156" y="1278.3">Solicoccozyma</text>
<text x="1054" y="1288.3">Filobasidium</text>
<text x="1102" y="1311.3">Plectosphaerella</text>
<text x="1202" y="1313.3">unclassified</text>
<text x="999" y="1329.3">Alternaria</text>
<text x="1159" y="1347.3">Candida</text>
<text x="1050" y="1353.3">Clavaria</text>
<text x="1107" y="1365.3">Issatchenkia</text>
<text x="1234" y="1366.3">Aspergillus</text>
<text x="1023" y="1392.3">unclassified</text>
<text x="1194" y="1400.3">Lecanicillium</text>
<text x="1135" y="1407.3">unclassified</text>
<text x="1253" y="1416.3">Acremonium</text>
<text x="1080" y="1425.3">unclassified</text>
<text x="986" y="1454.3">Malassezia</text>
<text x="1038" y="1462.3">Gemmibasidium</text>
<text x="1133" y="1462.3">Mortierella</text>
<text x="1190" y="1454.3">Issatchenkia</text>
<text x="1255" y="1465.3">Cladosporium</text>
<text x="728" y="1502.3">unclassified</text>
<text x="889" y="1501.3">Didymellaceae</text>
<text x="946" y="1494.3">Penicillium</text>
<text x="837" y="1518.3">unclassified</text>
<text x="781" y="1536.3">Didymellaceae</text>
<text x="917" y="1554.3">Thelephoraceae</text>
<text x="737" y="1568.3">Aspergillus</text>
<text x="864" y="1565.3">Mortierella</text>
<text x="811" y="1580.3">Mortierella</text>
<text x="762" y="1617.3">unclassified</text>
<text x="939" y="1609.3">Gibberella</text>
<text x="890" y="1620.3">Archaeorhizomyces</text>
<text x="827" y="1635.3">Septoria</text>
<text x="960" y="1658.3">Archaeorhizomyces</text>
<text x="793" y="1672.3">unclassified</text>
<text x="882" y="1668.3">Archaeorhizomyces</text>
<text x="924" y="1696.3">Pseudaleuria</text>
<text x="840" y="1707.3">unclassified</text>
<text x="983" y="1716.3">Nigrospora</text>
<text x="895" y="1738.3">Rhizomucor</text>
<text x="955" y="1758.3">Mortierella</text>
<text x="1077" y="1490.3">Nectriaceae</text>
<text x="1016" y="1514.3">Aspergillus</text>
<text x="1146" y="1511.3">Aspergillus</text>
<text x="1207" y="1504.3">Issatchenkia</text>
<text x="1256" y="1519.3">Diaporthe</text>
<text x="974" y="1542.3">Trichothecium</text>
<text x="1090" y="1538.3">unclassified</text>
<text x="1048" y="1566.3">Acremonium</text>
<text x="1149" y="1564.3">Fusarium</text>
<text x="1198" y="1557.3">Humicola</text>
<text x="1252" y="1578.3">Cladosporium</text>
<text x="994" y="1589.3">Fusarium</text>
<text x="1111" y="1603.3">Fusarium</text>
<text x="1059" y="1623.3">Wallemia</text>
<text x="1171" y="1618.3">Acremonium</text>
<text x="1230" y="1632.3">Cutaneotrichosporon</text>
<text x="1009" y="1648.3">Knufia</text>
<text x="1126" y="1657.3">unclassified</text>
<text x="1073" y="1672.3">Fusarium</text>
<text x="1187" y="1677.3">Aspergillus</text>
<text x="1036" y="1706.3">Sarocladium</text>
<text x="1140" y="1717.3">Symmetrospora</text>
<text x="1086" y="1739.3">Ilyonectria</text>
<text x="1025" y="1758.3">unclassified</text>
</g>
<circle cx="102" cy="1801" r="15" fill="#6de32c"/>
<text x="121" y="1809.6" font-family="Liberation Sans, sans-serif" font-size="24" fill="#111">Module 1</text>
<circle cx="271" cy="1801" r="15" fill="#c684f7"/>
<text x="290" y="1809.6" font-family="Liberation Sans, sans-serif" font-size="24" fill="#111">Module 2</text>
<circle cx="440" cy="1801" r="15" fill="#f35b88"/>
<text x="458" y="1809.6" font-family="Liberation Sans, sans-serif" font-size="24" fill="#111">Module 3</text>
<circle cx="608" cy="1801" r="15" fill="#4a9a78"/>
<text x="627" y="1809.6" font-family="Liberation Sans, sans-serif" font-size="24" fill="#111">Module 4</text>
<circle cx="777" cy="1801" r="15" fill="#e8782a"/>
<text x="795" y="1809.6" font-family="Liberation Sans, sans-serif" font-size="24" fill="#111">Module 5</text>
<circle cx="945" cy="1801" r="15" fill="#1a0ef7"/>
<text x="963.5" y="1809.6" font-family="Liberation Sans, sans-serif" font-size="24" fill="#111">Module 6</text>
<circle cx="1113.5" cy="1801" r="15" fill="#808080"/>
<text x="1130" y="1809.6" font-family="Liberation Sans, sans-serif" font-size="24" fill="#111">Others</text>
<rect x="43.5" y="1831" width="267.0" height="42.5" fill="#c0c0c0"/>
<text x="172.5" y="1859.5" font-family="Liberation Sans, sans-serif" font-weight="bold" font-size="26.4" text-anchor="middle" fill="#111">Modularity</text>
<rect x="54.7" y="1946" width="22.6" height="225" fill="#6592c0"/>
<rect x="99.2" y="1964" width="22.6" height="207" fill="#a3bcda"/>
<rect x="143.7" y="2046" width="22.6" height="125" fill="#d0d9ec"/>
<rect x="187.7" y="2025" width="22.6" height="146" fill="#f3d8db"/>
<rect x="232.2" y="1972" width="22.6" height="199" fill="#e89ea2"/>
<rect x="276.2" y="1896.5" width="22.6" height="274.5" fill="#e06771"/>
<rect x="43.5" y="1873.5" width="267.0" height="297.5" fill="none" stroke="#111" stroke-width="2"/>
<line x1="38.5" y1="2171.0" x2="43.5" y2="2171.0" stroke="#111" stroke-width="2"/>
<text x="37.0" y="2179.0" font-family="Liberation Sans, sans-serif" font-size="22" text-anchor="end" fill="#111">0.0</text>
<line x1="38.5" y1="2096.625" x2="43.5" y2="2096.625" stroke="#111" stroke-width="2"/>
<text x="37.0" y="2104.625" font-family="Liberation Sans, sans-serif" font-size="22" text-anchor="end" fill="#111">0.2</text>
<line x1="38.5" y1="2022.25" x2="43.5" y2="2022.25" stroke="#111" stroke-width="2"/>
<text x="37.0" y="2030.25" font-family="Liberation Sans, sans-serif" font-size="22" text-anchor="end" fill="#111">0.4</text>
<line x1="38.5" y1="1947.875" x2="43.5" y2="1947.875" stroke="#111" stroke-width="2"/>
<text x="37.0" y="1955.875" font-family="Liberation Sans, sans-serif" font-size="22" text-anchor="end" fill="#111">0.6</text>
<line x1="38.5" y1="1873.5" x2="43.5" y2="1873.5" stroke="#111" stroke-width="2"/>
<text x="37.0" y="1881.5" font-family="Liberation Sans, sans-serif" font-size="22" text-anchor="end" fill="#111">0.8</text>
<line x1="66" y1="2171" x2="66" y2="2176" stroke="#111" stroke-width="2"/>
<text x="66" y="2197" font-family="Liberation Sans, sans-serif" font-size="22" text-anchor="middle" fill="#111">a</text>
<line x1="110.5" y1="2171" x2="110.5" y2="2176" stroke="#111" stroke-width="2"/>
<text x="110.5" y="2197" font-family="Liberation Sans, sans-serif" font-size="22" text-anchor="middle" fill="#111">b</text>
<line x1="155" y1="2171" x2="155" y2="2176" stroke="#111" stroke-width="2"/>
<text x="155" y="2197" font-family="Liberation Sans, sans-serif" font-size="22" text-anchor="middle" fill="#111">c</text>
<line x1="199" y1="2171" x2="199" y2="2176" stroke="#111" stroke-width="2"/>
<text x="199" y="2197" font-family="Liberation Sans, sans-serif" font-size="22" text-anchor="middle" fill="#111">d</text>
<line x1="243.5" y1="2171" x2="243.5" y2="2176" stroke="#111" stroke-width="2"/>
<text x="243.5" y="2197" font-family="Liberation Sans, sans-serif" font-size="22" text-anchor="middle" fill="#111">e</text>
<line x1="287.5" y1="2171" x2="287.5" y2="2176" stroke="#111" stroke-width="2"/>
<text x="287.5" y="2197" font-family="Liberation Sans, sans-serif" font-size="22" text-anchor="middle" fill="#111">f</text>
<rect x="365" y="1831" width="267.5" height="42.5" fill="#c0c0c0"/>
<text x="498.75" y="1859.5" font-family="Liberation Sans, sans-serif" font-weight="bold" font-size="26.4" text-anchor="middle" fill="#111">Clustering coefficient</text>
<rect x="376.7" y="1979.5" width="22.6" height="191.5" fill="#6592c0"/>
<rect x="420.7" y="2054" width="22.6" height="117" fill="#a3bcda"/>
<rect x="465.2" y="1980" width="22.6" height="191" fill="#d0d9ec"/>
<rect x="509.7" y="1928.5" width="22.6" height="242.5" fill="#f3d8db"/>
<rect x="553.7" y="2089" width="22.6" height="82" fill="#e89ea2"/>
<rect x="597.7" y="2077" width="22.6" height="94" fill="#e06771"/>
<rect x="365" y="1873.5" width="267.5" height="297.5" fill="none" stroke="#111" stroke-width="2"/>
<line x1="360" y1="2171.0" x2="365" y2="2171.0" stroke="#111" stroke-width="2"/>
<text x="358.5" y="2179.0" font-family="Liberation Sans, sans-serif" font-size="22" text-anchor="end" fill="#111">0.0</text>
<line x1="360" y1="2111.5" x2="365" y2="2111.5" stroke="#111" stroke-width="2"/>
<text x="358.5" y="2119.5" font-family="Liberation Sans, sans-serif" font-size="22" text-anchor="end" fill="#111">0.2</text>
<line x1="360" y1="2052.0" x2="365" y2="2052.0" stroke="#111" stroke-width="2"/>
<text x="358.5" y="2060.0" font-family="Liberation Sans, sans-serif" font-size="22" text-anchor="end" fill="#111">0.4</text>
<line x1="360" y1="1992.5" x2="365" y2="1992.5" stroke="#111" stroke-width="2"/>
<text x="358.5" y="2000.5" font-family="Liberation Sans, sans-serif" font-size="22" text-anchor="end" fill="#111">0.6</text>
<line x1="360" y1="1933.0" x2="365" y2="1933.0" stroke="#111" stroke-width="2"/>
<text x="358.5" y="1941.0" font-family="Liberation Sans, sans-serif" font-size="22" text-anchor="end" fill="#111">0.8</text>
<line x1="360" y1="1873.5" x2="365" y2="1873.5" stroke="#111" stroke-width="2"/>
<text x="358.5" y="1881.5" font-family="Liberation Sans, sans-serif" font-size="22" text-anchor="end" fill="#111">1.0</text>
<line x1="388" y1="2171" x2="388" y2="2176" stroke="#111" stroke-width="2"/>
<text x="388" y="2197" font-family="Liberation Sans, sans-serif" font-size="22" text-anchor="middle" fill="#111">a</text>
<line x1="432" y1="2171" x2="432" y2="2176" stroke="#111" stroke-width="2"/>
<text x="432" y="2197" font-family="Liberation Sans, sans-serif" font-size="22" text-anchor="middle" fill="#111">b</text>
<line x1="476.5" y1="2171" x2="476.5" y2="2176" stroke="#111" stroke-width="2"/>
<text x="476.5" y="2197" font-family="Liberation Sans, sans-serif" font-size="22" text-anchor="middle" fill="#111">c</text>
<line x1="521" y1="2171" x2="521" y2="2176" stroke="#111" stroke-width="2"/>
<text x="521" y="2197" font-family="Liberation Sans, sans-serif" font-size="22" text-anchor="middle" fill="#111">d</text>
<line x1="565" y1="2171" x2="565" y2="2176" stroke="#111" stroke-width="2"/>
<text x="565" y="2197" font-family="Liberation Sans, sans-serif" font-size="22" text-anchor="middle" fill="#111">e</text>
<line x1="609" y1="2171" x2="609" y2="2176" stroke="#111" stroke-width="2"/>
<text x="609" y="2197" font-family="Liberation Sans, sans-serif" font-size="22" text-anchor="middle" fill="#111">f</text>
<rect x="680" y="1831" width="267.5" height="42.5" fill="#c0c0c0"/>
<text x="813.75" y="1859.5" font-family="Liberation Sans, sans-serif" font-weight="bold" font-size="26.4" text-anchor="middle" fill="#111">Average path length</text>
<rect x="692.2" y="2036.5" width="22.6" height="134.5" fill="#6592c0"/>
<rect x="736.2" y="2076" width="22.6" height="95" fill="#a3bcda"/>
<rect x="780.7" y="2090" width="22.6" height="81" fill="#d0d9ec"/>
<rect x="824.7" y="2106" width="22.6" height="65" fill="#f3d8db"/>
<rect x="868.7" y="2036.5" width="22.6" height="134.5" fill="#e89ea2"/>
<rect x="913.2" y="2017.5" width="22.6" height="153.5" fill="#e06771"/>
<rect x="680" y="1873.5" width="267.5" height="297.5" fill="none" stroke="#111" stroke-width="2"/>
<line x1="675" y1="2171.0" x2="680" y2="2171.0" stroke="#111" stroke-width="2"/>
<text x="673.5" y="2179.0" font-family="Liberation Sans, sans-serif" font-size="22" text-anchor="end" fill="#111">0</text>
<line x1="675" y1="2111.5" x2="680" y2="2111.5" stroke="#111" stroke-width="2"/>
<text x="673.5" y="2119.5" font-family="Liberation Sans, sans-serif" font-size="22" text-anchor="end" fill="#111">2</text>
<line x1="675" y1="2052.0" x2="680" y2="2052.0" stroke="#111" stroke-width="2"/>
<text x="673.5" y="2060.0" font-family="Liberation Sans, sans-serif" font-size="22" text-anchor="end" fill="#111">4</text>
<line x1="675" y1="1992.5" x2="680" y2="1992.5" stroke="#111" stroke-width="2"/>
<text x="673.5" y="2000.5" font-family="Liberation Sans, sans-serif" font-size="22" text-anchor="end" fill="#111">6</text>
<line x1="675" y1="1933.0" x2="680" y2="1933.0" stroke="#111" stroke-width="2"/>
<text x="673.5" y="1941.0" font-family="Liberation Sans, sans-serif" font-size="22" text-anchor="end" fill="#111">8</text>
<line x1="675" y1="1873.5" x2="680" y2="1873.5" stroke="#111" stroke-width="2"/>
<text x="673.5" y="1881.5" font-family="Liberation Sans, sans-serif" font-size="22" text-anchor="end" fill="#111">10</text>
<line x1="703.5" y1="2171" x2="703.5" y2="2176" stroke="#111" stroke-width="2"/>
<text x="703.5" y="2197" font-family="Liberation Sans, sans-serif" font-size="22" text-anchor="middle" fill="#111">a</text>
<line x1="747.5" y1="2171" x2="747.5" y2="2176" stroke="#111" stroke-width="2"/>
<text x="747.5" y="2197" font-family="Liberation Sans, sans-serif" font-size="22" text-anchor="middle" fill="#111">b</text>
<line x1="792" y1="2171" x2="792" y2="2176" stroke="#111" stroke-width="2"/>
<text x="792" y="2197" font-family="Liberation Sans, sans-serif" font-size="22" text-anchor="middle" fill="#111">c</text>
<line x1="836" y1="2171" x2="836" y2="2176" stroke="#111" stroke-width="2"/>
<text x="836" y="2197" font-family="Liberation Sans, sans-serif" font-size="22" text-anchor="middle" fill="#111">d</text>
<line x1="880" y1="2171" x2="880" y2="2176" stroke="#111" stroke-width="2"/>
<text x="880" y="2197" font-family="Liberation Sans, sans-serif" font-size="22" text-anchor="middle" fill="#111">e</text>
<line x1="924.5" y1="2171" x2="924.5" y2="2176" stroke="#111" stroke-width="2"/>
<text x="924.5" y="2197" font-family="Liberation Sans, sans-serif" font-size="22" text-anchor="middle" fill="#111">f</text>
<rect x="996" y="1831" width="267.5" height="42.5" fill="#c0c0c0"/>
<text x="1129.75" y="1859.5" font-family="Liberation Sans, sans-serif" font-weight="bold" font-size="26.4" text-anchor="middle" fill="#111">Average degree</text>
<rect x="1007.7" y="2086" width="22.6" height="85" fill="#6592c0"/>
<rect x="1051.7" y="2123.5" width="22.6" height="47.5" fill="#a3bcda"/>
<rect x="1096.7" y="1928" width="22.6" height="243" fill="#d0d9ec"/>
<rect x="1140.7" y="2032.5" width="22.6" height="138.5" fill="#f3d8db"/>
<rect x="1184.7" y="2115.5" width="22.6" height="55.5" fill="#e89ea2"/>
<rect x="1228.7" y="2132.5" width="22.6" height="38.5" fill="#e06771"/>
<rect x="996" y="1873.5" width="267.5" height="297.5" fill="none" stroke="#111" stroke-width="2"/>
<line x1="991" y1="2171.0" x2="996" y2="2171.0" stroke="#111" stroke-width="2"/>
<text x="989.5" y="2179.0" font-family="Liberation Sans, sans-serif" font-size="22" text-anchor="end" fill="#111">0</text>
<line x1="991" y1="2111.5" x2="996" y2="2111.5" stroke="#111" stroke-width="2"/>
<text x="989.5" y="2119.5" font-family="Liberation Sans, sans-serif" font-size="22" text-anchor="end" fill="#111">4</text>
<line x1="991" y1="2052.0" x2="996" y2="2052.0" stroke="#111" stroke-width="2"/>
<text x="989.5" y="2060.0" font-family="Liberation Sans, sans-serif" font-size="22" text-anchor="end" fill="#111">8</text>
<line x1="991" y1="1992.5" x2="996" y2="1992.5" stroke="#111" stroke-width="2"/>
<text x="989.5" y="2000.5" font-family="Liberation Sans, sans-serif" font-size="22" text-anchor="end" fill="#111">12</text>
<line x1="991" y1="1933.0" x2="996" y2="1933.0" stroke="#111" stroke-width="2"/>
<text x="989.5" y="1941.0" font-family="Liberation Sans, sans-serif" font-size="22" text-anchor="end" fill="#111">16</text>
<line x1="991" y1="1873.5" x2="996" y2="1873.5" stroke="#111" stroke-width="2"/>
<text x="989.5" y="1881.5" font-family="Liberation Sans, sans-serif" font-size="22" text-anchor="end" fill="#111">20</text>
<line x1="1019" y1="2171" x2="1019" y2="2176" stroke="#111" stroke-width="2"/>
<text x="1019" y="2197" font-family="Liberation Sans, sans-serif" font-size="22" text-anchor="middle" fill="#111">a</text>
<line x1="1063" y1="2171" x2="1063" y2="2176" stroke="#111" stroke-width="2"/>
<text x="1063" y="2197" font-family="Liberation Sans, sans-serif" font-size="22" text-anchor="middle" fill="#111">b</text>
<line x1="1108" y1="2171" x2="1108" y2="2176" stroke="#111" stroke-width="2"/>
<text x="1108" y="2197" font-family="Liberation Sans, sans-serif" font-size="22" text-anchor="middle" fill="#111">c</text>
<line x1="1152" y1="2171" x2="1152" y2="2176" stroke="#111" stroke-width="2"/>
<text x="1152" y="2197" font-family="Liberation Sans, sans-serif" font-size="22" text-anchor="middle" fill="#111">d</text>
<line x1="1196" y1="2171" x2="1196" y2="2176" stroke="#111" stroke-width="2"/>
<text x="1196" y="2197" font-family="Liberation Sans, sans-serif" font-size="22" text-anchor="middle" fill="#111">e</text>
<line x1="1240" y1="2171" x2="1240" y2="2176" stroke="#111" stroke-width="2"/>
<text x="1240" y="2197" font-family="Liberation Sans, sans-serif" font-size="22" text-anchor="middle" fill="#111">f</text>
<text x="172" y="2247" font-family="Liberation Sans, sans-serif" font-weight="bold" font-size="26.4" text-anchor="middle" fill="#e5332a">betaNTI</text>
<text x="500" y="2247" font-family="Liberation Sans, sans-serif" font-weight="bold" font-size="26.4" text-anchor="middle" fill="#3b6bb3">RCbray</text>
<rect x="58.5" y="2375.5" width="85" height="36" fill="#e5332a"/>
<path d="M101 2333.5V2375.5M101 2411.5V2432.5M80 2333.5H121.5M80 2432.5H121.5" stroke="#e5332a" stroke-width="1.6" fill="none"/>
<path d="M104.1 2368.4l3.2 3.2l-3.2 3.2l-3.2 -3.2z" fill="#e5332a"/>
<path d="M99.1 2368.9l3.2 3.2l-3.2 3.2l-3.2 -3.2z" fill="#e5332a"/>
<path d="M99.7 2356.4l3.2 3.2l-3.2 3.2l-3.2 -3.2z" fill="#e5332a"/>
<path d="M103.5 2353.2l3.2 3.2l-3.2 3.2l-3.2 -3.2z" fill="#e5332a"/>
<path d="M102.5 2354.5l3.2 3.2l-3.2 3.2l-3.2 -3.2z" fill="#e5332a"/>
<path d="M102.1 2365.9l3.2 3.2l-3.2 3.2l-3.2 -3.2z" fill="#e5332a"/>
<path d="M106.1 2343.3l3.2 3.2l-3.2 3.2l-3.2 -3.2z" fill="#e5332a"/>
<path d="M104 2363.9l3.2 3.2l-3.2 3.2l-3.2 -3.2z" fill="#e5332a"/>
<path d="M90.5 2342.9l3.2 3.2l-3.2 3.2l-3.2 -3.2z" fill="#e5332a"/>
<path d="M98.2 2357.1l3.2 3.2l-3.2 3.2l-3.2 -3.2z" fill="#e5332a"/>
<path d="M100.7 2367.5l3.2 3.2l-3.2 3.2l-3.2 -3.2z" fill="#e5332a"/>
<path d="M97.1 2363.7l3.2 3.2l-3.2 3.2l-3.2 -3.2z" fill="#e5332a"/>
<path d="M103.4 2367.4l3.2 3.2l-3.2 3.2l-3.2 -3.2z" fill="#e5332a"/>
<path d="M111.3 2361.2l3.2 3.2l-3.2 3.2l-3.2 -3.2z" fill="#e5332a"/>
<path d="M108.2 2363l3.2 3.2l-3.2 3.2l-3.2 -3.2z" fill="#e5332a"/>
<path d="M96.6 2361.9l3.2 3.2l-3.2 3.2l-3.2 -3.2z" fill="#e5332a"/>
<path d="M100.3 2413l3.2 3.2l-3.2 3.2l-3.2 -3.2z" fill="#e5332a"/>
<path d="M102.7 2416l3.2 3.2l-3.2 3.2l-3.2 -3.2z" fill="#e5332a"/>
<path d="M94.3 2414.1l3.2 3.2l-3.2 3.2l-3.2 -3.2z" fill="#e5332a"/>
<path d="M109.5 2414.8l3.2 3.2l-3.2 3.2l-3.2 -3.2z" fill="#e5332a"/>
<path d="M102.7 2417.9l3.2 3.2l-3.2 3.2l-3.2 -3.2z" fill="#e5332a"/>
<path d="M90.6 2413.8l3.2 3.2l-3.2 3.2l-3.2 -3.2z" fill="#e5332a"/>
<path d="M110.1 2409.8l3.2 3.2l-3.2 3.2l-3.2 -3.2z" fill="#e5332a"/>
<path d="M98.7 2428.8l3.2 3.2l-3.2 3.2l-3.2 -3.2z" fill="#e5332a"/>
<path d="M95.3 2410.4l3.2 3.2l-3.2 3.2l-3.2 -3.2z" fill="#e5332a"/>
<path d="M100.6 2414.6l3.2 3.2l-3.2 3.2l-3.2 -3.2z" fill="#e5332a"/>
<path d="M106.8 2424.9l3.2 3.2l-3.2 3.2l-3.2 -3.2z" fill="#e5332a"/>
<path d="M107.6 2416.4l3.2 3.2l-3.2 3.2l-3.2 -3.2z" fill="#e5332a"/>
<path d="M103.5 2424.6l3.2 3.2l-3.2 3.2l-3.2 -3.2z" fill="#e5332a"/>
<path d="M91.9 2410.6l3.2 3.2l-3.2 3.2l-3.2 -3.2z" fill="#e5332a"/>
<path d="M96.7 2415.9l3.2 3.2l-3.2 3.2l-3.2 -3.2z" fill="#e5332a"/>
<path d="M92.1 2414.1l3.2 3.2l-3.2 3.2l-3.2 -3.2z" fill="#e5332a"/>
<path d="M97.3 2419.6l3.2 3.2l-3.2 3.2l-3.2 -3.2z" fill="#e5332a"/>
<path d="M86.8 2423l3.2 3.2l-3.2 3.2l-3.2 -3.2z" fill="#e5332a"/>
<path d="M102.7 2424.8l3.2 3.2l-3.2 3.2l-3.2 -3.2z" fill="#e5332a"/>
<path d="M105 2424.7l3.2 3.2l-3.2 3.2l-3.2 -3.2z" fill="#e5332a"/>
<path d="M115.8 2385.7l3.2 3.2l-3.2 3.2l-3.2 -3.2z" fill="#e5332a"/>
<path d="M100.4 2397.9l3.2 3.2l-3.2 3.2l-3.2 -3.2z" fill="#e5332a"/>
<path d="M100.2 2394.5l3.2 3.2l-3.2 3.2l-3.2 -3.2z" fill="#e5332a"/>
<path d="M99.5 2392l3.2 3.2l-3.2 3.2l-3.2 -3.2z" fill="#e5332a"/>
<path d="M103.1 2401.9l3.2 3.2l-3.2 3.2l-3.2 -3.2z" fill="#e5332a"/>
<path d="M102.9 2381.6l3.2 3.2l-3.2 3.2l-3.2 -3.2z" fill="#e5332a"/>
<path d="M101.1 2403.2l3.2 3.2l-3.2 3.2l-3.2 -3.2z" fill="#e5332a"/>
<path d="M109 2378.1l3.2 3.2l-3.2 3.2l-3.2 -3.2z" fill="#e5332a"/>
<path d="M91.4 2404.8l3.2 3.2l-3.2 3.2l-3.2 -3.2z" fill="#e5332a"/>
<path d="M104.2 2377.7l3.2 3.2l-3.2 3.2l-3.2 -3.2z" fill="#e5332a"/>
<path d="M105.2 2379.9l3.2 3.2l-3.2 3.2l-3.2 -3.2z" fill="#e5332a"/>
<path d="M96.1 2393.5l3.2 3.2l-3.2 3.2l-3.2 -3.2z" fill="#e5332a"/>
<path d="M116 2395.4l3.2 3.2l-3.2 3.2l-3.2 -3.2z" fill="#e5332a"/>
<path d="M87.6 2402.4l3.2 3.2l-3.2 3.2l-3.2 -3.2z" fill="#e5332a"/>
<path d="M101.7 2401.6l3.2 3.2l-3.2 3.2l-3.2 -3.2z" fill="#e5332a"/>
<path d="M106.8 2391.2l3.2 3.2l-3.2 3.2l-3.2 -3.2z" fill="#e5332a"/>
<path d="M100.9 2387.7l3.2 3.2l-3.2 3.2l-3.2 -3.2z" fill="#e5332a"/>
<path d="M101.7 2393.4l3.2 3.2l-3.2 3.2l-3.2 -3.2z" fill="#e5332a"/>
<path d="M82.9 2395.1l3.2 3.2l-3.2 3.2l-3.2 -3.2z" fill="#e5332a"/>
<path d="M93 2384.2l3.2 3.2l-3.2 3.2l-3.2 -3.2z" fill="#e5332a"/>
<path d="M92.1 2390.1l3.2 3.2l-3.2 3.2l-3.2 -3.2z" fill="#e5332a"/>
<path d="M92.9 2405.7l3.2 3.2l-3.2 3.2l-3.2 -3.2z" fill="#e5332a"/>
<path d="M104.1 2377.2l3.2 3.2l-3.2 3.2l-3.2 -3.2z" fill="#e5332a"/>
<path d="M85 2380.6l3.2 3.2l-3.2 3.2l-3.2 -3.2z" fill="#e5332a"/>
<path d="M98 2394.3l3.2 3.2l-3.2 3.2l-3.2 -3.2z" fill="#e5332a"/>
<path d="M103.2 2386.1l3.2 3.2l-3.2 3.2l-3.2 -3.2z" fill="#e5332a"/>
<path d="M106 2405.4l3.2 3.2l-3.2 3.2l-3.2 -3.2z" fill="#e5332a"/>
<path d="M103.2 2402.1l3.2 3.2l-3.2 3.2l-3.2 -3.2z" fill="#e5332a"/>
<path d="M101.2 2396.1l3.2 3.2l-3.2 3.2l-3.2 -3.2z" fill="#e5332a"/>
<path d="M101.1 2402.4l3.2 3.2l-3.2 3.2l-3.2 -3.2z" fill="#e5332a"/>
<path d="M101 2331.2l3.2 3.2l-3.2 3.2l-3.2 -3.2z" fill="#e5332a"/>
<path d="M95 2343.6l3.2 3.2l-3.2 3.2l-3.2 -3.2z" fill="#e5332a"/>
<path d="M103 2345.4l3.2 3.2l-3.2 3.2l-3.2 -3.2z" fill="#e5332a"/>
<path d="M95 2351.6l3.2 3.2l-3.2 3.2l-3.2 -3.2z" fill="#e5332a"/>
<path d="M86 2360.5l3.2 3.2l-3.2 3.2l-3.2 -3.2z" fill="#e5332a"/>
<path d="M108 2357.8l3.2 3.2l-3.2 3.2l-3.2 -3.2z" fill="#e5332a"/>
<path d="M105 2428.8l3.2 3.2l-3.2 3.2l-3.2 -3.2z" fill="#e5332a"/>
<path d="M111 2427.1l3.2 3.2l-3.2 3.2l-3.2 -3.2z" fill="#e5332a"/>
<rect x="190.5" y="2385" width="85" height="34" fill="#3b6bb3"/>
<path d="M232.5 2337.5V2385M232.5 2419V2448M212.5 2337.5H254M212.5 2448H254" stroke="#3b6bb3" stroke-width="1.6" fill="none"/>
<path d="M239.1 2368.2l3.2 3.2l-3.2 3.2l-3.2 -3.2z" fill="#3b6bb3"/>
<path d="M244.2 2346.1l3.2 3.2l-3.2 3.2l-3.2 -3.2z" fill="#3b6bb3"/>
<path d="M232.8 2374.2l3.2 3.2l-3.2 3.2l-3.2 -3.2z" fill="#3b6bb3"/>
<path d="M237.2 2381.6l3.2 3.2l-3.2 3.2l-3.2 -3.2z" fill="#3b6bb3"/>
<path d="M236.1 2375.8l3.2 3.2l-3.2 3.2l-3.2 -3.2z" fill="#3b6bb3"/>
<path d="M228.9 2349.2l3.2 3.2l-3.2 3.2l-3.2 -3.2z" fill="#3b6bb3"/>
<path d="M239.3 2361.8l3.2 3.2l-3.2 3.2l-3.2 -3.2z" fill="#3b6bb3"/>
<path d="M235.7 2374.7l3.2 3.2l-3.2 3.2l-3.2 -3.2z" fill="#3b6bb3"/>
<path d="M237.9 2374.1l3.2 3.2l-3.2 3.2l-3.2 -3.2z" fill="#3b6bb3"/>
<path d="M231.3 2376.8l3.2 3.2l-3.2 3.2l-3.2 -3.2z" fill="#3b6bb3"/>
<path d="M244.5 2345.4l3.2 3.2l-3.2 3.2l-3.2 -3.2z" fill="#3b6bb3"/>
<path d="M234.8 2371.9l3.2 3.2l-3.2 3.2l-3.2 -3.2z" fill="#3b6bb3"/>
<path d="M233.3 2377.8l3.2 3.2l-3.2 3.2l-3.2 -3.2z" fill="#3b6bb3"/>
<path d="M240.3 2345.4l3.2 3.2l-3.2 3.2l-3.2 -3.2z" fill="#3b6bb3"/>
<path d="M231.7 2363.9l3.2 3.2l-3.2 3.2l-3.2 -3.2z" fill="#3b6bb3"/>
<path d="M237.6 2380.6l3.2 3.2l-3.2 3.2l-3.2 -3.2z" fill="#3b6bb3"/>
<path d="M244.2 2366.6l3.2 3.2l-3.2 3.2l-3.2 -3.2z" fill="#3b6bb3"/>
<path d="M239.2 2351.6l3.2 3.2l-3.2 3.2l-3.2 -3.2z" fill="#3b6bb3"/>
<path d="M237.3 2375.7l3.2 3.2l-3.2 3.2l-3.2 -3.2z" fill="#3b6bb3"/>
<path d="M224.5 2362.4l3.2 3.2l-3.2 3.2l-3.2 -3.2z" fill="#3b6bb3"/>
<path d="M230.7 2362.5l3.2 3.2l-3.2 3.2l-3.2 -3.2z" fill="#3b6bb3"/>
<path d="M228.5 2369.7l3.2 3.2l-3.2 3.2l-3.2 -3.2z" fill="#3b6bb3"/>
<path d="M239.4 2378.7l3.2 3.2l-3.2 3.2l-3.2 -3.2z" fill="#3b6bb3"/>
<path d="M234.2 2379.1l3.2 3.2l-3.2 3.2l-3.2 -3.2z" fill="#3b6bb3"/>
<path d="M237.2 2367.6l3.2 3.2l-3.2 3.2l-3.2 -3.2z" fill="#3b6bb3"/>
<path d="M240.6 2380.2l3.2 3.2l-3.2 3.2l-3.2 -3.2z" fill="#3b6bb3"/>
<path d="M236.3 2363.2l3.2 3.2l-3.2 3.2l-3.2 -3.2z" fill="#3b6bb3"/>
<path d="M237 2345.4l3.2 3.2l-3.2 3.2l-3.2 -3.2z" fill="#3b6bb3"/>
<path d="M235.7 2365.6l3.2 3.2l-3.2 3.2l-3.2 -3.2z" fill="#3b6bb3"/>
<path d="M236.7 2379.4l3.2 3.2l-3.2 3.2l-3.2 -3.2z" fill="#3b6bb3"/>
<path d="M236.8 2377.8l3.2 3.2l-3.2 3.2l-3.2 -3.2z" fill="#3b6bb3"/>
<path d="M232.6 2354.7l3.2 3.2l-3.2 3.2l-3.2 -3.2z" fill="#3b6bb3"/>
<path d="M230.8 2370.9l3.2 3.2l-3.2 3.2l-3.2 -3.2z" fill="#3b6bb3"/>
<path d="M230.3 2363.6l3.2 3.2l-3.2 3.2l-3.2 -3.2z" fill="#3b6bb3"/>
<path d="M242.6 2359.3l3.2 3.2l-3.2 3.2l-3.2 -3.2z" fill="#3b6bb3"/>
<path d="M235.2 2355.6l3.2 3.2l-3.2 3.2l-3.2 -3.2z" fill="#3b6bb3"/>
<path d="M226.8 2381.8l3.2 3.2l-3.2 3.2l-3.2 -3.2z" fill="#3b6bb3"/>
<path d="M244.3 2368.2l3.2 3.2l-3.2 3.2l-3.2 -3.2z" fill="#3b6bb3"/>
<path d="M244.8 2366l3.2 3.2l-3.2 3.2l-3.2 -3.2z" fill="#3b6bb3"/>
<path d="M236.6 2364.2l3.2 3.2l-3.2 3.2l-3.2 -3.2z" fill="#3b6bb3"/>
<path d="M249.4 2346.8l3.2 3.2l-3.2 3.2l-3.2 -3.2z" fill="#3b6bb3"/>
<path d="M230 2380.1l3.2 3.2l-3.2 3.2l-3.2 -3.2z" fill="#3b6bb3"/>
<path d="M236.5 2374.7l3.2 3.2l-3.2 3.2l-3.2 -3.2z" fill="#3b6bb3"/>
<path d="M234.9 2355.2l3.2 3.2l-3.2 3.2l-3.2 -3.2z" fill="#3b6bb3"/>
<path d="M245.6 2361.6l3.2 3.2l-3.2 3.2l-3.2 -3.2z" fill="#3b6bb3"/>
<path d="M231.6 2431.9l3.2 3.2l-3.2 3.2l-3.2 -3.2z" fill="#3b6bb3"/>
<path d="M237.6 2424.3l3.2 3.2l-3.2 3.2l-3.2 -3.2z" fill="#3b6bb3"/>
<path d="M233.1 2417.6l3.2 3.2l-3.2 3.2l-3.2 -3.2z" fill="#3b6bb3"/>
<path d="M231.2 2431.6l3.2 3.2l-3.2 3.2l-3.2 -3.2z" fill="#3b6bb3"/>
<path d="M230.6 2440.9l3.2 3.2l-3.2 3.2l-3.2 -3.2z" fill="#3b6bb3"/>
<path d="M236.6 2436.1l3.2 3.2l-3.2 3.2l-3.2 -3.2z" fill="#3b6bb3"/>
<path d="M229.4 2419.8l3.2 3.2l-3.2 3.2l-3.2 -3.2z" fill="#3b6bb3"/>
<path d="M236.7 2416.5l3.2 3.2l-3.2 3.2l-3.2 -3.2z" fill="#3b6bb3"/>
<path d="M239.1 2417.2l3.2 3.2l-3.2 3.2l-3.2 -3.2z" fill="#3b6bb3"/>
<path d="M237.7 2417.1l3.2 3.2l-3.2 3.2l-3.2 -3.2z" fill="#3b6bb3"/>
<path d="M240.5 2432.3l3.2 3.2l-3.2 3.2l-3.2 -3.2z" fill="#3b6bb3"/>
<path d="M236.9 2423.6l3.2 3.2l-3.2 3.2l-3.2 -3.2z" fill="#3b6bb3"/>
<path d="M227.1 2436.4l3.2 3.2l-3.2 3.2l-3.2 -3.2z" fill="#3b6bb3"/>
<path d="M237.8 2437.3l3.2 3.2l-3.2 3.2l-3.2 -3.2z" fill="#3b6bb3"/>
<path d="M232.4 2429.5l3.2 3.2l-3.2 3.2l-3.2 -3.2z" fill="#3b6bb3"/>
<path d="M232.4 2418.4l3.2 3.2l-3.2 3.2l-3.2 -3.2z" fill="#3b6bb3"/>
<path d="M233.7 2422.7l3.2 3.2l-3.2 3.2l-3.2 -3.2z" fill="#3b6bb3"/>
<path d="M232.7 2435.5l3.2 3.2l-3.2 3.2l-3.2 -3.2z" fill="#3b6bb3"/>
<path d="M237.5 2422.1l3.2 3.2l-3.2 3.2l-3.2 -3.2z" fill="#3b6bb3"/>
<path d="M226.2 2418.5l3.2 3.2l-3.2 3.2l-3.2 -3.2z" fill="#3b6bb3"/>
<path d="M237.9 2422.3l3.2 3.2l-3.2 3.2l-3.2 -3.2z" fill="#3b6bb3"/>
<path d="M229.5 2433.9l3.2 3.2l-3.2 3.2l-3.2 -3.2z" fill="#3b6bb3"/>
<path d="M236.5 2427.1l3.2 3.2l-3.2 3.2l-3.2 -3.2z" fill="#3b6bb3"/>
<path d="M236.5 2416.5l3.2 3.2l-3.2 3.2l-3.2 -3.2z" fill="#3b6bb3"/>
<path d="M226.6 2418.2l3.2 3.2l-3.2 3.2l-3.2 -3.2z" fill="#3b6bb3"/>
<path d="M229.3 2433.1l3.2 3.2l-3.2 3.2l-3.2 -3.2z" fill="#3b6bb3"/>
<path d="M229.7 2426.2l3.2 3.2l-3.2 3.2l-3.2 -3.2z" fill="#3b6bb3"/>
<path d="M228.6 2426l3.2 3.2l-3.2 3.2l-3.2 -3.2z" fill="#3b6bb3"/>
<path d="M231.9 2432.7l3.2 3.2l-3.2 3.2l-3.2 -3.2z" fill="#3b6bb3"/>
<path d="M234.3 2429l3.2 3.2l-3.2 3.2l-3.2 -3.2z" fill="#3b6bb3"/>
<path d="M234.1 2441.5l3.2 3.2l-3.2 3.2l-3.2 -3.2z" fill="#3b6bb3"/>
<path d="M222.8 2423.2l3.2 3.2l-3.2 3.2l-3.2 -3.2z" fill="#3b6bb3"/>
<path d="M231.1 2424.1l3.2 3.2l-3.2 3.2l-3.2 -3.2z" fill="#3b6bb3"/>
<path d="M228.1 2440.1l3.2 3.2l-3.2 3.2l-3.2 -3.2z" fill="#3b6bb3"/>
<path d="M230.2 2419.5l3.2 3.2l-3.2 3.2l-3.2 -3.2z" fill="#3b6bb3"/>
<path d="M236.2 2424.7l3.2 3.2l-3.2 3.2l-3.2 -3.2z" fill="#3b6bb3"/>
<path d="M234.1 2423.5l3.2 3.2l-3.2 3.2l-3.2 -3.2z" fill="#3b6bb3"/>
<path d="M235.8 2430.6l3.2 3.2l-3.2 3.2l-3.2 -3.2z" fill="#3b6bb3"/>
<path d="M222.1 2421.2l3.2 3.2l-3.2 3.2l-3.2 -3.2z" fill="#3b6bb3"/>
<path d="M239 2425.9l3.2 3.2l-3.2 3.2l-3.2 -3.2z" fill="#3b6bb3"/>
<path d="M230.2 2419.6l3.2 3.2l-3.2 3.2l-3.2 -3.2z" fill="#3b6bb3"/>
<path d="M223.7 2437.1l3.2 3.2l-3.2 3.2l-3.2 -3.2z" fill="#3b6bb3"/>
<path d="M244.6 2421.4l3.2 3.2l-3.2 3.2l-3.2 -3.2z" fill="#3b6bb3"/>
<path d="M235.9 2426.3l3.2 3.2l-3.2 3.2l-3.2 -3.2z" fill="#3b6bb3"/>
<path d="M231.9 2436.5l3.2 3.2l-3.2 3.2l-3.2 -3.2z" fill="#3b6bb3"/>
<path d="M237 2422.4l3.2 3.2l-3.2 3.2l-3.2 -3.2z" fill="#3b6bb3"/>
<path d="M232.1 2426l3.2 3.2l-3.2 3.2l-3.2 -3.2z" fill="#3b6bb3"/>
<path d="M236.6 2419.5l3.2 3.2l-3.2 3.2l-3.2 -3.2z" fill="#3b6bb3"/>
<path d="M231.5 2416.8l3.2 3.2l-3.2 3.2l-3.2 -3.2z" fill="#3b6bb3"/>
<path d="M230.7 2427.2l3.2 3.2l-3.2 3.2l-3.2 -3.2z" fill="#3b6bb3"/>
<path d="M227 2414l3.2 3.2l-3.2 3.2l-3.2 -3.2z" fill="#3b6bb3"/>
<path d="M242.3 2398.3l3.2 3.2l-3.2 3.2l-3.2 -3.2z" fill="#3b6bb3"/>
<path d="M246.5 2412.6l3.2 3.2l-3.2 3.2l-3.2 -3.2z" fill="#3b6bb3"/>
<path d="M231.2 2383.6l3.2 3.2l-3.2 3.2l-3.2 -3.2z" fill="#3b6bb3"/>
<path d="M232.3 2411.3l3.2 3.2l-3.2 3.2l-3.2 -3.2z" fill="#3b6bb3"/>
<path d="M234.8 2389.7l3.2 3.2l-3.2 3.2l-3.2 -3.2z" fill="#3b6bb3"/>
<path d="M238.3 2406l3.2 3.2l-3.2 3.2l-3.2 -3.2z" fill="#3b6bb3"/>
<path d="M238.6 2385.5l3.2 3.2l-3.2 3.2l-3.2 -3.2z" fill="#3b6bb3"/>
<path d="M232.3 2388.5l3.2 3.2l-3.2 3.2l-3.2 -3.2z" fill="#3b6bb3"/>
<path d="M237 2385.3l3.2 3.2l-3.2 3.2l-3.2 -3.2z" fill="#3b6bb3"/>
<path d="M231.4 2396.4l3.2 3.2l-3.2 3.2l-3.2 -3.2z" fill="#3b6bb3"/>
<path d="M229.2 2412.8l3.2 3.2l-3.2 3.2l-3.2 -3.2z" fill="#3b6bb3"/>
<path d="M229.7 2392.6l3.2 3.2l-3.2 3.2l-3.2 -3.2z" fill="#3b6bb3"/>
<path d="M233.9 2384.6l3.2 3.2l-3.2 3.2l-3.2 -3.2z" fill="#3b6bb3"/>
<path d="M233.6 2394.4l3.2 3.2l-3.2 3.2l-3.2 -3.2z" fill="#3b6bb3"/>
<path d="M229.3 2387.3l3.2 3.2l-3.2 3.2l-3.2 -3.2z" fill="#3b6bb3"/>
<path d="M238.2 2412.5l3.2 3.2l-3.2 3.2l-3.2 -3.2z" fill="#3b6bb3"/>
<path d="M225.8 2403.8l3.2 3.2l-3.2 3.2l-3.2 -3.2z" fill="#3b6bb3"/>
<path d="M238.2 2397l3.2 3.2l-3.2 3.2l-3.2 -3.2z" fill="#3b6bb3"/>
<path d="M229.7 2410.5l3.2 3.2l-3.2 3.2l-3.2 -3.2z" fill="#3b6bb3"/>
<path d="M232.8 2397.8l3.2 3.2l-3.2 3.2l-3.2 -3.2z" fill="#3b6bb3"/>
<path d="M236.3 2409.5l3.2 3.2l-3.2 3.2l-3.2 -3.2z" fill="#3b6bb3"/>
<path d="M234.6 2413l3.2 3.2l-3.2 3.2l-3.2 -3.2z" fill="#3b6bb3"/>
<path d="M239.1 2404.9l3.2 3.2l-3.2 3.2l-3.2 -3.2z" fill="#3b6bb3"/>
<path d="M230.2 2390.4l3.2 3.2l-3.2 3.2l-3.2 -3.2z" fill="#3b6bb3"/>
<path d="M241.6 2408.9l3.2 3.2l-3.2 3.2l-3.2 -3.2z" fill="#3b6bb3"/>
<path d="M238.5 2403.5l3.2 3.2l-3.2 3.2l-3.2 -3.2z" fill="#3b6bb3"/>
<path d="M233.2 2414.1l3.2 3.2l-3.2 3.2l-3.2 -3.2z" fill="#3b6bb3"/>
<path d="M227.6 2391.2l3.2 3.2l-3.2 3.2l-3.2 -3.2z" fill="#3b6bb3"/>
<path d="M230.9 2399.5l3.2 3.2l-3.2 3.2l-3.2 -3.2z" fill="#3b6bb3"/>
<path d="M244.1 2384.8l3.2 3.2l-3.2 3.2l-3.2 -3.2z" fill="#3b6bb3"/>
<path d="M241.7 2400.8l3.2 3.2l-3.2 3.2l-3.2 -3.2z" fill="#3b6bb3"/>
<path d="M236.6 2398.8l3.2 3.2l-3.2 3.2l-3.2 -3.2z" fill="#3b6bb3"/>
<path d="M225.6 2398.4l3.2 3.2l-3.2 3.2l-3.2 -3.2z" fill="#3b6bb3"/>
<path d="M239.8 2392.7l3.2 3.2l-3.2 3.2l-3.2 -3.2z" fill="#3b6bb3"/>
<path d="M231.7 2388l3.2 3.2l-3.2 3.2l-3.2 -3.2z" fill="#3b6bb3"/>
<path d="M227.1 2392l3.2 3.2l-3.2 3.2l-3.2 -3.2z" fill="#3b6bb3"/>
<path d="M226.4 2403.5l3.2 3.2l-3.2 3.2l-3.2 -3.2z" fill="#3b6bb3"/>
<path d="M234.6 2412.9l3.2 3.2l-3.2 3.2l-3.2 -3.2z" fill="#3b6bb3"/>
<path d="M234.7 2391l3.2 3.2l-3.2 3.2l-3.2 -3.2z" fill="#3b6bb3"/>
<path d="M239 2276.2l3.2 3.2l-3.2 3.2l-3.2 -3.2z" fill="#3b6bb3"/>
<path d="M229 2311.7l3.2 3.2l-3.2 3.2l-3.2 -3.2z" fill="#3b6bb3"/>
<path d="M233 2312.6l3.2 3.2l-3.2 3.2l-3.2 -3.2z" fill="#3b6bb3"/>
<path d="M242 2315.2l3.2 3.2l-3.2 3.2l-3.2 -3.2z" fill="#3b6bb3"/>
<path d="M232.5 2334.8l3.2 3.2l-3.2 3.2l-3.2 -3.2z" fill="#3b6bb3"/>
<path d="M220 2341.9l3.2 3.2l-3.2 3.2l-3.2 -3.2z" fill="#3b6bb3"/>
<path d="M234 2345.4l3.2 3.2l-3.2 3.2l-3.2 -3.2z" fill="#3b6bb3"/>
<path d="M222 2441.2l3.2 3.2l-3.2 3.2l-3.2 -3.2z" fill="#3b6bb3"/>
<path d="M232.5 2444.8l3.2 3.2l-3.2 3.2l-3.2 -3.2z" fill="#3b6bb3"/>
<line x1="58.5" y1="2395.5" x2="143.5" y2="2395.5" stroke="#111" stroke-width="1.5"/>
<line x1="190.5" y1="2404" x2="275.5" y2="2404" stroke="#111" stroke-width="1.5"/>
<rect x="34" y="2252.5" width="266" height="213.5" fill="none" stroke="#111" stroke-width="2"/>
<line x1="27" y1="2270.5" x2="34" y2="2270.5" stroke="#111" stroke-width="2"/>
<text x="23" y="2278.5" font-family="Liberation Sans, sans-serif" font-size="22" text-anchor="end" fill="#111">8</text>
<line x1="27" y1="2306.0" x2="34" y2="2306.0" stroke="#111" stroke-width="2"/>
<text x="23" y="2314.0" font-family="Liberation Sans, sans-serif" font-size="22" text-anchor="end" fill="#111">6</text>
<line x1="27" y1="2341.5" x2="34" y2="2341.5" stroke="#111" stroke-width="2"/>
<text x="23" y="2349.5" font-family="Liberation Sans, sans-serif" font-size="22" text-anchor="end" fill="#111">4</text>
<line x1="27" y1="2377.0" x2="34" y2="2377.0" stroke="#111" stroke-width="2"/>
<text x="23" y="2385.0" font-family="Liberation Sans, sans-serif" font-size="22" text-anchor="end" fill="#111">2</text>
<line x1="27" y1="2412.5" x2="34" y2="2412.5" stroke="#111" stroke-width="2"/>
<text x="23" y="2420.5" font-family="Liberation Sans, sans-serif" font-size="22" text-anchor="end" fill="#111">0</text>
<line x1="27" y1="2448.0" x2="34" y2="2448.0" stroke="#111" stroke-width="2"/>
<text x="23" y="2456.0" font-family="Liberation Sans, sans-serif" font-size="22" text-anchor="end" fill="#111">-2</text>
<line x1="101" y1="2466" x2="101" y2="2472" stroke="#111" stroke-width="2"/>
<text x="101" y="2494" font-family="Liberation Sans, sans-serif" font-size="21.7" text-anchor="middle" fill="#111">Top Layers</text>
<line x1="232.5" y1="2466" x2="232.5" y2="2472" stroke="#111" stroke-width="2"/>
<text x="232.5" y="2494" font-family="Liberation Sans, sans-serif" font-size="21.7" text-anchor="middle" fill="#111">Deep Layers</text>
<line x1="387.5" y1="2274" x2="471.5" y2="2274" stroke="#111" stroke-width="1.5"/>
<path d="M414 2271l3 3l-3 3l-3 -3z" fill="#e5332a"/>
<path d="M416 2271l3 3l-3 3l-3 -3z" fill="#e5332a"/>
<path d="M418 2271l3 3l-3 3l-3 -3z" fill="#e5332a"/>
<path d="M420 2271l3 3l-3 3l-3 -3z" fill="#e5332a"/>
<path d="M422 2271l3 3l-3 3l-3 -3z" fill="#e5332a"/>
<path d="M424 2271l3 3l-3 3l-3 -3z" fill="#e5332a"/>
<path d="M426 2271l3 3l-3 3l-3 -3z" fill="#e5332a"/>
<path d="M428 2271l3 3l-3 3l-3 -3z" fill="#e5332a"/>
<path d="M430 2271l3 3l-3 3l-3 -3z" fill="#e5332a"/>
<path d="M432 2271l3 3l-3 3l-3 -3z" fill="#e5332a"/>
<path d="M434 2271l3 3l-3 3l-3 -3z" fill="#e5332a"/>
<path d="M436 2271l3 3l-3 3l-3 -3z" fill="#e5332a"/>
<path d="M438 2271l3 3l-3 3l-3 -3z" fill="#e5332a"/>
<path d="M440 2271l3 3l-3 3l-3 -3z" fill="#e5332a"/>
<path d="M442 2271l3 3l-3 3l-3 -3z" fill="#e5332a"/>
<path d="M444 2271l3 3l-3 3l-3 -3z" fill="#e5332a"/>
<path d="M446 2271l3 3l-3 3l-3 -3z" fill="#e5332a"/>
<path d="M450.5 2271l3 3l-3 3l-3 -3z" fill="#e5332a"/>
<path d="M435 2298.1l3.2 3.2l-3.2 3.2l-3.2 -3.2z" fill="#e5332a"/>
<path d="M438.6 2326.8l3.2 3.2l-3.2 3.2l-3.2 -3.2z" fill="#e5332a"/>
<path d="M427 2418.8l3.2 3.2l-3.2 3.2l-3.2 -3.2z" fill="#e5332a"/>
<path d="M414 2435.8l3.2 3.2l-3.2 3.2l-3.2 -3.2z" fill="#e5332a"/>
<path d="M430 2435.8l3.2 3.2l-3.2 3.2l-3.2 -3.2z" fill="#e5332a"/>
<path d="M419 2441.5l3.2 3.2l-3.2 3.2l-3.2 -3.2z" fill="#e5332a"/>
<path d="M423 2441.5l3.2 3.2l-3.2 3.2l-3.2 -3.2z" fill="#e5332a"/>
<path d="M427 2441.5l3.2 3.2l-3.2 3.2l-3.2 -3.2z" fill="#e5332a"/>
<rect x="520" y="2316.5" width="85" height="51.5" fill="#3b6bb3"/>
<path d="M562.5 2277V2316.5M562.5 2368V2443M541.5 2277H582.5M541.5 2443H582.5" stroke="#3b6bb3" stroke-width="1.6" fill="none"/>
<path d="M565.3 2303.3l3.2 3.2l-3.2 3.2l-3.2 -3.2z" fill="#3b6bb3"/>
<path d="M566.2 2280.4l3.2 3.2l-3.2 3.2l-3.2 -3.2z" fill="#3b6bb3"/>
<path d="M561.7 2279.3l3.2 3.2l-3.2 3.2l-3.2 -3.2z" fill="#3b6bb3"/>
<path d="M559.7 2303.8l3.2 3.2l-3.2 3.2l-3.2 -3.2z" fill="#3b6bb3"/>
<path d="M560.6 2301.8l3.2 3.2l-3.2 3.2l-3.2 -3.2z" fill="#3b6bb3"/>
<path d="M564.9 2295.9l3.2 3.2l-3.2 3.2l-3.2 -3.2z" fill="#3b6bb3"/>
<path d="M579.6 2303l3.2 3.2l-3.2 3.2l-3.2 -3.2z" fill="#3b6bb3"/>
<path d="M560.2 2291.9l3.2 3.2l-3.2 3.2l-3.2 -3.2z" fill="#3b6bb3"/>
<path d="M569 2303.7l3.2 3.2l-3.2 3.2l-3.2 -3.2z" fill="#3b6bb3"/>
<path d="M562.9 2299.4l3.2 3.2l-3.2 3.2l-3.2 -3.2z" fill="#3b6bb3"/>
<path d="M559 2313.3l3.2 3.2l-3.2 3.2l-3.2 -3.2z" fill="#3b6bb3"/>
<path d="M568.6 2293.6l3.2 3.2l-3.2 3.2l-3.2 -3.2z" fill="#3b6bb3"/>
<path d="M563.4 2305.4l3.2 3.2l-3.2 3.2l-3.2 -3.2z" fill="#3b6bb3"/>
<path d="M564 2303l3.2 3.2l-3.2 3.2l-3.2 -3.2z" fill="#3b6bb3"/>
<path d="M562.6 2309.8l3.2 3.2l-3.2 3.2l-3.2 -3.2z" fill="#3b6bb3"/>
<path d="M565 2312.4l3.2 3.2l-3.2 3.2l-3.2 -3.2z" fill="#3b6bb3"/>
<path d="M564.9 2301.4l3.2 3.2l-3.2 3.2l-3.2 -3.2z" fill="#3b6bb3"/>
<path d="M571.9 2292.6l3.2 3.2l-3.2 3.2l-3.2 -3.2z" fill="#3b6bb3"/>
<path d="M558.8 2284l3.2 3.2l-3.2 3.2l-3.2 -3.2z" fill="#3b6bb3"/>
<path d="M556 2278.9l3.2 3.2l-3.2 3.2l-3.2 -3.2z" fill="#3b6bb3"/>
<path d="M556 2298.1l3.2 3.2l-3.2 3.2l-3.2 -3.2z" fill="#3b6bb3"/>
<path d="M579.4 2307.5l3.2 3.2l-3.2 3.2l-3.2 -3.2z" fill="#3b6bb3"/>
<path d="M562.9 2285l3.2 3.2l-3.2 3.2l-3.2 -3.2z" fill="#3b6bb3"/>
<path d="M562.6 2280.6l3.2 3.2l-3.2 3.2l-3.2 -3.2z" fill="#3b6bb3"/>
<path d="M557.2 2278.4l3.2 3.2l-3.2 3.2l-3.2 -3.2z" fill="#3b6bb3"/>
<path d="M557 2281.5l3.2 3.2l-3.2 3.2l-3.2 -3.2z" fill="#3b6bb3"/>
<path d="M557 2307.9l3.2 3.2l-3.2 3.2l-3.2 -3.2z" fill="#3b6bb3"/>
<path d="M562.9 2280.7l3.2 3.2l-3.2 3.2l-3.2 -3.2z" fill="#3b6bb3"/>
<path d="M567.7 2281.8l3.2 3.2l-3.2 3.2l-3.2 -3.2z" fill="#3b6bb3"/>
<path d="M557 2278.4l3.2 3.2l-3.2 3.2l-3.2 -3.2z" fill="#3b6bb3"/>
<path d="M562.5 2286.6l3.2 3.2l-3.2 3.2l-3.2 -3.2z" fill="#3b6bb3"/>
<path d="M559.9 2312.1l3.2 3.2l-3.2 3.2l-3.2 -3.2z" fill="#3b6bb3"/>
<path d="M562.2 2308.1l3.2 3.2l-3.2 3.2l-3.2 -3.2z" fill="#3b6bb3"/>
<path d="M566.2 2280.6l3.2 3.2l-3.2 3.2l-3.2 -3.2z" fill="#3b6bb3"/>
<path d="M558.2 2291.5l3.2 3.2l-3.2 3.2l-3.2 -3.2z" fill="#3b6bb3"/>
<path d="M557.9 2286.7l3.2 3.2l-3.2 3.2l-3.2 -3.2z" fill="#3b6bb3"/>
<path d="M574.7 2294.2l3.2 3.2l-3.2 3.2l-3.2 -3.2z" fill="#3b6bb3"/>
<path d="M564.2 2284l3.2 3.2l-3.2 3.2l-3.2 -3.2z" fill="#3b6bb3"/>
<path d="M555.4 2293.6l3.2 3.2l-3.2 3.2l-3.2 -3.2z" fill="#3b6bb3"/>
<path d="M562.1 2310.7l3.2 3.2l-3.2 3.2l-3.2 -3.2z" fill="#3b6bb3"/>
<path d="M564 2284.5l3.2 3.2l-3.2 3.2l-3.2 -3.2z" fill="#3b6bb3"/>
<path d="M566.4 2302.9l3.2 3.2l-3.2 3.2l-3.2 -3.2z" fill="#3b6bb3"/>
<path d="M566.7 2284.8l3.2 3.2l-3.2 3.2l-3.2 -3.2z" fill="#3b6bb3"/>
<path d="M573.5 2275.1l3.2 3.2l-3.2 3.2l-3.2 -3.2z" fill="#3b6bb3"/>
<path d="M558.9 2294l3.2 3.2l-3.2 3.2l-3.2 -3.2z" fill="#3b6bb3"/>
<path d="M568.6 2286.6l3.2 3.2l-3.2 3.2l-3.2 -3.2z" fill="#3b6bb3"/>
<path d="M557.6 2283.3l3.2 3.2l-3.2 3.2l-3.2 -3.2z" fill="#3b6bb3"/>
<path d="M558.2 2310.3l3.2 3.2l-3.2 3.2l-3.2 -3.2z" fill="#3b6bb3"/>
<path d="M563.8 2307.5l3.2 3.2l-3.2 3.2l-3.2 -3.2z" fill="#3b6bb3"/>
<path d="M573.9 2301.4l3.2 3.2l-3.2 3.2l-3.2 -3.2z" fill="#3b6bb3"/>
<path d="M566.1 2291.1l3.2 3.2l-3.2 3.2l-3.2 -3.2z" fill="#3b6bb3"/>
<path d="M564.2 2302.8l3.2 3.2l-3.2 3.2l-3.2 -3.2z" fill="#3b6bb3"/>
<path d="M560.8 2287l3.2 3.2l-3.2 3.2l-3.2 -3.2z" fill="#3b6bb3"/>
<path d="M555.6 2301.9l3.2 3.2l-3.2 3.2l-3.2 -3.2z" fill="#3b6bb3"/>
<path d="M557.4 2293.1l3.2 3.2l-3.2 3.2l-3.2 -3.2z" fill="#3b6bb3"/>
<path d="M565.5 2308.7l3.2 3.2l-3.2 3.2l-3.2 -3.2z" fill="#3b6bb3"/>
<path d="M569.2 2278.4l3.2 3.2l-3.2 3.2l-3.2 -3.2z" fill="#3b6bb3"/>
<path d="M579.8 2276.7l3.2 3.2l-3.2 3.2l-3.2 -3.2z" fill="#3b6bb3"/>
<path d="M553.3 2312.6l3.2 3.2l-3.2 3.2l-3.2 -3.2z" fill="#3b6bb3"/>
<path d="M566.8 2275.4l3.2 3.2l-3.2 3.2l-3.2 -3.2z" fill="#3b6bb3"/>
<path d="M563.5 2295.7l3.2 3.2l-3.2 3.2l-3.2 -3.2z" fill="#3b6bb3"/>
<path d="M568.1 2276.3l3.2 3.2l-3.2 3.2l-3.2 -3.2z" fill="#3b6bb3"/>
<path d="M561.1 2305.1l3.2 3.2l-3.2 3.2l-3.2 -3.2z" fill="#3b6bb3"/>
<path d="M562.4 2292.8l3.2 3.2l-3.2 3.2l-3.2 -3.2z" fill="#3b6bb3"/>
<path d="M571.5 2276l3.2 3.2l-3.2 3.2l-3.2 -3.2z" fill="#3b6bb3"/>
<path d="M572.2 2293.4l3.2 3.2l-3.2 3.2l-3.2 -3.2z" fill="#3b6bb3"/>
<path d="M562.7 2278.6l3.2 3.2l-3.2 3.2l-3.2 -3.2z" fill="#3b6bb3"/>
<path d="M559.8 2278.2l3.2 3.2l-3.2 3.2l-3.2 -3.2z" fill="#3b6bb3"/>
<path d="M564.5 2294.3l3.2 3.2l-3.2 3.2l-3.2 -3.2z" fill="#3b6bb3"/>
<path d="M564.1 2294.1l3.2 3.2l-3.2 3.2l-3.2 -3.2z" fill="#3b6bb3"/>
<path d="M561.1 2341.3l3.2 3.2l-3.2 3.2l-3.2 -3.2z" fill="#3b6bb3"/>
<path d="M566.7 2346.8l3.2 3.2l-3.2 3.2l-3.2 -3.2z" fill="#3b6bb3"/>
<path d="M562.8 2348.2l3.2 3.2l-3.2 3.2l-3.2 -3.2z" fill="#3b6bb3"/>
<path d="M562.1 2326l3.2 3.2l-3.2 3.2l-3.2 -3.2z" fill="#3b6bb3"/>
<path d="M575.8 2321.5l3.2 3.2l-3.2 3.2l-3.2 -3.2z" fill="#3b6bb3"/>
<path d="M575 2327.9l3.2 3.2l-3.2 3.2l-3.2 -3.2z" fill="#3b6bb3"/>
<path d="M560.6 2318.3l3.2 3.2l-3.2 3.2l-3.2 -3.2z" fill="#3b6bb3"/>
<path d="M570 2344.3l3.2 3.2l-3.2 3.2l-3.2 -3.2z" fill="#3b6bb3"/>
<path d="M556.1 2313.4l3.2 3.2l-3.2 3.2l-3.2 -3.2z" fill="#3b6bb3"/>
<path d="M558.5 2342.5l3.2 3.2l-3.2 3.2l-3.2 -3.2z" fill="#3b6bb3"/>
<path d="M566 2350.3l3.2 3.2l-3.2 3.2l-3.2 -3.2z" fill="#3b6bb3"/>
<path d="M563.6 2321.7l3.2 3.2l-3.2 3.2l-3.2 -3.2z" fill="#3b6bb3"/>
<path d="M568.1 2349.7l3.2 3.2l-3.2 3.2l-3.2 -3.2z" fill="#3b6bb3"/>
<path d="M560.1 2350.7l3.2 3.2l-3.2 3.2l-3.2 -3.2z" fill="#3b6bb3"/>
<path d="M565.4 2338.2l3.2 3.2l-3.2 3.2l-3.2 -3.2z" fill="#3b6bb3"/>
<path d="M569.7 2315.5l3.2 3.2l-3.2 3.2l-3.2 -3.2z" fill="#3b6bb3"/>
<path d="M566.8 2319.2l3.2 3.2l-3.2 3.2l-3.2 -3.2z" fill="#3b6bb3"/>
<path d="M552.1 2317.7l3.2 3.2l-3.2 3.2l-3.2 -3.2z" fill="#3b6bb3"/>
<path d="M550.3 2316.3l3.2 3.2l-3.2 3.2l-3.2 -3.2z" fill="#3b6bb3"/>
<path d="M558.6 2361.8l3.2 3.2l-3.2 3.2l-3.2 -3.2z" fill="#3b6bb3"/>
<path d="M549.8 2327l3.2 3.2l-3.2 3.2l-3.2 -3.2z" fill="#3b6bb3"/>
<path d="M566.6 2331.4l3.2 3.2l-3.2 3.2l-3.2 -3.2z" fill="#3b6bb3"/>
<path d="M579.9 2349.7l3.2 3.2l-3.2 3.2l-3.2 -3.2z" fill="#3b6bb3"/>
<path d="M568 2357.8l3.2 3.2l-3.2 3.2l-3.2 -3.2z" fill="#3b6bb3"/>
<path d="M558.8 2340.2l3.2 3.2l-3.2 3.2l-3.2 -3.2z" fill="#3b6bb3"/>
<path d="M568.1 2326.6l3.2 3.2l-3.2 3.2l-3.2 -3.2z" fill="#3b6bb3"/>
<path d="M561.8 2314.5l3.2 3.2l-3.2 3.2l-3.2 -3.2z" fill="#3b6bb3"/>
<path d="M574.2 2349l3.2 3.2l-3.2 3.2l-3.2 -3.2z" fill="#3b6bb3"/>
<path d="M558.7 2335.9l3.2 3.2l-3.2 3.2l-3.2 -3.2z" fill="#3b6bb3"/>
<path d="M565.5 2356.1l3.2 3.2l-3.2 3.2l-3.2 -3.2z" fill="#3b6bb3"/>
<path d="M570.3 2353.7l3.2 3.2l-3.2 3.2l-3.2 -3.2z" fill="#3b6bb3"/>
<path d="M557.3 2353.1l3.2 3.2l-3.2 3.2l-3.2 -3.2z" fill="#3b6bb3"/>
<path d="M571.2 2318.1l3.2 3.2l-3.2 3.2l-3.2 -3.2z" fill="#3b6bb3"/>
<path d="M562.3 2357.2l3.2 3.2l-3.2 3.2l-3.2 -3.2z" fill="#3b6bb3"/>
<path d="M568.7 2354.5l3.2 3.2l-3.2 3.2l-3.2 -3.2z" fill="#3b6bb3"/>
<path d="M566.4 2359.7l3.2 3.2l-3.2 3.2l-3.2 -3.2z" fill="#3b6bb3"/>
<path d="M562 2352.1l3.2 3.2l-3.2 3.2l-3.2 -3.2z" fill="#3b6bb3"/>
<path d="M572.9 2319.1l3.2 3.2l-3.2 3.2l-3.2 -3.2z" fill="#3b6bb3"/>
<path d="M555.4 2326.1l3.2 3.2l-3.2 3.2l-3.2 -3.2z" fill="#3b6bb3"/>
<path d="M566.8 2337.6l3.2 3.2l-3.2 3.2l-3.2 -3.2z" fill="#3b6bb3"/>
<path d="M560.9 2372.8l3.2 3.2l-3.2 3.2l-3.2 -3.2z" fill="#3b6bb3"/>
<path d="M563.8 2374.1l3.2 3.2l-3.2 3.2l-3.2 -3.2z" fill="#3b6bb3"/>
<path d="M567 2364.7l3.2 3.2l-3.2 3.2l-3.2 -3.2z" fill="#3b6bb3"/>
<path d="M567 2369.3l3.2 3.2l-3.2 3.2l-3.2 -3.2z" fill="#3b6bb3"/>
<path d="M563 2366.2l3.2 3.2l-3.2 3.2l-3.2 -3.2z" fill="#3b6bb3"/>
<path d="M566.7 2374.5l3.2 3.2l-3.2 3.2l-3.2 -3.2z" fill="#3b6bb3"/>
<path d="M548 2372.5l3.2 3.2l-3.2 3.2l-3.2 -3.2z" fill="#3b6bb3"/>
<path d="M567 2366.4l3.2 3.2l-3.2 3.2l-3.2 -3.2z" fill="#3b6bb3"/>
<path d="M563.5 2366l3.2 3.2l-3.2 3.2l-3.2 -3.2z" fill="#3b6bb3"/>
<path d="M562.2 2368.3l3.2 3.2l-3.2 3.2l-3.2 -3.2z" fill="#3b6bb3"/>
<path d="M554.1 2365.7l3.2 3.2l-3.2 3.2l-3.2 -3.2z" fill="#3b6bb3"/>
<path d="M563.3 2377.9l3.2 3.2l-3.2 3.2l-3.2 -3.2z" fill="#3b6bb3"/>
<path d="M572 2372.6l3.2 3.2l-3.2 3.2l-3.2 -3.2z" fill="#3b6bb3"/>
<path d="M557 2366.3l3.2 3.2l-3.2 3.2l-3.2 -3.2z" fill="#3b6bb3"/>
<path d="M562 2364.7l3.2 3.2l-3.2 3.2l-3.2 -3.2z" fill="#3b6bb3"/>
<path d="M564.9 2375.8l3.2 3.2l-3.2 3.2l-3.2 -3.2z" fill="#3b6bb3"/>
<path d="M556.1 2370.8l3.2 3.2l-3.2 3.2l-3.2 -3.2z" fill="#3b6bb3"/>
<path d="M549 2368.1l3.2 3.2l-3.2 3.2l-3.2 -3.2z" fill="#3b6bb3"/>
<path d="M569.9 2439.1l3.2 3.2l-3.2 3.2l-3.2 -3.2z" fill="#3b6bb3"/>
<path d="M563.5 2439.6l3.2 3.2l-3.2 3.2l-3.2 -3.2z" fill="#3b6bb3"/>
<path d="M570.5 2440.7l3.2 3.2l-3.2 3.2l-3.2 -3.2z" fill="#3b6bb3"/>
<path d="M574.6 2440.2l3.2 3.2l-3.2 3.2l-3.2 -3.2z" fill="#3b6bb3"/>
<path d="M556.1 2439.2l3.2 3.2l-3.2 3.2l-3.2 -3.2z" fill="#3b6bb3"/>
<path d="M554.6 2440.5l3.2 3.2l-3.2 3.2l-3.2 -3.2z" fill="#3b6bb3"/>
<path d="M568 2439.2l3.2 3.2l-3.2 3.2l-3.2 -3.2z" fill="#3b6bb3"/>
<path d="M549.1 2440.5l3.2 3.2l-3.2 3.2l-3.2 -3.2z" fill="#3b6bb3"/>
<path d="M564.5 2439.5l3.2 3.2l-3.2 3.2l-3.2 -3.2z" fill="#3b6bb3"/>
<path d="M553.7 2439.8l3.2 3.2l-3.2 3.2l-3.2 -3.2z" fill="#3b6bb3"/>
<path d="M547.3 2439.3l3.2 3.2l-3.2 3.2l-3.2 -3.2z" fill="#3b6bb3"/>
<path d="M560.8 2440l3.2 3.2l-3.2 3.2l-3.2 -3.2z" fill="#3b6bb3"/>
<path d="M566.3 2438.4l3.2 3.2l-3.2 3.2l-3.2 -3.2z" fill="#3b6bb3"/>
<path d="M561.3 2438.5l3.2 3.2l-3.2 3.2l-3.2 -3.2z" fill="#3b6bb3"/>
<path d="M554.4 2440.2l3.2 3.2l-3.2 3.2l-3.2 -3.2z" fill="#3b6bb3"/>
<path d="M568.1 2438.4l3.2 3.2l-3.2 3.2l-3.2 -3.2z" fill="#3b6bb3"/>
<path d="M547.7 2440l3.2 3.2l-3.2 3.2l-3.2 -3.2z" fill="#3b6bb3"/>
<path d="M567.2 2439.5l3.2 3.2l-3.2 3.2l-3.2 -3.2z" fill="#3b6bb3"/>
<path d="M554.7 2439.7l3.2 3.2l-3.2 3.2l-3.2 -3.2z" fill="#3b6bb3"/>
<path d="M574.8 2439.1l3.2 3.2l-3.2 3.2l-3.2 -3.2z" fill="#3b6bb3"/>
<path d="M548 2440.2l3.2 3.2l-3.2 3.2l-3.2 -3.2z" fill="#3b6bb3"/>
<path d="M559.6 2439.9l3.2 3.2l-3.2 3.2l-3.2 -3.2z" fill="#3b6bb3"/>
<path d="M552.9 2439.1l3.2 3.2l-3.2 3.2l-3.2 -3.2z" fill="#3b6bb3"/>
<path d="M569.2 2438.8l3.2 3.2l-3.2 3.2l-3.2 -3.2z" fill="#3b6bb3"/>
<path d="M553.2 2439.5l3.2 3.2l-3.2 3.2l-3.2 -3.2z" fill="#3b6bb3"/>
<path d="M556.4 2438.3l3.2 3.2l-3.2 3.2l-3.2 -3.2z" fill="#3b6bb3"/>
<path d="M553.9 2438.7l3.2 3.2l-3.2 3.2l-3.2 -3.2z" fill="#3b6bb3"/>
<path d="M569.8 2440.2l3.2 3.2l-3.2 3.2l-3.2 -3.2z" fill="#3b6bb3"/>
<path d="M575.6 2440l3.2 3.2l-3.2 3.2l-3.2 -3.2z" fill="#3b6bb3"/>
<path d="M552.6 2439.5l3.2 3.2l-3.2 3.2l-3.2 -3.2z" fill="#3b6bb3"/>
<path d="M556 2423l3.2 3.2l-3.2 3.2l-3.2 -3.2z" fill="#3b6bb3"/>
<path d="M550 2434.9l3.2 3.2l-3.2 3.2l-3.2 -3.2z" fill="#3b6bb3"/>
<path d="M570 2434.9l3.2 3.2l-3.2 3.2l-3.2 -3.2z" fill="#3b6bb3"/>
<path d="M560 2274.2l3.2 3.2l-3.2 3.2l-3.2 -3.2z" fill="#3b6bb3"/>
<path d="M555 2279.3l3.2 3.2l-3.2 3.2l-3.2 -3.2z" fill="#3b6bb3"/>
<path d="M575 2281.9l3.2 3.2l-3.2 3.2l-3.2 -3.2z" fill="#3b6bb3"/>
<line x1="520" y1="2339" x2="605" y2="2339" stroke="#111" stroke-width="1.5"/>
<rect x="363" y="2252.5" width="264.5" height="213.5" fill="none" stroke="#111" stroke-width="2"/>
<line x1="356" y1="2274" x2="363" y2="2274" stroke="#111" stroke-width="2"/>
<text x="351" y="2282" font-family="Liberation Sans, sans-serif" font-size="22" text-anchor="end" fill="#111">1.0</text>
<line x1="356" y1="2316.5" x2="363" y2="2316.5" stroke="#111" stroke-width="2"/>
<text x="351" y="2324.5" font-family="Liberation Sans, sans-serif" font-size="22" text-anchor="end" fill="#111">0.5</text>
<line x1="356" y1="2359" x2="363" y2="2359" stroke="#111" stroke-width="2"/>
<text x="351" y="2367" font-family="Liberation Sans, sans-serif" font-size="22" text-anchor="end" fill="#111">0.0</text>
<line x1="356" y1="2401.5" x2="363" y2="2401.5" stroke="#111" stroke-width="2"/>
<text x="351" y="2409.5" font-family="Liberation Sans, sans-serif" font-size="22" text-anchor="end" fill="#111">-0.5</text>
<line x1="356" y1="2444" x2="363" y2="2444" stroke="#111" stroke-width="2"/>
<text x="351" y="2452" font-family="Liberation Sans, sans-serif" font-size="22" text-anchor="end" fill="#111">-1.0</text>
<line x1="429" y1="2466" x2="429" y2="2472" stroke="#111" stroke-width="2"/>
<text x="429" y="2494" font-family="Liberation Sans, sans-serif" font-size="21.7" text-anchor="middle" fill="#111">Top Layers</text>
<line x1="562.5" y1="2466" x2="562.5" y2="2472" stroke="#111" stroke-width="2"/>
<text x="562.5" y="2494" font-family="Liberation Sans, sans-serif" font-size="21.7" text-anchor="middle" fill="#111">Deep Layers</text>
<rect x="633" y="2251" width="31" height="16.5" fill="#c3b0d8"/>
<text x="670" y="2265" font-family="Liberation Sans, sans-serif" font-size="15" fill="#111">variable selection</text>
<rect x="791" y="2251" width="31" height="16.5" fill="#e89d9d"/>
<text x="827.5" y="2265" font-family="Liberation Sans, sans-serif" font-size="15" fill="#111">homogenizing dispersal</text>
<rect x="990" y="2251" width="31" height="16.5" fill="#88c38a"/>
<text x="1027" y="2265" font-family="Liberation Sans, sans-serif" font-size="15" fill="#111">dispersal limitation</text>
<rect x="1155" y="2251" width="31" height="16.5" fill="#a6dccd"/>
<text x="1192" y="2265" font-family="Liberation Sans, sans-serif" font-size="15" fill="#111">ecological drift</text>
<defs><linearGradient id="pa0" x1="672.5" x2="938.5" y1="0" y2="0" gradientUnits="userSpaceOnUse"><stop offset="0" stop-color="#8a7a9a"/><stop offset="1" stop-color="#5a4a6a"/></linearGradient><linearGradient id="pa1" x1="672.5" x2="938.5" y1="0" y2="0" gradientUnits="userSpaceOnUse"><stop offset="0" stop-color="#6a3e3e"/><stop offset="1" stop-color="#5a3434"/></linearGradient><linearGradient id="pa2" x1="672.5" x2="938.5" y1="0" y2="0" gradientUnits="userSpaceOnUse"><stop offset="0" stop-color="#72a472"/><stop offset="0.5" stop-color="#4f7e50"/><stop offset="1" stop-color="#2f4d30"/></linearGradient><linearGradient id="pa3" x1="672.5" x2="938.5" y1="0" y2="0" gradientUnits="userSpaceOnUse"><stop offset="0" stop-color="#7aa99c"/><stop offset="1" stop-color="#3a5a52"/></linearGradient></defs><path d="M938.5 2361.5 L938.5 2361.9 L938.5 2362.3 L938.5 2362.7 L938.5 2363 L938.5 2363.4 L938.4 2363.8 L938.4 2364.2 L938.4 2364.6 L938.4 2365 L938.3 2365.4 L938.3 2365.7 L938.3 2366.1 L938.2 2366.5 L938.2 2366.9 L938.2 2367.3 L938.1 2367.7 L938.1 2368 L938 2368.4 L937.9 2368.8 L937.9 2369.2 L937.8 2369.6 L937.8 2370 L937.7 2370.3 L937.6 2370.7 L937.5 2371.1 L937.5 2371.5 L937.4 2371.9 L937.3 2372.3 L937.2 2372.6 L937.1 2373 L937.1 2414 L937.2 2413.6 L937.3 2413.3 L937.4 2412.9 L937.5 2412.5 L937.5 2412.1 L937.6 2411.7 L937.7 2411.3 L937.8 2411 L937.8 2410.6 L937.9 2410.2 L937.9 2409.8 L938 2409.4 L938.1 2409 L938.1 2408.7 L938.2 2408.3 L938.2 2407.9 L938.2 2407.5 L938.3 2407.1 L938.3 2406.7 L938.3 2406.4 L938.4 2406 L938.4 2405.6 L938.4 2405.2 L938.4 2404.8 L938.5 2404.4 L938.5 2404 L938.5 2403.7 L938.5 2403.3 L938.5 2402.9 L938.5 2402.5Z" fill="url(#pa0)" stroke="#ffffff" stroke-width="0.6"/><path d="M937.1 2373 L937 2373.5 L936.9 2374 L936.7 2374.5 L936.6 2375 L936.4 2375.5 L936.3 2376 L936.1 2376.5 L936 2377 L935.8 2377.5 L935.7 2378 L935.5 2378.5 L935.3 2379 L935.1 2379.4 L934.9 2379.9 L934.7 2380.4 L934.5 2380.9 L934.3 2381.4 L934.1 2381.9 L933.9 2382.4 L933.7 2382.9 L933.4 2383.3 L933.2 2383.8 L933 2384.3 L932.7 2384.8 L932.5 2385.3 L932.2 2385.7 L932 2386.2 L931.7 2386.7 L931.5 2387.2 L931.2 2387.7 L931.2 2428.7 L931.5 2428.2 L931.7 2427.7 L932 2427.2 L932.2 2426.7 L932.5 2426.3 L932.7 2425.8 L933 2425.3 L933.2 2424.8 L933.4 2424.3 L933.7 2423.9 L933.9 2423.4 L934.1 2422.9 L934.3 2422.4 L934.5 2421.9 L934.7 2421.4 L934.9 2420.9 L935.1 2420.4 L935.3 2420 L935.5 2419.5 L935.7 2419 L935.8 2418.5 L936 2418 L936.1 2417.5 L936.3 2417 L936.4 2416.5 L936.6 2416 L936.7 2415.5 L936.9 2415 L937 2414.5 L937.1 2414Z" fill="url(#pa1)" stroke="#ffffff" stroke-width="0.6"/><path d="M931.2 2387.7 L926.6 2394.6 L920.9 2401.3 L914.2 2407.6 L906.6 2413.5 L898.1 2419 L888.7 2423.9 L878.7 2428.3 L868 2432.1 L856.7 2435.3 L845 2437.9 L833 2439.8 L820.7 2441 L808.3 2441.5 L795.8 2441.3 L783.5 2440.4 L771.3 2438.8 L759.4 2436.5 L748 2433.6 L737 2430.1 L726.7 2425.9 L717 2421.2 L708.1 2416 L700.1 2410.3 L692.9 2404.1 L686.8 2397.6 L681.7 2390.8 L677.7 2383.7 L674.8 2376.4 L673.1 2369 L672.5 2361.5 L672.5 2402.5 L673.1 2410 L674.8 2417.4 L677.7 2424.7 L681.7 2431.8 L686.8 2438.6 L692.9 2445.1 L700.1 2451.3 L708.1 2457 L717 2462.2 L726.7 2466.9 L737 2471.1 L748 2474.6 L759.4 2477.5 L771.3 2479.8 L783.5 2481.4 L795.8 2482.3 L808.3 2482.5 L820.7 2482 L833 2480.8 L845 2478.9 L856.7 2476.3 L868 2473.1 L878.7 2469.3 L888.7 2464.9 L898.1 2460 L906.6 2454.5 L914.2 2448.6 L920.9 2442.3 L926.6 2435.6 L931.2 2428.7Z" fill="url(#pa2)" stroke="#ffffff" stroke-width="0.6"/><path d="M805.5 2361.5L805.5 2281.5A133 80 0 0 1 937.1 2373Z" fill="#c3b0d8" stroke="#fff" stroke-width="1"/><path d="M805.5 2361.5L937.1 2373A133 80 0 0 1 931.2 2387.7Z" fill="#e89d9d" stroke="#fff" stroke-width="1"/><path d="M805.5 2361.5L931.2 2387.7A133 80 0 1 1 767.6 2284.8Z" fill="#88c38a" stroke="#fff" stroke-width="1"/><path d="M805.5 2361.5L767.6 2284.8A133 80 0 0 1 804.7 2281.5Z" fill="#a6dccd" stroke="#fff" stroke-width="1"/>
<defs><linearGradient id="pb0" x1="979.5" x2="1243.5" y1="0" y2="0" gradientUnits="userSpaceOnUse"><stop offset="0" stop-color="#8a7a9a"/><stop offset="1" stop-color="#5a4a6a"/></linearGradient><linearGradient id="pb1" x1="979.5" x2="1243.5" y1="0" y2="0" gradientUnits="userSpaceOnUse"><stop offset="0" stop-color="#6a3e3e"/><stop offset="1" stop-color="#5a3434"/></linearGradient><linearGradient id="pb2" x1="979.5" x2="1243.5" y1="0" y2="0" gradientUnits="userSpaceOnUse"><stop offset="0" stop-color="#4a704a"/><stop offset="1" stop-color="#2f4d30"/></linearGradient><linearGradient id="pb3" x1="979.5" x2="1243.5" y1="0" y2="0" gradientUnits="userSpaceOnUse"><stop offset="0" stop-color="#86b3a8"/><stop offset="0.6" stop-color="#55796f"/><stop offset="1" stop-color="#3a524c"/></linearGradient></defs><path d="M1243.5 2361.5 L1243.5 2363.2 L1243.4 2365 L1243.2 2366.7 L1243 2368.4 L1242.7 2370.2 L1242.4 2371.9 L1241.9 2373.6 L1241.5 2375.3 L1240.9 2377 L1240.3 2378.7 L1239.7 2380.4 L1238.9 2382.1 L1238.1 2383.8 L1237.3 2385.4 L1236.4 2387.1 L1235.4 2388.7 L1234.4 2390.4 L1233.3 2392 L1232.1 2393.6 L1230.9 2395.1 L1229.7 2396.7 L1228.4 2398.2 L1227 2399.8 L1225.5 2401.3 L1224 2402.8 L1222.5 2404.2 L1220.9 2405.7 L1219.3 2407.1 L1217.6 2408.5 L1215.8 2409.9 L1215.8 2450.9 L1217.6 2449.5 L1219.3 2448.1 L1220.9 2446.7 L1222.5 2445.2 L1224 2443.8 L1225.5 2442.3 L1227 2440.8 L1228.4 2439.2 L1229.7 2437.7 L1230.9 2436.1 L1232.1 2434.6 L1233.3 2433 L1234.4 2431.4 L1235.4 2429.7 L1236.4 2428.1 L1237.3 2426.4 L1238.1 2424.8 L1238.9 2423.1 L1239.7 2421.4 L1240.3 2419.7 L1240.9 2418 L1241.5 2416.3 L1241.9 2414.6 L1242.4 2412.9 L1242.7 2411.2 L1243 2409.4 L1243.2 2407.7 L1243.4 2406 L1243.5 2404.2 L1243.5 2402.5Z" fill="url(#pb1)" stroke="#ffffff" stroke-width="0.6"/><path d="M1215.8 2409.9 L1215.7 2410 L1215.7 2410 L1215.6 2410.1 L1215.5 2410.1 L1215.5 2410.2 L1215.4 2410.2 L1215.3 2410.3 L1215.3 2410.3 L1215.2 2410.4 L1215.1 2410.4 L1215.1 2410.5 L1215 2410.5 L1214.9 2410.6 L1214.8 2410.6 L1214.8 2410.7 L1214.7 2410.8 L1214.6 2410.8 L1214.6 2410.9 L1214.5 2410.9 L1214.4 2411 L1214.4 2411 L1214.3 2411.1 L1214.2 2411.1 L1214.2 2411.2 L1214.1 2411.2 L1214 2411.3 L1213.9 2411.3 L1213.9 2411.4 L1213.8 2411.4 L1213.7 2411.5 L1213.7 2452.5 L1213.8 2452.4 L1213.9 2452.4 L1213.9 2452.3 L1214 2452.3 L1214.1 2452.2 L1214.2 2452.2 L1214.2 2452.1 L1214.3 2452.1 L1214.4 2452 L1214.4 2452 L1214.5 2451.9 L1214.6 2451.9 L1214.6 2451.8 L1214.7 2451.8 L1214.8 2451.7 L1214.8 2451.6 L1214.9 2451.6 L1215 2451.5 L1215.1 2451.5 L1215.1 2451.4 L1215.2 2451.4 L1215.3 2451.3 L1215.3 2451.3 L1215.4 2451.2 L1215.5 2451.2 L1215.5 2451.1 L1215.6 2451.1 L1215.7 2451 L1215.7 2451 L1215.8 2450.9Z" fill="url(#pb2)" stroke="#ffffff" stroke-width="0.6"/><path d="M1213.7 2411.5 L1206.6 2416.3 L1198.8 2420.8 L1190.4 2424.9 L1181.4 2428.5 L1172 2431.7 L1162.2 2434.4 L1152.1 2436.7 L1141.7 2438.4 L1131.1 2439.6 L1120.3 2440.3 L1109.5 2440.5 L1098.7 2440.1 L1088 2439.2 L1077.5 2437.8 L1067.2 2435.9 L1057.2 2433.5 L1047.5 2430.6 L1038.3 2427.2 L1029.5 2423.4 L1021.3 2419.2 L1013.8 2414.6 L1006.8 2409.6 L1000.6 2404.3 L995.1 2398.8 L990.4 2393 L986.5 2386.9 L983.5 2380.7 L981.3 2374.4 L979.9 2368 L979.5 2361.5 L979.5 2402.5 L979.9 2409 L981.3 2415.4 L983.5 2421.7 L986.5 2427.9 L990.4 2434 L995.1 2439.8 L1000.6 2445.3 L1006.8 2450.6 L1013.8 2455.6 L1021.3 2460.2 L1029.5 2464.4 L1038.3 2468.2 L1047.5 2471.6 L1057.2 2474.5 L1067.2 2476.9 L1077.5 2478.8 L1088 2480.2 L1098.7 2481.1 L1109.5 2481.5 L1120.3 2481.3 L1131.1 2480.6 L1141.7 2479.4 L1152.1 2477.7 L1162.2 2475.4 L1172 2472.7 L1181.4 2469.5 L1190.4 2465.9 L1198.8 2461.8 L1206.6 2457.3 L1213.7 2452.5Z" fill="url(#pb3)" stroke="#ffffff" stroke-width="0.6"/><path d="M1111.5 2361.5L1111.5 2282.5A132 79 0 0 1 1231.3 2328.3Z" fill="#c3b0d8" stroke="#fff" stroke-width="1"/><path d="M1111.5 2361.5L1231.3 2328.3A132 79 0 0 1 1215.8 2409.9Z" fill="#e89d9d" stroke="#fff" stroke-width="1"/><path d="M1111.5 2361.5L1215.8 2409.9A132 79 0 0 1 1213.7 2411.5Z" fill="#88c38a" stroke="#fff" stroke-width="1"/><path d="M1111.5 2361.5L1213.7 2411.5A132 79 0 1 1 1111.5 2282.5Z" fill="#a6dccd" stroke="#fff" stroke-width="1"/>
<text x="794.5" y="2309.8" font-family="Liberation Sans, sans-serif" font-size="17.6" text-anchor="middle" fill="#111">4.5%</text>
<text x="883.5" y="2332.8" font-family="Liberation Sans, sans-serif" font-size="17.6" text-anchor="middle" fill="#111">27.3%</text>
<text x="759.5" y="2415.3" font-family="Liberation Sans, sans-serif" font-size="17.6" text-anchor="middle" fill="#111">65.1%</text>
<text x="961" y="2436.3" font-family="Liberation Sans, sans-serif" font-size="17.6" text-anchor="middle" fill="#111">3%</text>
<text x="1162.5" y="2319.8" font-family="Liberation Sans, sans-serif" font-size="17.6" text-anchor="middle" fill="#111">18.1%</text>
<text x="1206" y="2376.3" font-family="Liberation Sans, sans-serif" font-size="17.6" text-anchor="middle" fill="#111">17.4%</text>
<text x="1039" y="2364.8" font-family="Liberation Sans, sans-serif" font-size="17.6" text-anchor="middle" fill="#111">64.1%</text>
<text x="1228.5" y="2475.3" font-family="Liberation Sans, sans-serif" font-size="17.6" text-anchor="middle" fill="#111">0.4%</text>
</svg></body></html>
